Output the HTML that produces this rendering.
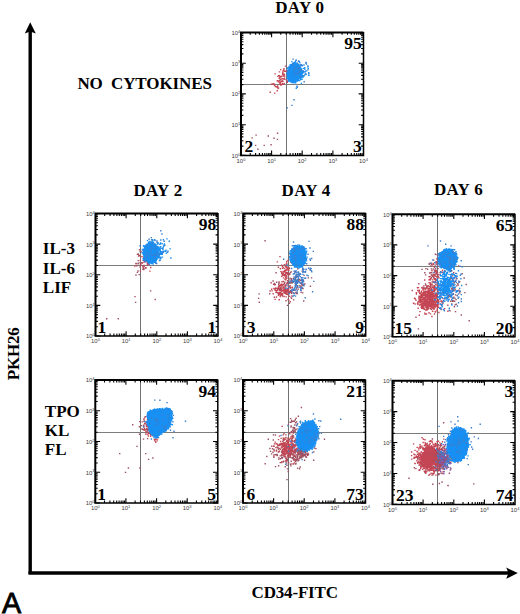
<!DOCTYPE html>
<html><head><meta charset="utf-8"><style>
html,body{margin:0;padding:0;background:#fff;width:520px;height:614px;overflow:hidden}
svg{display:block}
.h{font-family:"Liberation Serif",serif;font-weight:bold;font-size:17px;fill:#000}
.num{font-family:"Liberation Serif",serif;font-weight:bold;font-size:17.5px;fill:#000}
.tl{font-family:"Liberation Sans",sans-serif;font-size:5.9px;fill:#3a3a3a}
.sp{font-size:4px}
.A{font-family:"Liberation Sans",sans-serif;font-size:28.8px;fill:#000;stroke:#000;stroke-width:0.8px}
</style></head><body>
<svg width="520" height="614" viewBox="0 0 520 614">
<rect width="520" height="614" fill="#fff"/>
<path d="M286.5 32.4V155.4" stroke="#727272" stroke-width="1" fill="none"/>
<path d="M241 84.5H363.5" stroke="#7c7c7c" stroke-width="1" fill="none"/>
<path d="M279.7 79.3h1.4M283.7 74.4h1.4M277.6 81.7h1.4M279.6 76.7h1.4M280.0 85.1h1.4M279.5 76.7h1.4M278.9 75.8h1.4M281.8 78.8h1.4M283.5 79.4h1.4M278.8 78.2h1.4M282.0 74.5h1.4M279.4 80.1h1.4M269.5 92.3h1.4M285.4 79.6h1.4M286.6 82.4h1.4M287.5 72.0h1.4M279.5 82.1h1.4M272.1 84.0h1.4M278.8 71.9h1.4M276.8 87.4h1.4M284.7 66.1h1.4M283.2 74.7h1.4M283.2 76.2h1.4M285.2 71.3h1.4M277.8 88.0h1.4M274.4 73.9h1.4M281.4 80.8h1.4M286.0 80.0h1.4M279.6 83.5h1.4M279.2 77.3h1.4M279.0 80.8h1.4M281.3 76.2h1.4M286.7 81.3h1.4M286.7 68.2h1.4M274.0 85.3h1.4M284.1 71.3h1.4M282.2 84.2h1.4M274.7 86.5h1.4M270.7 84.3h1.4M276.5 90.7h1.4M283.0 70.3h1.4M280.8 81.6h1.4M282.7 78.9h1.4M279.2 84.3h1.4M278.0 75.6h1.4M280.5 79.1h1.4M278.5 78.3h1.4M280.0 69.6h1.4M280.8 84.8h1.4M273.2 83.8h1.4M283.9 78.3h1.4M274.0 93.1h1.4M282.2 81.2h1.4M277.7 81.0h1.4M282.4 70.9h1.4M277.0 86.0h1.4M282.1 73.0h1.4M281.6 83.4h1.4M277.4 88.5h1.4M279.1 82.7h1.4M284.0 76.1h1.4M275.6 86.7h1.4M283.3 68.8h1.4M283.3 74.3h1.4M276.6 80.8h1.4M277.2 76.4h1.4M280.5 76.8h1.4M273.8 85.4h1.4M283.5 83.5h1.4M282.2 72.2h1.4" stroke="#c44553" stroke-width="1.4" fill="none"/>
<path d="M294.3 72.2h1.4M298.4 65.5h1.4M297.5 72.8h1.4M290.5 80.2h1.4M296.2 64.5h1.4M298.9 71.2h1.4M295.9 69.1h1.4M295.2 73.1h1.4M290.6 79.6h1.4M298.2 61.3h1.4M300.8 74.1h1.4M298.3 70.1h1.4M298.1 73.6h1.4M299.7 68.3h1.4M297.1 71.8h1.4M301.1 76.3h1.4M299.7 67.1h1.4M297.0 72.8h1.4M299.5 73.6h1.4M298.2 78.3h1.4M288.1 81.3h1.4M294.2 81.2h1.4M301.7 75.8h1.4M292.0 68.1h1.4M292.6 74.1h1.4M298.8 68.6h1.4M292.3 69.1h1.4M298.9 68.5h1.4M296.8 71.9h1.4M294.7 61.7h1.4M291.5 78.3h1.4M297.5 70.6h1.4M296.4 71.6h1.4M293.2 79.6h1.4M301.0 77.0h1.4M299.6 72.7h1.4M299.8 71.1h1.4M300.7 83.4h1.4M296.1 74.7h1.4M301.5 75.8h1.4M300.5 73.3h1.4M297.6 80.2h1.4M299.9 78.0h1.4M295.6 88.3h1.4M308.0 72.6h1.4M303.0 68.4h1.4M304.1 69.4h1.4M300.4 79.3h1.4M298.4 70.9h1.4M298.9 80.6h1.4M299.6 65.0h1.4M299.8 74.8h1.4M296.3 86.3h1.4M297.6 76.6h1.4M296.6 63.9h1.4M292.4 67.6h1.4M305.8 64.0h1.4M298.5 72.5h1.4M307.2 67.0h1.4M294.1 74.9h1.4M296.8 66.2h1.4M299.9 74.5h1.4M294.8 77.5h1.4M299.9 79.5h1.4M302.3 71.3h1.4M292.7 67.3h1.4M300.9 64.8h1.4M290.9 69.4h1.4M307.9 75.2h1.4M304.1 67.7h1.4M298.4 78.8h1.4M302.0 73.2h1.4M297.9 78.3h1.4M297.4 73.8h1.4M299.4 67.8h1.4M297.1 71.0h1.4M291.2 66.7h1.4M299.5 67.1h1.4M301.1 77.4h1.4M295.8 75.3h1.4M298.0 76.7h1.4M296.8 66.4h1.4M294.7 64.0h1.4M301.0 65.6h1.4M303.1 72.0h1.4M291.8 68.6h1.4M304.8 71.2h1.4M300.3 70.4h1.4M291.0 74.3h1.4M298.6 61.6h1.4M296.6 75.9h1.4M293.5 73.6h1.4M301.0 75.0h1.4M294.4 64.0h1.4M297.3 78.8h1.4M298.4 68.5h1.4M300.4 72.2h1.4M295.4 60.3h1.4M294.4 73.9h1.4M295.7 67.8h1.4M300.9 73.0h1.4M294.4 67.4h1.4M294.5 75.3h1.4M301.5 79.1h1.4M292.0 76.3h1.4M290.0 65.3h1.4M298.9 69.0h1.4M297.1 71.6h1.4M298.6 67.7h1.4M301.0 71.5h1.4M292.7 70.3h1.4M301.7 65.8h1.4M301.2 68.9h1.4M299.8 73.8h1.4M304.0 75.0h1.4M296.3 62.9h1.4M298.7 68.9h1.4M303.3 75.6h1.4M301.8 72.2h1.4M293.0 66.6h1.4M291.2 61.6h1.4M301.7 71.5h1.4M297.3 72.4h1.4M300.6 76.0h1.4M296.3 68.2h1.4M302.4 77.1h1.4M296.3 65.6h1.4M299.2 74.5h1.4M295.0 81.5h1.4M299.2 71.0h1.4M307.6 68.6h1.4M299.3 68.0h1.4M306.0 70.9h1.4M298.4 72.7h1.4M292.8 75.5h1.4M308.3 75.4h1.4M296.3 65.5h1.4M295.7 71.3h1.4M299.2 62.9h1.4M305.5 74.2h1.4" stroke="#178ff3" stroke-width="1.4" fill="none"/>
<clipPath id="cA2"><rect x="286.8" y="0" width="600" height="700"/></clipPath>
<ellipse cx="293.8" cy="73.3" rx="6.4" ry="9.1" transform="rotate(8 293.8 73.3)" fill="#178ff3" clip-path="url(#cA2)"/>
<path d="M297.6 71.6h1.4M290.8 78.5h1.4M288.0 70.0h1.4M294.6 76.1h1.4M286.4 68.5h1.4M291.8 66.9h1.4M295.3 81.6h1.4M295.0 80.2h1.4M289.1 67.5h1.4M292.7 64.5h1.4M293.9 78.3h1.4M289.5 66.7h1.4M290.7 64.4h1.4M288.6 69.0h1.4M292.1 78.8h1.4M287.0 75.0h1.4M288.5 69.6h1.4M301.1 70.4h1.4M296.7 65.2h1.4M291.5 68.4h1.4M295.9 72.2h1.4M290.2 81.1h1.4M292.7 81.1h1.4M296.7 78.8h1.4M294.6 80.5h1.4M288.4 66.5h1.4M295.1 78.6h1.4M288.3 78.3h1.4M287.1 72.9h1.4M297.7 78.1h1.4M288.7 78.9h1.4M292.2 79.6h1.4M298.1 70.5h1.4M290.8 71.8h1.4M290.9 80.6h1.4M299.6 70.2h1.4M292.7 70.7h1.4M295.4 66.0h1.4M296.9 75.7h1.4M288.7 69.0h1.4M295.6 68.0h1.4M291.7 79.6h1.4M293.2 65.6h1.4M290.5 78.1h1.4M295.7 64.0h1.4M290.5 80.9h1.4M298.3 70.9h1.4M292.1 67.2h1.4M296.3 67.3h1.4M290.8 75.1h1.4M298.5 71.3h1.4M289.7 69.6h1.4M293.7 69.8h1.4M296.3 70.1h1.4M297.6 64.5h1.4M292.4 75.0h1.4M293.9 62.4h1.4M298.5 72.3h1.4M297.9 71.1h1.4M295.9 78.4h1.4M289.1 75.3h1.4M288.1 80.0h1.4M295.5 77.9h1.4M297.6 72.9h1.4M293.8 66.6h1.4M294.2 65.9h1.4M299.4 67.0h1.4M297.6 76.5h1.4M295.6 75.5h1.4M293.3 64.3h1.4M297.2 68.7h1.4M289.6 76.7h1.4M295.3 67.1h1.4M293.1 68.1h1.4M298.7 67.2h1.4M287.8 75.8h1.4M299.1 73.2h1.4M294.2 63.8h1.4M294.4 62.4h1.4M296.1 71.6h1.4M291.3 66.9h1.4M297.3 75.1h1.4M292.6 78.0h1.4M300.4 73.8h1.4M293.2 80.4h1.4M297.7 78.4h1.4M298.3 73.7h1.4M286.9 74.8h1.4M299.0 70.5h1.4M292.1 77.5h1.4M292.9 63.6h1.4M286.9 75.9h1.4M292.9 64.3h1.4M288.0 75.1h1.4M296.2 69.6h1.4M291.1 72.8h1.4M295.4 76.0h1.4M289.8 76.3h1.4M287.4 75.0h1.4M291.0 77.1h1.4M298.7 74.5h1.4M295.5 77.7h1.4M295.9 64.9h1.4M300.5 74.5h1.4M289.2 67.1h1.4M297.7 79.3h1.4M287.1 78.4h1.4M297.7 66.0h1.4M296.4 77.0h1.4M295.3 68.5h1.4M291.1 66.6h1.4M294.8 75.7h1.4M290.0 81.0h1.4M296.4 77.5h1.4M290.3 81.6h1.4M291.4 79.8h1.4M299.7 74.1h1.4M291.7 82.6h1.4M294.8 66.9h1.4M292.2 81.7h1.4M298.1 75.0h1.4M289.5 78.4h1.4M296.1 68.2h1.4M291.1 68.9h1.4M289.5 68.4h1.4M297.4 73.7h1.4M294.8 80.6h1.4M293.5 65.4h1.4M290.8 74.5h1.4M299.9 77.2h1.4M298.1 78.2h1.4M286.3 73.3h1.4M289.8 80.1h1.4M290.9 81.6h1.4M296.5 67.7h1.4M289.6 64.7h1.4M289.9 77.9h1.4M299.7 71.5h1.4M289.7 76.8h1.4M291.3 70.8h1.4M293.0 81.8h1.4M287.8 70.0h1.4M293.3 67.0h1.4M296.1 64.2h1.4M295.5 78.6h1.4M292.2 69.3h1.4M298.1 69.9h1.4M297.0 65.1h1.4M294.7 70.7h1.4M298.6 72.8h1.4M288.4 69.4h1.4M298.2 76.4h1.4M294.5 81.4h1.4M291.5 80.6h1.4M293.6 82.4h1.4M295.8 64.4h1.4M290.1 66.2h1.4M296.0 69.7h1.4M288.1 75.4h1.4M296.7 77.3h1.4M287.3 76.7h1.4M292.1 67.9h1.4M295.4 69.1h1.4M288.9 76.3h1.4M300.0 70.4h1.4M290.7 70.6h1.4M294.5 66.0h1.4M294.3 81.1h1.4M290.5 81.4h1.4M298.2 77.7h1.4M288.7 70.5h1.4M290.4 77.3h1.4M287.7 80.6h1.4M299.2 73.3h1.4M296.0 69.7h1.4M292.1 81.9h1.4M290.1 75.8h1.4M299.8 75.6h1.4M287.4 78.5h1.4M291.5 66.9h1.4M293.6 64.2h1.4M298.5 66.6h1.4M293.8 81.2h1.4M291.2 82.6h1.4M287.7 71.3h1.4M295.8 64.2h1.4M293.7 80.3h1.4M290.2 70.0h1.4M297.4 69.6h1.4M299.0 73.6h1.4M293.3 78.3h1.4M291.8 76.2h1.4M291.4 81.5h1.4M294.8 82.3h1.4M298.5 66.5h1.4M296.0 74.0h1.4M293.1 80.0h1.4M288.3 73.4h1.4M298.6 70.4h1.4M294.3 65.9h1.4M295.5 65.9h1.4M297.5 73.7h1.4M293.5 81.7h1.4M291.5 79.0h1.4M296.7 68.7h1.4M288.3 72.2h1.4M297.1 72.6h1.4M293.8 67.7h1.4M296.7 77.1h1.4M291.2 74.3h1.4M286.9 70.7h1.4M286.2 78.9h1.4M287.6 74.7h1.4M296.1 65.2h1.4M294.3 66.1h1.4M291.5 80.6h1.4M292.8 78.3h1.4M291.8 78.7h1.4M297.2 70.2h1.4M296.7 80.0h1.4M297.8 73.6h1.4M292.5 78.4h1.4M288.2 72.2h1.4M292.8 69.4h1.4M291.4 69.2h1.4M292.7 63.8h1.4M296.7 67.4h1.4M287.1 77.6h1.4M299.0 77.1h1.4M294.0 82.3h1.4M288.0 75.4h1.4M295.2 69.1h1.4M294.5 63.4h1.4M294.0 76.6h1.4M292.0 81.3h1.4M297.8 71.4h1.4M294.4 71.9h1.4M292.9 69.5h1.4M296.9 81.1h1.4M293.4 67.0h1.4M288.5 72.3h1.4M291.1 77.3h1.4M290.5 72.7h1.4M291.1 70.7h1.4M295.7 78.3h1.4M289.4 73.6h1.4M297.6 79.6h1.4M289.7 81.9h1.4M291.0 77.3h1.4M287.6 67.8h1.4M288.4 73.6h1.4M300.0 70.1h1.4M290.7 81.4h1.4M298.4 66.1h1.4M294.8 64.8h1.4M289.5 66.2h1.4M294.8 67.2h1.4M297.6 72.3h1.4M291.0 81.3h1.4M298.4 72.8h1.4M294.4 79.4h1.4M295.3 69.9h1.4M289.5 79.1h1.4M299.4 75.7h1.4M296.1 66.3h1.4M289.8 70.0h1.4M296.0 68.2h1.4M290.1 69.6h1.4M288.7 78.0h1.4M297.2 66.2h1.4M290.3 66.8h1.4M287.1 76.4h1.4M294.9 82.8h1.4M289.7 80.5h1.4M297.0 74.8h1.4M289.7 78.8h1.4M292.9 75.5h1.4M291.6 79.3h1.4M299.0 74.8h1.4M288.6 76.1h1.4M292.5 62.9h1.4M289.3 80.2h1.4M295.3 66.5h1.4M291.2 80.8h1.4M288.4 69.4h1.4M292.6 64.4h1.4M289.4 77.3h1.4M295.8 68.6h1.4M290.5 65.6h1.4M288.1 70.8h1.4M297.0 72.6h1.4M296.1 65.6h1.4M287.9 70.3h1.4M290.2 74.2h1.4M298.4 69.4h1.4M296.8 76.9h1.4M288.2 71.3h1.4M299.0 76.4h1.4M292.1 81.4h1.4M293.3 77.0h1.4M296.1 65.7h1.4M296.9 77.6h1.4M286.4 73.2h1.4M289.6 68.6h1.4M294.6 67.9h1.4M287.1 73.2h1.4M297.6 70.8h1.4M288.0 80.7h1.4M292.4 78.9h1.4M295.5 64.3h1.4M289.9 79.2h1.4M293.5 66.4h1.4M292.8 65.5h1.4M288.0 74.5h1.4M299.6 72.1h1.4M294.0 65.4h1.4M291.5 81.0h1.4M298.2 74.2h1.4M296.3 80.2h1.4M296.2 65.6h1.4M298.6 77.2h1.4M292.0 81.2h1.4M291.2 65.4h1.4M291.6 81.5h1.4M293.1 82.7h1.4M295.4 68.0h1.4M287.3 72.0h1.4M289.0 74.4h1.4M287.7 75.0h1.4M287.4 74.3h1.4M292.3 63.7h1.4M286.5 75.7h1.4M290.2 66.3h1.4M296.3 76.1h1.4M290.8 67.6h1.4M289.2 72.1h1.4M289.9 67.2h1.4M292.6 66.0h1.4M287.8 79.7h1.4M290.8 81.1h1.4M297.1 70.9h1.4M298.9 74.1h1.4M297.9 76.4h1.4M291.3 82.2h1.4M297.3 66.1h1.4M297.3 70.1h1.4M291.4 68.0h1.4M296.7 74.8h1.4M301.7 73.9h1.4M300.0 68.5h1.4" stroke="#178ff3" stroke-width="1.4" fill="none"/>
<path d="M303.5 81.7h1.4M299.0 71.5h1.4M291.4 64.7h1.4M293.3 68.2h1.4M308.1 73.5h1.4M307.2 69.9h1.4M304.7 73.3h1.4M295.4 67.3h1.4M299.4 64.9h1.4M303.3 65.0h1.4M296.8 63.4h1.4M298.2 71.9h1.4M297.8 68.2h1.4M293.3 70.7h1.4M298.1 73.9h1.4M287.0 70.5h1.4M300.7 64.6h1.4M292.3 64.8h1.4M297.8 61.2h1.4M302.4 70.8h1.4M300.4 65.0h1.4M297.5 68.7h1.4M295.0 67.1h1.4M300.3 69.8h1.4M299.8 76.7h1.4M299.3 68.0h1.4M293.9 69.2h1.4M292.0 63.7h1.4M303.2 71.8h1.4M305.3 63.0h1.4M303.0 76.0h1.4M297.0 72.1h1.4M293.2 73.6h1.4M292.4 59.1h1.4M296.6 87.2h1.4M293.5 75.9h1.4M294.1 73.5h1.4M295.5 60.4h1.4M300.5 70.0h1.4M296.3 73.8h1.4" stroke="#3d7fcc" stroke-width="1.4" fill="none"/>
<path d="M255.4 135.1h1.4M251.4 137.9h1.4M267.6 136.0h1.4M276.8 133.3h1.4M273.3 138.3h1.4M276.8 139.4h1.4M254.9 145.4h1.4M263.5 145.4h1.4M270.4 144.8h1.4M257.2 149.2h1.4" stroke="#9c5060" stroke-width="1.4" fill="none"/>
<path d="M293.3 99.8h1.4M291.2 105.4h1.4M286.6 107.9h1.4M305.3 62.5h1.4M307.3 66.0h1.4" stroke="#3d7fcc" stroke-width="1.4" fill="none"/>
<path d="M241 155.4v-4.8M241 32.4v4.8M241 155.4h4.8M363.5 155.4h-4.8M250.2 155.4v-2.4M250.2 32.4v2.4M241 146.1h2.4M363.5 146.1h-2.4M255.6 155.4v-2.4M255.6 32.4v2.4M241 140.7h2.4M363.5 140.7h-2.4M259.4 155.4v-2.4M259.4 32.4v2.4M241 136.9h2.4M363.5 136.9h-2.4M262.4 155.4v-2.4M262.4 32.4v2.4M241 133.9h2.4M363.5 133.9h-2.4M264.8 155.4v-2.4M264.8 32.4v2.4M241 131.5h2.4M363.5 131.5h-2.4M266.9 155.4v-2.4M266.9 32.4v2.4M241 129.4h2.4M363.5 129.4h-2.4M268.7 155.4v-2.4M268.7 32.4v2.4M241 127.6h2.4M363.5 127.6h-2.4M270.2 155.4v-2.4M270.2 32.4v2.4M241 126.1h2.4M363.5 126.1h-2.4M271.6 155.4v-4.8M271.6 32.4v4.8M241 124.7h4.8M363.5 124.7h-4.8M280.8 155.4v-2.4M280.8 32.4v2.4M241 115.4h2.4M363.5 115.4h-2.4M286.2 155.4v-2.4M286.2 32.4v2.4M241 110h2.4M363.5 110h-2.4M290.1 155.4v-2.4M290.1 32.4v2.4M241 106.1h2.4M363.5 106.1h-2.4M293 155.4v-2.4M293 32.4v2.4M241 103.2h2.4M363.5 103.2h-2.4M295.5 155.4v-2.4M295.5 32.4v2.4M241 100.7h2.4M363.5 100.7h-2.4M297.5 155.4v-2.4M297.5 32.4v2.4M241 98.7h2.4M363.5 98.7h-2.4M299.3 155.4v-2.4M299.3 32.4v2.4M241 96.9h2.4M363.5 96.9h-2.4M300.8 155.4v-2.4M300.8 32.4v2.4M241 95.3h2.4M363.5 95.3h-2.4M302.2 155.4v-4.8M302.2 32.4v4.8M241 93.9h4.8M363.5 93.9h-4.8M311.5 155.4v-2.4M311.5 32.4v2.4M241 84.6h2.4M363.5 84.6h-2.4M316.9 155.4v-2.4M316.9 32.4v2.4M241 79.2h2.4M363.5 79.2h-2.4M320.7 155.4v-2.4M320.7 32.4v2.4M241 75.4h2.4M363.5 75.4h-2.4M323.7 155.4v-2.4M323.7 32.4v2.4M241 72.4h2.4M363.5 72.4h-2.4M326.1 155.4v-2.4M326.1 32.4v2.4M241 70h2.4M363.5 70h-2.4M328.1 155.4v-2.4M328.1 32.4v2.4M241 67.9h2.4M363.5 67.9h-2.4M329.9 155.4v-2.4M329.9 32.4v2.4M241 66.1h2.4M363.5 66.1h-2.4M331.5 155.4v-2.4M331.5 32.4v2.4M241 64.6h2.4M363.5 64.6h-2.4M332.9 155.4v-4.8M332.9 32.4v4.8M241 63.2h4.8M363.5 63.2h-4.8M342.1 155.4v-2.4M342.1 32.4v2.4M241 53.9h2.4M363.5 53.9h-2.4M347.5 155.4v-2.4M347.5 32.4v2.4M241 48.5h2.4M363.5 48.5h-2.4M351.3 155.4v-2.4M351.3 32.4v2.4M241 44.6h2.4M363.5 44.6h-2.4M354.3 155.4v-2.4M354.3 32.4v2.4M241 41.7h2.4M363.5 41.7h-2.4M356.7 155.4v-2.4M356.7 32.4v2.4M241 39.2h2.4M363.5 39.2h-2.4M358.8 155.4v-2.4M358.8 32.4v2.4M241 37.2h2.4M363.5 37.2h-2.4M360.5 155.4v-2.4M360.5 32.4v2.4M241 35.4h2.4M363.5 35.4h-2.4M362.1 155.4v-2.4M362.1 32.4v2.4M241 33.8h2.4M363.5 33.8h-2.4" stroke="#000" stroke-width="1.1" fill="none"/>
<path d="M241 155.4V32.4H363.5" stroke="#000" stroke-width="2" fill="none"/>
<path d="M363.5 31.9V155.4H240" stroke="#000" stroke-width="1.5" fill="none"/>
<text x="241" y="162.7" class="tl" text-anchor="middle">10<tspan class="sp" dy="-2.2">0</tspan></text>
<text x="240.2" y="157.8" class="tl" text-anchor="end">10<tspan class="sp" dy="-2.2">0</tspan></text>
<text x="271.6" y="162.7" class="tl" text-anchor="middle">10<tspan class="sp" dy="-2.2">1</tspan></text>
<text x="240.2" y="127.1" class="tl" text-anchor="end">10<tspan class="sp" dy="-2.2">1</tspan></text>
<text x="302.2" y="162.7" class="tl" text-anchor="middle">10<tspan class="sp" dy="-2.2">2</tspan></text>
<text x="240.2" y="96.3" class="tl" text-anchor="end">10<tspan class="sp" dy="-2.2">2</tspan></text>
<text x="332.9" y="162.7" class="tl" text-anchor="middle">10<tspan class="sp" dy="-2.2">3</tspan></text>
<text x="240.2" y="65.6" class="tl" text-anchor="end">10<tspan class="sp" dy="-2.2">3</tspan></text>
<text x="363.5" y="162.7" class="tl" text-anchor="middle">10<tspan class="sp" dy="-2.2">4</tspan></text>
<text x="240.2" y="34.8" class="tl" text-anchor="end">10<tspan class="sp" dy="-2.2">4</tspan></text>
<text x="361.7" y="49" class="num" text-anchor="end">95</text>
<text x="244.5" y="152.3" class="num">2</text>
<text x="361.7" y="152.3" class="num" text-anchor="end">3</text><path d="M140.5 213.5V336" stroke="#727272" stroke-width="1" fill="none"/>
<path d="M95.5 265.5H218" stroke="#7c7c7c" stroke-width="1" fill="none"/>
<path d="M134.1 266.0h1.4M143.3 265.4h1.4M140.6 263.9h1.4M139.6 265.2h1.4M150.0 267.5h1.4M139.3 255.8h1.4M141.7 263.1h1.4M143.9 251.9h1.4M149.9 257.0h1.4M146.9 265.0h1.4M143.8 260.7h1.4M143.4 266.8h1.4M144.6 260.9h1.4M143.3 269.0h1.4M148.2 262.1h1.4M143.9 256.4h1.4M144.1 258.3h1.4M143.7 259.2h1.4M138.8 255.6h1.4M147.7 263.6h1.4M139.7 271.1h1.4M148.5 264.2h1.4M146.3 261.9h1.4M146.0 261.5h1.4M139.6 260.5h1.4M142.8 258.3h1.4M135.4 263.8h1.4M149.3 271.1h1.4M146.6 263.7h1.4M145.2 268.1h1.4M142.4 267.2h1.4M147.8 263.5h1.4M146.6 262.1h1.4M141.2 256.6h1.4M143.3 262.3h1.4M144.4 259.7h1.4M142.9 257.2h1.4M145.7 260.4h1.4" stroke="#c44553" stroke-width="1.4" fill="none"/>
<path d="M139.8 265.4h1.4M144.1 260.8h1.4M139.4 267.0h1.4M142.5 260.4h1.4M142.7 268.8h1.4M136.7 272.4h1.4M145.1 267.8h1.4M141.1 262.6h1.4M138.2 255.3h1.4M140.6 251.9h1.4M136.1 265.8h1.4M137.5 260.6h1.4M142.8 269.6h1.4M137.6 263.1h1.4M139.5 251.6h1.4M137.4 263.7h1.4M135.4 263.4h1.4M138.5 274.6h1.4M137.8 256.1h1.4M139.4 262.7h1.4M136.7 254.4h1.4M137.5 254.0h1.4M142.3 269.2h1.4M138.8 249.8h1.4M142.1 266.0h1.4" stroke="#9c5060" stroke-width="1.4" fill="none"/>
<path d="M156.1 255.7h1.4M152.7 247.0h1.4M162.4 247.7h1.4M152.2 240.2h1.4M156.6 250.5h1.4M149.4 255.2h1.4M154.0 239.8h1.4M157.4 257.7h1.4M158.4 249.4h1.4M160.9 253.0h1.4M156.4 252.8h1.4M150.2 256.3h1.4M149.7 243.0h1.4M155.0 255.8h1.4M157.2 250.4h1.4M153.6 249.8h1.4M155.9 248.8h1.4M157.9 247.6h1.4M162.2 248.2h1.4M156.2 247.8h1.4M152.4 244.4h1.4M150.6 255.6h1.4M146.5 249.1h1.4M165.1 251.4h1.4M153.5 251.5h1.4M146.8 240.6h1.4M156.4 254.4h1.4M156.6 253.7h1.4M152.5 251.2h1.4M163.7 243.9h1.4M160.1 246.6h1.4M148.8 254.1h1.4M150.5 255.5h1.4M161.6 254.2h1.4M152.6 250.1h1.4M158.1 256.8h1.4M168.6 241.3h1.4M154.7 246.8h1.4M150.4 262.5h1.4M155.1 258.9h1.4M155.1 247.1h1.4M159.2 249.6h1.4M163.6 251.1h1.4M149.3 250.3h1.4M163.5 244.7h1.4M160.0 252.8h1.4M161.0 251.8h1.4M154.4 246.2h1.4M153.0 250.2h1.4M157.0 256.2h1.4M155.5 260.2h1.4M156.6 246.9h1.4M158.2 247.1h1.4M159.6 244.1h1.4M147.2 251.5h1.4M156.7 247.7h1.4M159.5 248.5h1.4M170.1 258.0h1.4M163.2 251.1h1.4M156.6 251.7h1.4M157.3 243.2h1.4M162.7 239.8h1.4M149.4 244.3h1.4M152.4 255.7h1.4M152.6 248.3h1.4M150.0 242.1h1.4M145.9 255.2h1.4M156.1 247.2h1.4M159.8 253.5h1.4M150.4 247.4h1.4M159.8 258.6h1.4M153.7 256.4h1.4M161.8 257.1h1.4M155.8 255.2h1.4M159.4 248.5h1.4M156.4 249.7h1.4M148.6 251.3h1.4M154.2 245.6h1.4M158.7 257.6h1.4M158.9 248.4h1.4M149.7 256.0h1.4M151.5 257.9h1.4M153.2 253.1h1.4M154.0 251.8h1.4M160.4 254.3h1.4M150.9 259.8h1.4M160.2 253.2h1.4M150.6 247.2h1.4M151.0 246.6h1.4M159.3 250.6h1.4M153.8 251.4h1.4M156.4 244.6h1.4M158.2 250.9h1.4M152.0 250.5h1.4M145.8 257.6h1.4M156.1 254.4h1.4M152.5 254.0h1.4M156.8 242.9h1.4M155.0 262.0h1.4M156.0 253.5h1.4M158.9 257.8h1.4M156.9 242.8h1.4M158.5 256.1h1.4M158.8 244.4h1.4M156.1 248.4h1.4M156.8 248.3h1.4M161.4 252.7h1.4M151.5 245.3h1.4M152.6 251.8h1.4M150.6 249.0h1.4M159.7 251.5h1.4M149.7 257.4h1.4M169.4 248.9h1.4M151.6 249.4h1.4M161.4 243.8h1.4M159.5 250.5h1.4M162.5 251.4h1.4M153.6 248.3h1.4M158.3 250.1h1.4M151.6 239.8h1.4M156.9 247.9h1.4M165.3 250.2h1.4M164.8 251.2h1.4M159.1 250.3h1.4M156.7 255.5h1.4M152.7 252.0h1.4M163.6 245.6h1.4M153.7 255.0h1.4M158.0 254.3h1.4M155.2 256.2h1.4M155.3 249.6h1.4M147.3 247.9h1.4M156.2 259.3h1.4M154.9 263.1h1.4M151.0 251.5h1.4M161.1 248.4h1.4M153.4 253.9h1.4M159.1 254.5h1.4M165.7 253.2h1.4M163.5 245.2h1.4M151.2 252.1h1.4M155.2 254.4h1.4M154.8 256.1h1.4M152.6 251.4h1.4M150.0 250.5h1.4M160.0 257.1h1.4M162.8 246.3h1.4M152.2 250.4h1.4M155.0 247.5h1.4M158.1 247.9h1.4M158.8 260.5h1.4M156.8 255.8h1.4M154.2 246.4h1.4M147.1 259.0h1.4M166.3 238.9h1.4M151.3 249.6h1.4M151.5 248.5h1.4M159.6 250.6h1.4M159.9 242.9h1.4M154.2 260.9h1.4M152.7 242.3h1.4M153.0 251.2h1.4M143.4 253.0h1.4M159.5 248.8h1.4M155.1 250.4h1.4M154.6 244.4h1.4M152.8 254.3h1.4M159.0 253.5h1.4M151.1 254.0h1.4M160.2 258.5h1.4" stroke="#178ff3" stroke-width="1.4" fill="none"/>
<clipPath id="cB3"><rect x="141.8" y="0" width="600" height="700"/></clipPath>
<ellipse cx="150.8" cy="252.6" rx="7.6" ry="9.8" transform="rotate(0 150.8 252.6)" fill="#178ff3" clip-path="url(#cB3)"/>
<path d="M151.0 256.0h1.4M156.1 250.0h1.4M149.1 241.4h1.4M146.5 252.4h1.4M153.3 249.1h1.4M143.6 251.6h1.4M147.6 262.9h1.4M149.5 261.6h1.4M145.8 246.4h1.4M147.2 245.0h1.4M149.3 256.6h1.4M144.8 256.3h1.4M143.9 246.9h1.4M151.1 255.5h1.4M147.8 246.7h1.4M152.9 261.1h1.4M144.8 252.5h1.4M150.8 259.8h1.4M151.1 261.0h1.4M150.4 246.9h1.4M143.2 254.1h1.4M143.2 249.4h1.4M145.1 259.1h1.4M149.4 245.3h1.4M144.7 248.0h1.4M148.0 249.3h1.4M143.0 253.3h1.4M150.8 258.9h1.4M152.9 244.1h1.4M147.3 251.5h1.4M151.9 261.1h1.4M155.0 248.8h1.4M149.5 242.7h1.4M153.5 244.7h1.4M155.2 256.4h1.4M155.4 250.5h1.4M148.8 243.3h1.4M151.3 262.6h1.4M153.2 245.3h1.4M143.3 246.5h1.4M154.9 257.9h1.4M145.3 247.7h1.4M151.6 263.3h1.4M149.2 244.8h1.4M155.4 255.5h1.4M152.4 264.1h1.4M158.4 250.6h1.4M147.5 261.2h1.4M157.1 248.7h1.4M151.3 256.4h1.4M150.7 243.0h1.4M154.0 256.5h1.4M144.2 248.4h1.4M145.7 249.7h1.4M145.7 249.5h1.4M143.0 254.7h1.4M152.9 247.4h1.4M153.3 262.3h1.4M152.9 261.3h1.4M142.4 249.5h1.4M145.6 260.7h1.4M144.8 257.4h1.4M147.1 247.0h1.4M147.5 246.0h1.4M146.3 257.7h1.4M148.4 261.1h1.4M156.8 253.8h1.4M147.8 243.5h1.4M155.0 260.7h1.4M151.0 260.0h1.4M153.8 260.4h1.4M155.4 256.9h1.4M154.2 251.2h1.4M152.0 260.5h1.4M149.3 259.6h1.4M157.0 246.6h1.4M145.4 258.7h1.4M146.3 244.1h1.4M148.4 262.7h1.4M148.3 243.5h1.4M144.6 247.5h1.4M143.3 252.9h1.4M150.3 261.3h1.4M156.5 250.0h1.4M146.1 244.9h1.4M150.4 262.3h1.4M145.6 259.1h1.4M151.5 251.7h1.4M143.7 254.9h1.4M148.6 245.7h1.4M157.3 256.2h1.4M149.8 260.3h1.4M155.2 259.3h1.4M148.1 247.5h1.4M156.5 255.4h1.4M147.2 246.8h1.4M145.8 255.6h1.4M153.8 244.7h1.4M142.8 260.0h1.4M154.4 248.1h1.4M148.5 252.8h1.4M145.1 255.3h1.4M150.6 244.0h1.4M142.9 251.6h1.4M144.8 259.8h1.4M143.9 247.4h1.4M147.3 258.0h1.4M150.1 242.6h1.4M147.3 259.3h1.4M157.1 255.7h1.4M144.3 257.8h1.4M149.3 245.9h1.4M148.9 244.3h1.4M153.5 258.2h1.4M147.5 259.9h1.4M144.7 248.8h1.4M144.0 249.3h1.4M151.5 241.2h1.4M152.1 260.5h1.4M145.1 247.0h1.4M143.6 253.7h1.4M143.7 252.7h1.4M155.2 247.5h1.4M144.4 253.2h1.4M151.3 246.0h1.4M149.8 258.3h1.4M156.3 254.9h1.4M157.5 254.8h1.4M144.3 255.1h1.4M147.8 258.6h1.4M144.8 252.5h1.4M152.4 245.1h1.4M148.5 243.8h1.4M154.9 244.1h1.4M153.6 247.4h1.4M151.3 258.5h1.4M154.2 247.1h1.4M152.4 257.0h1.4M142.5 249.3h1.4M152.3 244.7h1.4M155.0 260.4h1.4M153.2 259.7h1.4M146.0 248.3h1.4M145.5 248.7h1.4M143.9 246.3h1.4M146.0 257.9h1.4M151.1 245.6h1.4M145.9 252.7h1.4M155.6 253.6h1.4M155.8 254.6h1.4M153.8 251.8h1.4M155.6 248.4h1.4M154.1 261.4h1.4M154.2 246.0h1.4M153.4 246.9h1.4M145.4 247.7h1.4M153.0 244.8h1.4M142.8 251.9h1.4M155.1 249.6h1.4M151.5 259.9h1.4M143.6 257.0h1.4M145.3 251.6h1.4M156.2 256.7h1.4M151.8 257.6h1.4M149.9 244.9h1.4M145.1 254.4h1.4M150.7 242.5h1.4M155.4 260.5h1.4M158.1 252.7h1.4M157.3 251.9h1.4M154.0 261.1h1.4M143.4 258.0h1.4M145.2 258.4h1.4M150.4 257.9h1.4M157.9 257.1h1.4M143.9 259.6h1.4M154.5 246.9h1.4M151.4 250.1h1.4M150.2 246.9h1.4M147.6 244.4h1.4M153.2 256.6h1.4M145.9 256.0h1.4M154.7 250.6h1.4M147.1 253.0h1.4M145.9 253.8h1.4M149.9 259.8h1.4M156.9 254.2h1.4M157.2 253.7h1.4M152.7 248.9h1.4M146.9 255.1h1.4M144.1 250.8h1.4M149.3 262.6h1.4M143.7 255.9h1.4M153.8 255.0h1.4M144.7 247.1h1.4M154.1 258.3h1.4M150.2 245.1h1.4M150.9 261.5h1.4M148.7 264.1h1.4M152.4 261.2h1.4M143.1 253.1h1.4M149.2 244.4h1.4M142.5 254.4h1.4M156.7 254.8h1.4M146.4 257.9h1.4M146.7 254.5h1.4M153.0 250.3h1.4M149.1 245.3h1.4M144.5 252.0h1.4M156.4 256.1h1.4M147.3 245.9h1.4M154.2 261.1h1.4M152.3 261.5h1.4M154.2 250.2h1.4M154.5 258.6h1.4M150.1 244.3h1.4M154.3 248.5h1.4M147.9 256.9h1.4M144.8 256.6h1.4M156.1 249.6h1.4M147.2 256.8h1.4M156.6 247.0h1.4M155.2 258.9h1.4M149.6 261.4h1.4M150.6 260.4h1.4M143.6 253.9h1.4M149.6 261.6h1.4M144.0 251.9h1.4M156.7 257.2h1.4M150.6 243.7h1.4M147.9 242.3h1.4M154.4 247.4h1.4M141.6 252.7h1.4M151.9 254.9h1.4M150.7 244.5h1.4M150.0 260.6h1.4M149.8 245.3h1.4M146.9 259.1h1.4M150.7 245.4h1.4M145.5 252.4h1.4M156.2 250.1h1.4M153.9 245.3h1.4M147.3 251.1h1.4M143.3 260.3h1.4M151.8 259.8h1.4M146.5 248.6h1.4M157.4 251.9h1.4M147.6 258.2h1.4M144.9 248.7h1.4M149.4 245.8h1.4M145.2 245.8h1.4M146.1 250.0h1.4M146.7 249.5h1.4M155.3 254.2h1.4M150.5 253.9h1.4M145.5 258.2h1.4M147.5 261.4h1.4M145.5 250.5h1.4M147.3 262.5h1.4M156.3 249.5h1.4M143.6 251.6h1.4M145.0 256.0h1.4M156.6 252.0h1.4M154.1 256.5h1.4M143.4 249.2h1.4M154.0 252.7h1.4M156.2 253.0h1.4M143.6 249.3h1.4M146.5 258.2h1.4M154.1 259.2h1.4M152.0 259.2h1.4M150.6 249.3h1.4M153.9 247.5h1.4M152.8 245.6h1.4M155.5 249.4h1.4M154.6 255.6h1.4M155.2 254.0h1.4M155.0 261.0h1.4M144.3 255.8h1.4M152.9 245.6h1.4M153.5 259.7h1.4M144.7 245.6h1.4M149.7 245.9h1.4M152.0 245.4h1.4M158.3 250.3h1.4M156.7 257.1h1.4M154.3 250.2h1.4M148.1 246.0h1.4M147.4 245.2h1.4M151.9 244.6h1.4M152.7 242.7h1.4M153.0 245.9h1.4M144.0 254.2h1.4M154.0 244.3h1.4M154.2 261.6h1.4M154.1 244.5h1.4M146.4 253.9h1.4M153.8 246.4h1.4M156.8 251.3h1.4M143.9 251.2h1.4M148.5 243.9h1.4M155.9 256.2h1.4M150.5 263.5h1.4M150.8 245.9h1.4M155.3 250.8h1.4M151.4 259.2h1.4M144.8 252.0h1.4M154.1 248.8h1.4M148.6 257.7h1.4M145.4 254.8h1.4M150.7 260.2h1.4M144.2 250.0h1.4M144.2 251.4h1.4M142.8 249.7h1.4M143.0 250.9h1.4M142.5 254.1h1.4M144.7 261.9h1.4M143.9 250.2h1.4M151.2 244.9h1.4M147.9 247.2h1.4M147.1 251.7h1.4M156.4 253.5h1.4M146.8 244.2h1.4M143.8 256.6h1.4M150.3 257.8h1.4M145.7 258.9h1.4M145.8 247.9h1.4M142.6 250.8h1.4M145.0 255.7h1.4M144.2 253.9h1.4M147.1 261.3h1.4M155.7 246.5h1.4M147.1 244.1h1.4M152.9 245.6h1.4M147.4 258.4h1.4M152.6 256.2h1.4M154.6 257.1h1.4M145.8 258.9h1.4M148.4 243.3h1.4M155.1 247.6h1.4M154.0 262.2h1.4M155.0 246.5h1.4M150.0 243.3h1.4M144.3 250.0h1.4M146.3 248.8h1.4M156.3 258.9h1.4M153.4 261.7h1.4M152.7 260.0h1.4M155.7 246.3h1.4M148.4 249.0h1.4M142.6 258.6h1.4M149.8 247.6h1.4M147.1 245.9h1.4M153.8 245.4h1.4M151.8 243.6h1.4M154.8 246.5h1.4M155.9 258.2h1.4M157.7 249.2h1.4M145.4 256.0h1.4M157.1 254.2h1.4M146.8 257.6h1.4M147.2 258.3h1.4M155.0 248.4h1.4M150.8 243.0h1.4M157.9 255.2h1.4M157.1 247.5h1.4M143.3 256.0h1.4M149.6 246.3h1.4M151.8 255.8h1.4M147.9 246.7h1.4M147.5 247.4h1.4M146.3 245.9h1.4M152.2 247.2h1.4M156.7 250.4h1.4M156.8 253.5h1.4M158.2 254.6h1.4M147.2 248.8h1.4M144.9 253.6h1.4M154.1 256.0h1.4M144.8 250.0h1.4M147.5 261.8h1.4M153.5 255.8h1.4M144.1 247.3h1.4M153.2 255.2h1.4M147.3 250.7h1.4M149.2 247.3h1.4M144.2 246.4h1.4M152.0 262.7h1.4M147.1 256.8h1.4M153.2 260.1h1.4M152.0 244.6h1.4M152.3 248.8h1.4M146.3 246.9h1.4M145.0 249.9h1.4M145.4 245.0h1.4M151.8 247.8h1.4M149.8 260.2h1.4M144.7 251.4h1.4M146.6 259.8h1.4M145.9 256.6h1.4M144.0 250.2h1.4M157.1 251.2h1.4M151.0 258.1h1.4M145.6 259.6h1.4M148.4 247.1h1.4M145.1 251.5h1.4M144.7 246.7h1.4M145.0 245.8h1.4M147.8 245.2h1.4M153.2 260.3h1.4M149.9 244.0h1.4M156.1 251.4h1.4M144.4 247.3h1.4M148.4 246.9h1.4M145.5 248.6h1.4M141.6 249.9h1.4M152.2 243.2h1.4M151.6 250.0h1.4M151.1 257.3h1.4M142.8 245.8h1.4" stroke="#178ff3" stroke-width="1.4" fill="none"/>
<path d="M162.8 252.4h1.4M159.1 253.1h1.4M146.0 255.5h1.4M154.3 240.5h1.4M156.3 242.0h1.4M151.9 255.7h1.4M163.5 241.3h1.4M149.0 249.8h1.4M150.4 251.7h1.4M154.3 248.9h1.4M159.6 247.1h1.4M155.2 263.3h1.4M161.8 253.1h1.4M155.9 253.3h1.4M156.7 253.3h1.4M145.5 258.1h1.4M164.1 245.2h1.4M153.4 255.0h1.4M155.2 255.5h1.4M157.5 243.1h1.4M156.3 240.9h1.4M162.2 249.6h1.4M145.9 252.6h1.4M155.4 255.0h1.4M159.4 260.2h1.4M166.9 252.3h1.4M146.1 245.8h1.4M147.3 255.8h1.4M151.0 239.7h1.4M160.1 230.8h1.4M154.2 248.8h1.4M155.9 253.0h1.4M151.0 248.8h1.4M148.4 239.2h1.4M153.6 244.1h1.4M139.4 245.8h1.4M151.7 242.9h1.4M167.3 251.2h1.4M150.8 242.7h1.4M161.2 234.0h1.4M158.3 255.6h1.4M154.4 248.0h1.4M142.5 250.4h1.4M154.2 258.2h1.4M150.6 237.6h1.4M160.0 240.0h1.4M155.3 246.0h1.4M156.0 263.5h1.4M151.0 246.2h1.4M150.3 254.3h1.4" stroke="#3d7fcc" stroke-width="1.4" fill="none"/>
<path d="M134.3 296.6h1.4M134.9 302.4h1.4M149.9 290.9h1.4M154.5 299.5h1.4M106.0 318.8h1.4M117.6 318.8h1.4M137.3 271.0h1.4M135.3 275.0h1.4" stroke="#9c5060" stroke-width="1.4" fill="none"/>
<path d="M95.5 336v-4.8M95.5 213.5v4.8M95.5 336h4.8M218 336h-4.8M104.7 336v-2.4M104.7 213.5v2.4M95.5 326.8h2.4M218 326.8h-2.4M110.1 336v-2.4M110.1 213.5v2.4M95.5 321.4h2.4M218 321.4h-2.4M113.9 336v-2.4M113.9 213.5v2.4M95.5 317.6h2.4M218 317.6h-2.4M116.9 336v-2.4M116.9 213.5v2.4M95.5 314.6h2.4M218 314.6h-2.4M119.3 336v-2.4M119.3 213.5v2.4M95.5 312.2h2.4M218 312.2h-2.4M121.4 336v-2.4M121.4 213.5v2.4M95.5 310.1h2.4M218 310.1h-2.4M123.2 336v-2.4M123.2 213.5v2.4M95.5 308.3h2.4M218 308.3h-2.4M124.7 336v-2.4M124.7 213.5v2.4M95.5 306.8h2.4M218 306.8h-2.4M126.1 336v-4.8M126.1 213.5v4.8M95.5 305.4h4.8M218 305.4h-4.8M135.3 336v-2.4M135.3 213.5v2.4M95.5 296.2h2.4M218 296.2h-2.4M140.7 336v-2.4M140.7 213.5v2.4M95.5 290.8h2.4M218 290.8h-2.4M144.6 336v-2.4M144.6 213.5v2.4M95.5 286.9h2.4M218 286.9h-2.4M147.5 336v-2.4M147.5 213.5v2.4M95.5 284h2.4M218 284h-2.4M150 336v-2.4M150 213.5v2.4M95.5 281.5h2.4M218 281.5h-2.4M152 336v-2.4M152 213.5v2.4M95.5 279.5h2.4M218 279.5h-2.4M153.8 336v-2.4M153.8 213.5v2.4M95.5 277.7h2.4M218 277.7h-2.4M155.3 336v-2.4M155.3 213.5v2.4M95.5 276.2h2.4M218 276.2h-2.4M156.8 336v-4.8M156.8 213.5v4.8M95.5 274.8h4.8M218 274.8h-4.8M166 336v-2.4M166 213.5v2.4M95.5 265.5h2.4M218 265.5h-2.4M171.4 336v-2.4M171.4 213.5v2.4M95.5 260.1h2.4M218 260.1h-2.4M175.2 336v-2.4M175.2 213.5v2.4M95.5 256.3h2.4M218 256.3h-2.4M178.2 336v-2.4M178.2 213.5v2.4M95.5 253.3h2.4M218 253.3h-2.4M180.6 336v-2.4M180.6 213.5v2.4M95.5 250.9h2.4M218 250.9h-2.4M182.6 336v-2.4M182.6 213.5v2.4M95.5 248.9h2.4M218 248.9h-2.4M184.4 336v-2.4M184.4 213.5v2.4M95.5 247.1h2.4M218 247.1h-2.4M186 336v-2.4M186 213.5v2.4M95.5 245.5h2.4M218 245.5h-2.4M187.4 336v-4.8M187.4 213.5v4.8M95.5 244.1h4.8M218 244.1h-4.8M196.6 336v-2.4M196.6 213.5v2.4M95.5 234.9h2.4M218 234.9h-2.4M202 336v-2.4M202 213.5v2.4M95.5 229.5h2.4M218 229.5h-2.4M205.8 336v-2.4M205.8 213.5v2.4M95.5 225.7h2.4M218 225.7h-2.4M208.8 336v-2.4M208.8 213.5v2.4M95.5 222.7h2.4M218 222.7h-2.4M211.2 336v-2.4M211.2 213.5v2.4M95.5 220.3h2.4M218 220.3h-2.4M213.3 336v-2.4M213.3 213.5v2.4M95.5 218.2h2.4M218 218.2h-2.4M215 336v-2.4M215 213.5v2.4M95.5 216.5h2.4M218 216.5h-2.4M216.6 336v-2.4M216.6 213.5v2.4M95.5 214.9h2.4M218 214.9h-2.4" stroke="#000" stroke-width="1.1" fill="none"/>
<path d="M95.5 336V213.5H218" stroke="#000" stroke-width="2" fill="none"/>
<path d="M218 213V336H94.5" stroke="#000" stroke-width="1.5" fill="none"/>
<text x="95.5" y="343.3" class="tl" text-anchor="middle">10<tspan class="sp" dy="-2.2">0</tspan></text>
<text x="94.7" y="338.4" class="tl" text-anchor="end">10<tspan class="sp" dy="-2.2">0</tspan></text>
<text x="126.1" y="343.3" class="tl" text-anchor="middle">10<tspan class="sp" dy="-2.2">1</tspan></text>
<text x="94.7" y="307.8" class="tl" text-anchor="end">10<tspan class="sp" dy="-2.2">1</tspan></text>
<text x="156.8" y="343.3" class="tl" text-anchor="middle">10<tspan class="sp" dy="-2.2">2</tspan></text>
<text x="94.7" y="277.1" class="tl" text-anchor="end">10<tspan class="sp" dy="-2.2">2</tspan></text>
<text x="187.4" y="343.3" class="tl" text-anchor="middle">10<tspan class="sp" dy="-2.2">3</tspan></text>
<text x="94.7" y="246.5" class="tl" text-anchor="end">10<tspan class="sp" dy="-2.2">3</tspan></text>
<text x="218" y="343.3" class="tl" text-anchor="middle">10<tspan class="sp" dy="-2.2">4</tspan></text>
<text x="94.7" y="215.9" class="tl" text-anchor="end">10<tspan class="sp" dy="-2.2">4</tspan></text>
<text x="216.2" y="230.1" class="num" text-anchor="end">98</text>
<text x="97.4" y="332.9" class="num">1</text>
<text x="216.2" y="332.9" class="num" text-anchor="end">1</text><path d="M288.5 213.5V336" stroke="#727272" stroke-width="1" fill="none"/>
<path d="M243.2 265.5H365.7" stroke="#7c7c7c" stroke-width="1" fill="none"/>
<path d="M284.0 289.3h1.4M278.5 286.3h1.4M300.4 292.3h1.4M287.7 289.8h1.4M301.2 285.1h1.4M288.7 303.3h1.4M289.8 283.0h1.4M286.8 283.4h1.4M289.2 279.9h1.4M286.8 305.4h1.4M276.8 292.8h1.4M273.7 297.3h1.4M294.5 271.7h1.4M272.4 281.0h1.4M258.4 293.9h1.4M282.6 284.5h1.4M273.9 283.5h1.4M285.3 300.8h1.4M281.7 274.8h1.4M278.4 282.5h1.4M278.5 282.7h1.4M278.0 284.3h1.4M286.8 294.3h1.4M280.9 285.5h1.4M284.2 286.0h1.4M288.0 292.9h1.4M288.2 287.5h1.4M275.5 288.2h1.4M275.4 272.7h1.4M277.8 293.5h1.4M290.7 291.4h1.4M302.0 292.9h1.4M287.1 274.4h1.4M297.5 279.9h1.4M300.2 283.2h1.4M291.0 293.2h1.4M278.4 293.1h1.4M287.8 275.3h1.4M275.4 292.4h1.4M289.3 285.9h1.4M291.0 292.1h1.4M292.9 299.9h1.4M288.9 282.3h1.4M294.3 290.4h1.4M290.4 297.1h1.4M294.8 284.1h1.4M276.0 282.2h1.4M303.0 301.0h1.4M291.0 292.3h1.4M278.3 281.9h1.4" stroke="#9c5060" stroke-width="1.4" fill="none"/>
<path d="M286.1 290.8h1.4M280.0 287.5h1.4M289.5 292.5h1.4M284.8 291.9h1.4M289.5 301.7h1.4M277.4 288.5h1.4M281.2 285.4h1.4M285.0 289.3h1.4M280.8 295.0h1.4M281.8 296.1h1.4M281.1 291.3h1.4M279.6 290.6h1.4M281.8 284.4h1.4M281.7 288.0h1.4M279.1 290.9h1.4M282.1 290.5h1.4M286.8 280.6h1.4M285.3 285.2h1.4M278.0 287.9h1.4M276.9 288.7h1.4M278.1 294.1h1.4M283.4 291.6h1.4M278.5 299.8h1.4M274.0 284.8h1.4M280.5 284.1h1.4M275.5 290.4h1.4M284.2 290.8h1.4M287.2 290.9h1.4M284.9 291.0h1.4M291.2 295.9h1.4M281.1 293.1h1.4M284.6 285.7h1.4M280.4 293.1h1.4M284.4 289.1h1.4M286.9 291.6h1.4M279.7 285.0h1.4M286.4 292.7h1.4M274.9 288.3h1.4M280.4 286.6h1.4M282.2 286.1h1.4M284.1 291.9h1.4M287.3 294.6h1.4M285.5 290.8h1.4M291.4 290.0h1.4M280.0 290.5h1.4M279.8 292.4h1.4M281.9 295.0h1.4M283.9 289.2h1.4M280.4 289.0h1.4M285.6 294.2h1.4M283.4 287.6h1.4M274.6 284.6h1.4M278.0 288.8h1.4M279.5 296.5h1.4M278.8 285.6h1.4M278.4 285.9h1.4M269.4 291.0h1.4M283.3 291.3h1.4M271.4 290.9h1.4M272.5 293.8h1.4M276.9 292.6h1.4M281.3 281.8h1.4M277.0 290.4h1.4M286.7 289.2h1.4M277.6 287.2h1.4M280.7 289.8h1.4M278.1 286.2h1.4M289.7 285.9h1.4M278.6 286.4h1.4M282.0 287.9h1.4M289.4 291.2h1.4M278.3 292.9h1.4M283.9 292.6h1.4M277.5 289.1h1.4M288.0 289.1h1.4M280.6 293.7h1.4M290.6 291.4h1.4M290.1 290.6h1.4M284.5 291.3h1.4M282.0 293.6h1.4M285.5 293.2h1.4M283.7 291.0h1.4M285.5 292.2h1.4M288.3 292.9h1.4M273.2 288.5h1.4M288.7 291.7h1.4M290.9 298.3h1.4M284.0 292.9h1.4M291.4 287.7h1.4M282.5 290.0h1.4M283.1 290.7h1.4M271.0 289.2h1.4M284.6 293.2h1.4M276.0 290.9h1.4M285.7 289.3h1.4M277.7 295.2h1.4M279.1 292.8h1.4M279.1 289.7h1.4M274.4 299.4h1.4M284.8 291.9h1.4M279.3 288.3h1.4M274.7 290.3h1.4M283.7 292.4h1.4M283.4 296.5h1.4M270.4 282.7h1.4M279.0 294.2h1.4M287.3 299.5h1.4M279.9 285.3h1.4M285.4 296.9h1.4M283.4 288.8h1.4M288.5 296.2h1.4M274.2 289.0h1.4M289.8 288.0h1.4M283.7 292.5h1.4M280.3 285.3h1.4M287.4 286.0h1.4M279.6 295.3h1.4M272.9 284.3h1.4M287.8 289.9h1.4M275.4 292.1h1.4M276.9 290.2h1.4M283.2 292.6h1.4M277.3 289.5h1.4M274.3 289.9h1.4M284.0 293.1h1.4M283.0 287.3h1.4M275.8 297.0h1.4M286.7 290.8h1.4M288.2 300.1h1.4M291.7 287.2h1.4" stroke="#c44553" stroke-width="1.4" fill="none"/>
<path d="M281.2 272.2h1.4M281.8 266.3h1.4M287.3 260.5h1.4M284.1 271.4h1.4M284.7 266.4h1.4M280.2 271.6h1.4M288.8 268.5h1.4M279.3 256.6h1.4M289.1 274.4h1.4M287.3 278.1h1.4M284.2 279.1h1.4M286.5 268.1h1.4M288.5 268.0h1.4M288.5 268.0h1.4M282.5 267.5h1.4M285.2 272.6h1.4M286.0 276.0h1.4M291.3 263.0h1.4M285.5 277.8h1.4M282.8 273.7h1.4M284.9 277.0h1.4M285.6 269.7h1.4M281.0 265.1h1.4M284.8 279.8h1.4M286.2 273.5h1.4M280.9 276.4h1.4M285.3 287.1h1.4M276.7 261.9h1.4M281.0 273.1h1.4M283.7 264.6h1.4M281.8 268.4h1.4M283.7 283.4h1.4M285.5 264.2h1.4M282.8 277.9h1.4M284.5 274.8h1.4M279.7 268.7h1.4M277.7 267.2h1.4M284.2 272.1h1.4M284.4 272.1h1.4M278.3 288.5h1.4M287.0 268.2h1.4M285.0 275.3h1.4M285.8 276.6h1.4M286.7 268.3h1.4M290.1 262.3h1.4M287.3 272.9h1.4M286.0 263.3h1.4M286.8 282.5h1.4M284.0 270.8h1.4M282.5 275.4h1.4M282.8 273.3h1.4M284.9 273.9h1.4M283.9 268.4h1.4M282.6 281.5h1.4M284.9 266.4h1.4M286.4 272.4h1.4M284.3 284.4h1.4M283.3 274.8h1.4M285.3 270.5h1.4M286.9 269.1h1.4M285.5 266.6h1.4M282.7 271.5h1.4M286.7 268.0h1.4M288.9 283.2h1.4M285.9 267.6h1.4M281.9 275.6h1.4M286.1 283.5h1.4M286.0 261.5h1.4M285.5 278.7h1.4M284.5 270.3h1.4M285.4 267.1h1.4M287.4 273.3h1.4M287.3 270.0h1.4M284.0 275.8h1.4M283.7 274.9h1.4M288.7 274.0h1.4M286.2 266.8h1.4M288.1 270.4h1.4M281.5 273.6h1.4M287.8 268.2h1.4" stroke="#c44553" stroke-width="1.4" fill="none"/>
<path d="M291.6 282.7h1.4M289.4 278.3h1.4M284.1 282.3h1.4M301.3 284.3h1.4M299.3 285.9h1.4M309.6 269.8h1.4M289.7 287.6h1.4M295.8 283.0h1.4M302.8 285.0h1.4M289.6 272.5h1.4M297.9 276.6h1.4M302.3 288.5h1.4M292.7 293.0h1.4M288.7 273.7h1.4M296.5 287.3h1.4M299.0 279.6h1.4M291.0 278.8h1.4M300.0 280.5h1.4M295.7 277.2h1.4M291.0 281.1h1.4M296.2 292.1h1.4M287.1 282.2h1.4M299.0 279.4h1.4M310.9 277.9h1.4M294.8 281.0h1.4M295.0 284.0h1.4M296.6 286.4h1.4M294.5 279.2h1.4M302.7 280.3h1.4M295.8 282.4h1.4M290.6 271.9h1.4M303.4 275.4h1.4M295.4 280.3h1.4M279.7 288.8h1.4M296.6 293.6h1.4M294.2 271.6h1.4M290.8 280.1h1.4M301.5 271.1h1.4M296.1 280.9h1.4M291.9 281.6h1.4M300.3 286.8h1.4M279.1 289.6h1.4M288.9 292.6h1.4M297.6 289.1h1.4M295.1 282.0h1.4M300.0 287.9h1.4M297.6 280.1h1.4M295.5 293.6h1.4M294.3 271.4h1.4M293.0 278.5h1.4M294.7 280.5h1.4M296.9 280.5h1.4M301.8 285.3h1.4M299.2 285.4h1.4M299.1 274.2h1.4M296.2 275.8h1.4M298.5 281.1h1.4M294.8 277.0h1.4M291.5 282.7h1.4M309.7 286.3h1.4M297.1 268.8h1.4M304.2 283.9h1.4M295.8 276.8h1.4M301.7 288.2h1.4M291.0 282.7h1.4M307.6 277.9h1.4M295.1 292.4h1.4M300.3 283.3h1.4M303.9 284.1h1.4M295.9 289.0h1.4" stroke="#9c5060" stroke-width="1.4" fill="none"/>
<path d="M294.4 283.4h1.4M299.3 273.8h1.4M295.4 270.6h1.4M300.7 277.6h1.4M300.2 288.8h1.4M288.5 286.5h1.4M295.6 281.7h1.4M306.3 275.2h1.4M313.1 281.4h1.4M297.1 281.6h1.4M295.6 284.6h1.4M302.7 269.0h1.4M294.6 290.0h1.4M284.9 288.3h1.4M299.6 276.6h1.4M295.1 276.7h1.4M310.5 268.6h1.4M300.9 266.7h1.4M297.1 285.8h1.4M301.8 280.4h1.4M302.1 272.2h1.4M309.7 268.3h1.4M307.9 268.3h1.4M294.6 281.3h1.4M303.3 265.0h1.4M292.1 280.8h1.4M295.5 262.1h1.4M300.1 290.3h1.4M303.1 269.2h1.4M302.4 270.8h1.4M303.2 271.8h1.4M309.5 269.8h1.4M302.4 284.3h1.4M302.1 279.7h1.4M301.6 281.7h1.4M295.2 275.1h1.4M297.9 278.7h1.4M290.4 290.4h1.4M295.7 283.5h1.4M294.7 283.0h1.4M301.5 264.7h1.4M293.5 293.2h1.4M302.3 274.4h1.4M286.4 284.9h1.4M292.3 289.1h1.4M304.1 278.2h1.4M294.1 287.8h1.4M293.7 273.7h1.4M297.0 280.5h1.4M297.7 278.6h1.4M297.7 273.1h1.4M296.0 280.9h1.4M295.2 276.0h1.4M298.4 287.2h1.4M292.7 282.2h1.4M294.6 286.5h1.4M303.5 260.5h1.4M293.3 277.0h1.4M296.5 290.7h1.4M296.7 283.3h1.4M294.3 272.9h1.4M297.4 279.1h1.4M300.9 280.5h1.4M305.5 269.3h1.4M288.4 293.8h1.4M290.2 280.9h1.4M298.5 275.5h1.4M296.4 292.9h1.4M292.6 290.4h1.4M292.7 279.4h1.4M304.9 278.0h1.4M299.7 283.0h1.4M292.3 296.3h1.4M296.5 274.5h1.4M294.6 280.1h1.4M302.9 281.5h1.4M292.4 281.3h1.4M305.2 269.9h1.4M304.6 272.3h1.4M307.5 275.9h1.4M288.7 282.6h1.4M296.8 281.9h1.4M302.3 280.9h1.4M294.4 285.6h1.4M297.6 277.1h1.4M297.7 272.0h1.4M301.9 282.9h1.4M298.8 274.9h1.4M300.2 263.4h1.4M293.4 295.3h1.4M294.8 285.8h1.4M297.5 274.7h1.4M289.5 281.4h1.4M295.6 281.4h1.4M302.0 268.1h1.4M295.8 285.8h1.4M295.7 287.9h1.4M304.6 272.4h1.4M301.9 269.4h1.4M293.2 281.2h1.4M301.2 287.2h1.4M296.1 280.3h1.4M286.9 288.4h1.4M296.1 272.2h1.4M303.2 285.7h1.4M295.3 276.5h1.4M296.4 267.0h1.4M294.8 296.1h1.4M286.6 265.0h1.4M293.7 289.0h1.4M294.8 277.4h1.4M297.9 281.7h1.4M310.8 270.7h1.4M301.5 282.6h1.4M294.2 272.0h1.4M293.5 271.2h1.4M297.1 280.1h1.4M301.5 256.4h1.4M311.1 271.9h1.4M291.3 290.0h1.4M297.3 276.8h1.4M293.6 279.2h1.4M298.8 273.4h1.4M292.6 274.0h1.4M290.9 268.5h1.4M300.6 287.8h1.4M294.9 278.6h1.4M302.2 277.8h1.4M295.9 274.2h1.4M300.5 290.4h1.4M301.1 287.7h1.4M301.0 279.3h1.4M300.4 282.9h1.4M304.5 297.8h1.4M298.6 282.5h1.4M311.9 291.8h1.4M296.4 276.7h1.4M302.0 281.3h1.4M291.4 291.9h1.4M300.0 274.2h1.4" stroke="#3d7fcc" stroke-width="1.4" fill="none"/>
<clipPath id="cC5"><rect x="289.5" y="0" width="600" height="700"/></clipPath>
<ellipse cx="298.4" cy="256.5" rx="7.8" ry="10.6" transform="rotate(0 298.4 256.5)" fill="#178ff3" clip-path="url(#cC5)"/>
<path d="M297.9 259.5h1.4M293.3 251.0h1.4M289.3 258.0h1.4M290.4 261.8h1.4M299.0 245.2h1.4M300.5 249.2h1.4M296.7 246.4h1.4M302.5 258.0h1.4M296.7 260.4h1.4M300.9 263.8h1.4M292.6 248.3h1.4M292.3 264.0h1.4M294.9 245.4h1.4M292.5 265.0h1.4M297.7 264.7h1.4M302.3 250.1h1.4M305.4 248.7h1.4M293.5 248.3h1.4M292.1 251.6h1.4M300.0 251.3h1.4M302.8 256.6h1.4M290.3 257.5h1.4M301.7 247.0h1.4M298.4 249.4h1.4M290.2 253.3h1.4M298.8 261.1h1.4M292.1 263.5h1.4M304.5 248.4h1.4M294.2 265.3h1.4M294.1 259.4h1.4M289.2 257.3h1.4M298.5 246.3h1.4M300.4 248.9h1.4M302.0 250.1h1.4M304.0 255.1h1.4M290.7 255.9h1.4M296.2 261.4h1.4M302.9 257.1h1.4M303.7 260.1h1.4M298.1 266.6h1.4M303.2 250.3h1.4M294.3 247.8h1.4M297.3 248.9h1.4M294.0 262.2h1.4M302.1 254.6h1.4M292.1 264.8h1.4M296.0 260.5h1.4M294.7 248.4h1.4M303.1 261.0h1.4M298.5 264.1h1.4M300.5 264.6h1.4M293.9 251.6h1.4M299.7 250.4h1.4M294.9 261.7h1.4M301.2 250.2h1.4M301.8 262.3h1.4M306.1 251.1h1.4M293.3 251.1h1.4M293.2 249.4h1.4M303.7 249.5h1.4M304.0 250.0h1.4M297.1 262.3h1.4M300.4 249.1h1.4M295.0 265.1h1.4M299.0 264.0h1.4M303.4 263.7h1.4M295.5 249.3h1.4M292.3 262.8h1.4M304.5 262.6h1.4M299.7 252.2h1.4M291.4 257.8h1.4M300.7 250.2h1.4M298.2 268.1h1.4M297.0 264.4h1.4M289.0 253.4h1.4M303.0 258.4h1.4M295.3 263.6h1.4M304.7 254.9h1.4M305.9 258.8h1.4M294.8 249.6h1.4M292.2 251.9h1.4M304.8 253.7h1.4M291.0 252.7h1.4M298.9 248.1h1.4M303.1 262.2h1.4M300.4 247.0h1.4M292.3 263.2h1.4M304.0 249.1h1.4M291.5 249.3h1.4M301.5 248.4h1.4M296.3 261.1h1.4M291.3 251.9h1.4M290.2 255.6h1.4M305.5 258.5h1.4M292.4 258.5h1.4M294.9 262.5h1.4M294.7 250.7h1.4M302.1 251.3h1.4M292.5 260.4h1.4M291.1 249.3h1.4M304.1 258.7h1.4M296.3 250.0h1.4M290.8 250.8h1.4M297.7 250.1h1.4M289.5 260.4h1.4M301.3 245.8h1.4M300.5 248.4h1.4M299.3 261.1h1.4M299.5 265.5h1.4M297.6 251.1h1.4M289.4 259.3h1.4M301.9 247.9h1.4M297.5 266.0h1.4M300.6 265.3h1.4M303.1 263.3h1.4M291.5 257.6h1.4M300.8 264.4h1.4M303.0 246.7h1.4M290.8 260.8h1.4M302.6 254.0h1.4M300.2 259.5h1.4M295.9 247.6h1.4M301.1 262.6h1.4M290.1 254.5h1.4M302.4 264.4h1.4M298.1 247.0h1.4M299.1 246.3h1.4M297.0 263.5h1.4M297.9 264.3h1.4M291.4 254.3h1.4M301.3 264.7h1.4M292.7 259.8h1.4M294.7 260.9h1.4M301.4 247.4h1.4M298.6 262.6h1.4M304.1 258.1h1.4M295.6 261.6h1.4M291.1 261.1h1.4M304.8 259.3h1.4M300.2 247.6h1.4M304.9 259.6h1.4M296.7 265.0h1.4M305.6 258.8h1.4M302.9 248.0h1.4M291.5 263.5h1.4M297.7 265.4h1.4M289.6 253.9h1.4M291.7 257.2h1.4M299.9 259.6h1.4M300.2 264.9h1.4M291.4 260.4h1.4M305.7 259.1h1.4M292.6 257.2h1.4M298.0 247.3h1.4M292.8 254.5h1.4M299.2 247.8h1.4M294.4 249.6h1.4M299.5 249.4h1.4M303.8 262.4h1.4M304.0 261.3h1.4M292.7 249.0h1.4M295.8 266.9h1.4M297.8 265.4h1.4M292.5 252.3h1.4M293.7 264.3h1.4M297.2 265.7h1.4M298.8 248.2h1.4M294.0 262.4h1.4M291.5 261.4h1.4M292.2 252.2h1.4M300.7 259.1h1.4M291.3 259.1h1.4M294.3 255.9h1.4M295.2 267.0h1.4M296.7 246.3h1.4M296.1 259.4h1.4M303.1 256.4h1.4M293.3 247.2h1.4M301.0 266.6h1.4M295.9 250.9h1.4M294.8 265.3h1.4M293.3 255.9h1.4M289.5 254.2h1.4M294.9 254.0h1.4M294.8 265.5h1.4M291.1 258.6h1.4M302.9 263.8h1.4M295.9 261.8h1.4M289.6 254.4h1.4M306.4 257.1h1.4M292.9 249.6h1.4M293.8 265.9h1.4M305.4 252.9h1.4M295.1 245.8h1.4M294.7 261.8h1.4M305.9 258.9h1.4M299.9 259.0h1.4M293.0 254.5h1.4M301.9 266.6h1.4M302.0 262.0h1.4M302.6 260.7h1.4M302.5 259.8h1.4M305.1 253.2h1.4M303.5 257.0h1.4M296.9 247.6h1.4M295.2 263.9h1.4M301.3 263.3h1.4M297.4 264.0h1.4M303.8 261.8h1.4M295.7 265.0h1.4M294.3 258.6h1.4M296.9 262.4h1.4M293.1 264.1h1.4M292.6 264.3h1.4M292.5 248.4h1.4M294.9 257.0h1.4M292.6 265.0h1.4M297.4 265.9h1.4M293.9 252.7h1.4M292.8 250.7h1.4M295.6 247.8h1.4M301.4 256.0h1.4M294.2 247.7h1.4M291.3 251.2h1.4M302.5 261.9h1.4M302.8 260.9h1.4M304.7 256.6h1.4M295.3 265.5h1.4M294.7 250.4h1.4M302.2 263.4h1.4M302.8 255.3h1.4M294.6 251.3h1.4M293.6 259.3h1.4M293.2 252.5h1.4M299.2 246.8h1.4M293.5 253.3h1.4M301.9 249.3h1.4M296.8 248.1h1.4M304.5 263.3h1.4M304.6 256.1h1.4M299.5 261.7h1.4M290.2 260.4h1.4M301.1 250.8h1.4M296.8 250.7h1.4M304.4 260.4h1.4M302.6 259.6h1.4M297.9 265.9h1.4M291.1 262.4h1.4M294.7 249.3h1.4M289.8 250.6h1.4M300.4 247.2h1.4M292.1 249.1h1.4M300.7 262.1h1.4M304.0 262.8h1.4M289.9 253.5h1.4M295.8 249.3h1.4M300.1 249.8h1.4M303.6 249.7h1.4M305.6 252.2h1.4M300.4 266.9h1.4M294.8 247.4h1.4M302.3 260.6h1.4M292.8 261.5h1.4M298.4 248.2h1.4M298.1 264.3h1.4M298.6 249.3h1.4M291.3 252.2h1.4M304.2 253.0h1.4M299.6 250.3h1.4M293.6 250.9h1.4M296.8 256.4h1.4M295.4 247.6h1.4M290.3 255.9h1.4M291.9 258.6h1.4M298.5 264.3h1.4M305.5 259.3h1.4M293.8 267.0h1.4M294.5 249.4h1.4M297.8 249.0h1.4M292.2 260.6h1.4M304.2 259.6h1.4M290.8 256.6h1.4M296.6 249.5h1.4M298.5 262.8h1.4M293.5 251.5h1.4M304.1 258.1h1.4M296.3 263.7h1.4M301.2 263.7h1.4M299.8 262.2h1.4M300.8 259.7h1.4M290.7 253.1h1.4M297.7 261.7h1.4M301.3 247.1h1.4M292.4 260.8h1.4M292.8 252.2h1.4M294.3 255.5h1.4M303.6 252.2h1.4M302.8 262.6h1.4M290.9 257.4h1.4M302.9 249.7h1.4M295.5 250.2h1.4M303.3 261.4h1.4M304.2 261.6h1.4M303.1 248.5h1.4M291.3 260.2h1.4M297.7 246.8h1.4M302.7 255.4h1.4M299.4 267.4h1.4M300.3 249.7h1.4M294.6 260.1h1.4M297.4 246.5h1.4M300.9 250.4h1.4M301.1 259.5h1.4M300.5 264.2h1.4M302.5 253.3h1.4M302.1 254.1h1.4M292.0 260.8h1.4M293.2 255.8h1.4M292.7 258.4h1.4M303.9 251.3h1.4M292.6 254.5h1.4M290.9 257.2h1.4M291.0 257.9h1.4M302.6 258.5h1.4M290.5 255.0h1.4M302.9 247.1h1.4M295.4 248.4h1.4M301.8 260.4h1.4M297.0 254.7h1.4M299.3 265.4h1.4M295.6 256.9h1.4M290.0 261.1h1.4M296.0 262.2h1.4M293.5 252.0h1.4M292.4 257.2h1.4M289.7 259.7h1.4M305.9 260.9h1.4M292.7 260.3h1.4M296.9 246.4h1.4M290.2 256.8h1.4M292.6 260.0h1.4M303.8 256.0h1.4M289.1 256.7h1.4M303.5 251.3h1.4M301.6 265.3h1.4M297.2 267.0h1.4M289.3 251.9h1.4M296.0 266.0h1.4M292.9 264.6h1.4M302.1 253.2h1.4M300.2 262.5h1.4M291.9 253.8h1.4M300.4 249.0h1.4M303.5 254.9h1.4M301.9 264.0h1.4M294.7 256.1h1.4M292.0 261.5h1.4M302.0 263.3h1.4M300.2 266.1h1.4M292.6 251.5h1.4M304.6 251.1h1.4M292.5 257.5h1.4M301.3 263.0h1.4M302.5 255.5h1.4M298.4 251.2h1.4M298.8 265.7h1.4M297.1 266.2h1.4M293.0 257.8h1.4M292.0 261.0h1.4M300.8 264.2h1.4M304.7 256.6h1.4M297.0 248.3h1.4M303.3 253.8h1.4M291.4 262.8h1.4M296.4 250.8h1.4M301.5 259.2h1.4M304.1 248.9h1.4M301.1 262.8h1.4M295.6 247.3h1.4M294.9 247.9h1.4M292.1 251.2h1.4M301.9 266.5h1.4M300.8 264.2h1.4M300.9 249.7h1.4M290.5 257.2h1.4M296.6 245.8h1.4M299.2 262.7h1.4M301.5 258.6h1.4M303.1 254.6h1.4M296.2 260.7h1.4M297.5 262.7h1.4M296.5 247.3h1.4M302.3 255.2h1.4M299.7 247.5h1.4M296.0 265.2h1.4M300.8 262.3h1.4M304.2 260.7h1.4M295.9 246.5h1.4M291.8 260.5h1.4M300.9 263.3h1.4M296.4 257.5h1.4M292.0 251.1h1.4M297.9 266.0h1.4M302.1 263.8h1.4M301.8 259.8h1.4M295.4 253.6h1.4M293.7 245.7h1.4M300.4 264.2h1.4M299.6 248.5h1.4M297.1 259.6h1.4M293.6 250.9h1.4M301.9 262.1h1.4M305.2 254.6h1.4M303.7 249.0h1.4M301.7 255.3h1.4M301.5 261.2h1.4M302.4 260.5h1.4M300.5 265.4h1.4M302.5 252.7h1.4M304.4 260.5h1.4" stroke="#178ff3" stroke-width="1.4" fill="none"/>
<path d="M294.0 249.2h1.4M295.5 257.6h1.4M294.5 251.1h1.4M293.2 245.8h1.4M293.5 249.2h1.4M305.1 258.4h1.4M294.8 257.6h1.4M295.1 260.1h1.4M291.7 248.9h1.4M297.4 245.0h1.4M311.0 258.5h1.4M299.4 250.1h1.4M309.3 248.0h1.4M300.4 257.6h1.4M309.7 260.4h1.4M309.3 259.0h1.4M293.3 258.5h1.4M296.8 265.1h1.4M307.3 254.2h1.4M292.8 258.0h1.4M292.1 253.2h1.4M295.4 265.2h1.4M294.1 255.8h1.4M289.7 255.5h1.4M296.3 248.1h1.4M301.9 255.0h1.4M293.9 255.8h1.4M312.6 251.4h1.4M283.0 259.2h1.4M302.8 248.8h1.4M291.7 245.8h1.4M300.0 264.9h1.4M306.0 263.8h1.4M298.0 248.8h1.4M292.6 249.0h1.4M292.6 252.8h1.4M304.8 271.7h1.4M303.2 247.4h1.4M300.3 258.0h1.4M308.3 241.4h1.4M298.4 253.8h1.4M295.1 262.1h1.4M299.5 257.4h1.4M292.8 242.0h1.4M302.5 261.2h1.4" stroke="#3d7fcc" stroke-width="1.4" fill="none"/>
<path d="M264.4 240.7h1.4M269.0 293.8h1.4M257.9 298.4h1.4M258.6 302.3h1.4" stroke="#9c5060" stroke-width="1.4" fill="none"/>
<path d="M243.2 336v-4.8M243.2 213.5v4.8M243.2 336h4.8M365.7 336h-4.8M252.4 336v-2.4M252.4 213.5v2.4M243.2 326.8h2.4M365.7 326.8h-2.4M257.8 336v-2.4M257.8 213.5v2.4M243.2 321.4h2.4M365.7 321.4h-2.4M261.6 336v-2.4M261.6 213.5v2.4M243.2 317.6h2.4M365.7 317.6h-2.4M264.6 336v-2.4M264.6 213.5v2.4M243.2 314.6h2.4M365.7 314.6h-2.4M267 336v-2.4M267 213.5v2.4M243.2 312.2h2.4M365.7 312.2h-2.4M269.1 336v-2.4M269.1 213.5v2.4M243.2 310.1h2.4M365.7 310.1h-2.4M270.9 336v-2.4M270.9 213.5v2.4M243.2 308.3h2.4M365.7 308.3h-2.4M272.4 336v-2.4M272.4 213.5v2.4M243.2 306.8h2.4M365.7 306.8h-2.4M273.8 336v-4.8M273.8 213.5v4.8M243.2 305.4h4.8M365.7 305.4h-4.8M283 336v-2.4M283 213.5v2.4M243.2 296.2h2.4M365.7 296.2h-2.4M288.4 336v-2.4M288.4 213.5v2.4M243.2 290.8h2.4M365.7 290.8h-2.4M292.3 336v-2.4M292.3 213.5v2.4M243.2 286.9h2.4M365.7 286.9h-2.4M295.2 336v-2.4M295.2 213.5v2.4M243.2 284h2.4M365.7 284h-2.4M297.7 336v-2.4M297.7 213.5v2.4M243.2 281.5h2.4M365.7 281.5h-2.4M299.7 336v-2.4M299.7 213.5v2.4M243.2 279.5h2.4M365.7 279.5h-2.4M301.5 336v-2.4M301.5 213.5v2.4M243.2 277.7h2.4M365.7 277.7h-2.4M303 336v-2.4M303 213.5v2.4M243.2 276.2h2.4M365.7 276.2h-2.4M304.4 336v-4.8M304.4 213.5v4.8M243.2 274.8h4.8M365.7 274.8h-4.8M313.7 336v-2.4M313.7 213.5v2.4M243.2 265.5h2.4M365.7 265.5h-2.4M319.1 336v-2.4M319.1 213.5v2.4M243.2 260.1h2.4M365.7 260.1h-2.4M322.9 336v-2.4M322.9 213.5v2.4M243.2 256.3h2.4M365.7 256.3h-2.4M325.9 336v-2.4M325.9 213.5v2.4M243.2 253.3h2.4M365.7 253.3h-2.4M328.3 336v-2.4M328.3 213.5v2.4M243.2 250.9h2.4M365.7 250.9h-2.4M330.3 336v-2.4M330.3 213.5v2.4M243.2 248.9h2.4M365.7 248.9h-2.4M332.1 336v-2.4M332.1 213.5v2.4M243.2 247.1h2.4M365.7 247.1h-2.4M333.7 336v-2.4M333.7 213.5v2.4M243.2 245.5h2.4M365.7 245.5h-2.4M335.1 336v-4.8M335.1 213.5v4.8M243.2 244.1h4.8M365.7 244.1h-4.8M344.3 336v-2.4M344.3 213.5v2.4M243.2 234.9h2.4M365.7 234.9h-2.4M349.7 336v-2.4M349.7 213.5v2.4M243.2 229.5h2.4M365.7 229.5h-2.4M353.5 336v-2.4M353.5 213.5v2.4M243.2 225.7h2.4M365.7 225.7h-2.4M356.5 336v-2.4M356.5 213.5v2.4M243.2 222.7h2.4M365.7 222.7h-2.4M358.9 336v-2.4M358.9 213.5v2.4M243.2 220.3h2.4M365.7 220.3h-2.4M361 336v-2.4M361 213.5v2.4M243.2 218.2h2.4M365.7 218.2h-2.4M362.7 336v-2.4M362.7 213.5v2.4M243.2 216.5h2.4M365.7 216.5h-2.4M364.3 336v-2.4M364.3 213.5v2.4M243.2 214.9h2.4M365.7 214.9h-2.4" stroke="#000" stroke-width="1.1" fill="none"/>
<path d="M243.2 336V213.5H365.7" stroke="#000" stroke-width="2" fill="none"/>
<path d="M365.7 213V336H242.2" stroke="#000" stroke-width="1.5" fill="none"/>
<text x="243.2" y="343.3" class="tl" text-anchor="middle">10<tspan class="sp" dy="-2.2">0</tspan></text>
<text x="242.4" y="338.4" class="tl" text-anchor="end">10<tspan class="sp" dy="-2.2">0</tspan></text>
<text x="273.8" y="343.3" class="tl" text-anchor="middle">10<tspan class="sp" dy="-2.2">1</tspan></text>
<text x="242.4" y="307.8" class="tl" text-anchor="end">10<tspan class="sp" dy="-2.2">1</tspan></text>
<text x="304.4" y="343.3" class="tl" text-anchor="middle">10<tspan class="sp" dy="-2.2">2</tspan></text>
<text x="242.4" y="277.1" class="tl" text-anchor="end">10<tspan class="sp" dy="-2.2">2</tspan></text>
<text x="335.1" y="343.3" class="tl" text-anchor="middle">10<tspan class="sp" dy="-2.2">3</tspan></text>
<text x="242.4" y="246.5" class="tl" text-anchor="end">10<tspan class="sp" dy="-2.2">3</tspan></text>
<text x="365.7" y="343.3" class="tl" text-anchor="middle">10<tspan class="sp" dy="-2.2">4</tspan></text>
<text x="242.4" y="215.9" class="tl" text-anchor="end">10<tspan class="sp" dy="-2.2">4</tspan></text>
<text x="363.9" y="230.1" class="num" text-anchor="end">88</text>
<text x="246.7" y="332.9" class="num">3</text>
<text x="363.9" y="332.9" class="num" text-anchor="end">9</text><path d="M437.5 214.3V336.8" stroke="#727272" stroke-width="1" fill="none"/>
<path d="M392.5 266.5H515" stroke="#7c7c7c" stroke-width="1" fill="none"/>
<path d="M434.7 271.2h1.4M432.4 275.9h1.4M436.2 271.3h1.4M434.9 279.3h1.4M424.8 283.9h1.4M433.0 281.6h1.4M432.7 286.9h1.4M434.2 282.8h1.4M424.9 274.9h1.4M435.3 263.1h1.4M437.5 276.8h1.4M428.8 291.5h1.4M430.9 277.7h1.4M421.3 269.4h1.4M440.0 257.1h1.4M432.5 269.1h1.4M426.4 286.5h1.4M433.7 286.2h1.4M437.4 268.6h1.4M431.1 275.0h1.4M434.6 265.1h1.4M434.2 279.4h1.4M431.6 276.3h1.4M442.6 261.2h1.4M426.0 286.6h1.4M429.5 279.8h1.4M435.9 288.3h1.4M435.3 274.2h1.4M430.8 264.6h1.4M436.6 258.4h1.4M423.8 287.9h1.4M431.1 264.3h1.4M432.9 264.4h1.4M433.7 287.9h1.4M428.9 292.5h1.4M435.1 276.3h1.4M433.8 267.6h1.4M430.7 289.9h1.4M426.9 269.3h1.4M436.7 264.2h1.4M435.1 284.5h1.4M428.6 288.2h1.4M435.5 280.6h1.4M432.6 274.1h1.4M434.1 282.4h1.4M440.4 284.6h1.4M435.0 270.9h1.4M433.5 274.3h1.4M434.9 268.8h1.4M430.7 268.9h1.4M422.3 287.2h1.4M434.7 254.3h1.4M430.4 263.3h1.4M425.2 285.2h1.4M433.0 260.1h1.4M436.8 283.6h1.4M436.9 262.0h1.4M429.6 284.4h1.4M430.7 288.8h1.4M429.9 266.2h1.4M431.1 272.5h1.4M434.5 271.2h1.4M429.6 279.4h1.4M428.5 264.3h1.4M431.5 282.0h1.4M428.6 263.5h1.4M425.2 268.6h1.4M428.9 273.0h1.4M430.3 272.7h1.4M436.7 277.9h1.4M435.4 261.7h1.4M429.2 279.6h1.4M433.2 277.6h1.4M433.8 270.2h1.4M431.6 281.9h1.4M436.5 254.7h1.4M438.0 261.9h1.4M436.5 262.1h1.4M436.2 264.5h1.4M424.1 272.8h1.4" stroke="#9c5060" stroke-width="1.4" fill="none"/>
<path d="M429.7 286.8h1.4M435.3 289.7h1.4M436.9 276.1h1.4M437.0 266.1h1.4M435.6 273.2h1.4M437.3 285.6h1.4M431.3 270.5h1.4M438.1 286.4h1.4M436.4 282.7h1.4M429.6 283.5h1.4M429.1 276.8h1.4M443.9 250.5h1.4M430.7 289.6h1.4M428.4 282.6h1.4M439.9 272.8h1.4M432.9 276.6h1.4M435.9 295.0h1.4M436.1 273.1h1.4M433.0 275.0h1.4M435.7 271.7h1.4M441.8 270.2h1.4M434.4 271.2h1.4M441.3 259.3h1.4M429.8 287.4h1.4M432.0 296.3h1.4M431.1 296.1h1.4M438.3 277.7h1.4M433.8 290.4h1.4M434.1 288.0h1.4M433.6 289.0h1.4M434.0 274.6h1.4M431.2 284.3h1.4M430.8 307.6h1.4M439.4 272.6h1.4M433.6 291.4h1.4M430.6 274.9h1.4M435.1 279.8h1.4M430.2 290.3h1.4M432.9 293.4h1.4M433.0 282.1h1.4M431.8 291.7h1.4M438.1 274.8h1.4M426.5 286.4h1.4M436.0 273.8h1.4M436.2 262.2h1.4M431.4 265.1h1.4M429.4 276.6h1.4M428.3 279.9h1.4M433.4 286.2h1.4M430.4 289.4h1.4M424.0 280.0h1.4M431.2 270.4h1.4M433.6 272.4h1.4M433.1 266.4h1.4M432.5 287.8h1.4M435.4 273.4h1.4M433.8 289.9h1.4M434.6 279.7h1.4M438.2 274.6h1.4M428.2 286.3h1.4M436.3 282.7h1.4M429.1 279.5h1.4M441.7 272.3h1.4M436.5 276.8h1.4M436.1 276.6h1.4M437.7 293.7h1.4M431.9 279.9h1.4M434.5 278.7h1.4M435.3 272.4h1.4M434.1 275.7h1.4M436.2 259.1h1.4M432.1 285.9h1.4M430.1 278.7h1.4M433.2 274.8h1.4M432.5 263.5h1.4M434.8 281.5h1.4M436.6 279.0h1.4M430.0 285.3h1.4M440.0 271.8h1.4M429.5 294.2h1.4M434.4 288.3h1.4M435.4 270.4h1.4M430.3 278.5h1.4M433.3 278.5h1.4M436.5 285.5h1.4M429.3 282.8h1.4M436.9 272.9h1.4M428.4 276.6h1.4M428.5 292.9h1.4M424.6 305.0h1.4" stroke="#c44553" stroke-width="1.4" fill="none"/>
<path d="M430.7 294.3h1.4M426.5 296.1h1.4M432.8 302.8h1.4M430.2 286.2h1.4M426.0 304.0h1.4M442.3 298.5h1.4M426.5 297.1h1.4M429.0 292.9h1.4M430.3 302.3h1.4M431.9 296.2h1.4M420.0 296.2h1.4M426.7 294.3h1.4M427.5 303.8h1.4M422.9 306.6h1.4M433.3 298.4h1.4M419.2 305.2h1.4M429.7 299.0h1.4M425.0 302.5h1.4M418.5 292.2h1.4M421.4 296.2h1.4M424.1 298.2h1.4M427.8 292.6h1.4M434.9 304.0h1.4M432.9 308.6h1.4M426.7 288.0h1.4M427.1 298.7h1.4M434.5 293.4h1.4M431.5 295.3h1.4M423.5 295.3h1.4M436.0 297.9h1.4M426.4 300.7h1.4M430.5 303.8h1.4M417.1 303.1h1.4M427.6 297.5h1.4M432.2 300.0h1.4M430.4 305.0h1.4M422.2 308.2h1.4M428.2 294.9h1.4M431.0 305.6h1.4M428.4 301.8h1.4M432.3 296.0h1.4M435.0 294.2h1.4M421.1 303.4h1.4M432.5 291.0h1.4M430.6 294.5h1.4M421.8 293.0h1.4M423.6 294.4h1.4M434.6 307.1h1.4M429.8 306.0h1.4M432.1 307.7h1.4M418.9 299.8h1.4M426.1 296.8h1.4M426.8 305.6h1.4M430.0 300.2h1.4M432.0 304.5h1.4M430.2 298.3h1.4M433.3 302.4h1.4M426.7 299.7h1.4M422.3 298.2h1.4M429.6 303.6h1.4M418.9 301.8h1.4M423.9 292.0h1.4M427.5 298.3h1.4M428.8 298.5h1.4M431.6 305.7h1.4M437.1 303.0h1.4M416.9 290.5h1.4M431.8 292.3h1.4M426.2 304.1h1.4M434.9 298.5h1.4M432.2 299.9h1.4M430.6 288.5h1.4M435.4 302.8h1.4M421.6 296.9h1.4M426.8 296.3h1.4M436.9 293.9h1.4M434.5 303.4h1.4M434.2 289.7h1.4M428.3 303.3h1.4M425.3 292.6h1.4M417.3 304.5h1.4M436.9 306.8h1.4M430.2 299.9h1.4M440.7 297.3h1.4M428.6 290.6h1.4M436.4 295.1h1.4M437.9 302.2h1.4M423.2 301.0h1.4M431.8 307.5h1.4M427.4 285.6h1.4M429.8 298.6h1.4M438.1 304.1h1.4M425.3 301.8h1.4M426.3 299.8h1.4M422.7 305.9h1.4M424.7 303.5h1.4M434.1 286.0h1.4M430.6 295.5h1.4M416.8 303.6h1.4M427.4 299.5h1.4M426.2 305.7h1.4M419.3 304.2h1.4M425.9 291.4h1.4M420.7 297.4h1.4M433.1 301.6h1.4M438.2 301.7h1.4M431.9 301.6h1.4M431.2 303.5h1.4M436.5 296.8h1.4M423.4 291.3h1.4M430.5 303.0h1.4M428.4 290.6h1.4M425.2 295.8h1.4M433.2 305.4h1.4M427.4 299.1h1.4M435.6 297.7h1.4M432.9 304.1h1.4M430.8 296.7h1.4M427.6 298.3h1.4M433.0 302.4h1.4M432.5 308.6h1.4M424.9 300.6h1.4M436.0 295.6h1.4M430.4 303.5h1.4M431.6 299.0h1.4M433.5 301.6h1.4M435.1 293.4h1.4M431.7 300.0h1.4M421.4 300.8h1.4M426.1 296.7h1.4M425.9 297.1h1.4M429.5 303.1h1.4M436.5 297.8h1.4M423.3 307.9h1.4M422.7 297.4h1.4M435.9 301.8h1.4M426.6 305.8h1.4M425.5 302.6h1.4M423.9 292.9h1.4M428.1 292.9h1.4M428.4 296.9h1.4M429.1 301.0h1.4M437.1 289.2h1.4M426.0 301.8h1.4M423.6 305.9h1.4M420.9 300.8h1.4M436.3 300.9h1.4M442.4 301.6h1.4M429.3 295.6h1.4M436.5 309.7h1.4M430.9 304.1h1.4M431.8 311.1h1.4M435.7 297.2h1.4M425.7 294.7h1.4M424.7 299.0h1.4M436.5 292.5h1.4M421.0 301.2h1.4M417.3 302.7h1.4M428.2 301.8h1.4M434.6 311.4h1.4M427.4 298.7h1.4M431.2 301.9h1.4M423.2 291.3h1.4M424.8 289.5h1.4M422.9 295.6h1.4M419.0 293.3h1.4M423.5 301.1h1.4M423.8 303.1h1.4M433.0 287.3h1.4M432.3 297.9h1.4M420.5 307.1h1.4M425.3 306.0h1.4M427.4 301.7h1.4M432.0 311.4h1.4M428.7 299.5h1.4M413.8 298.2h1.4M424.8 302.2h1.4M424.6 302.6h1.4M430.8 299.7h1.4M420.7 304.0h1.4M423.1 293.3h1.4M425.0 301.1h1.4M430.3 302.0h1.4M431.7 300.7h1.4M427.2 295.4h1.4M424.7 298.5h1.4M433.7 300.3h1.4M425.6 307.9h1.4M424.8 294.0h1.4M437.9 301.1h1.4M426.3 295.9h1.4M437.7 300.7h1.4M424.1 313.1h1.4M425.8 301.1h1.4M426.4 299.5h1.4M432.5 294.3h1.4M419.5 293.7h1.4M440.0 301.1h1.4M425.0 304.8h1.4M426.6 304.4h1.4M434.3 296.3h1.4M431.9 302.8h1.4M432.8 308.1h1.4M433.3 309.2h1.4M423.9 297.7h1.4M433.7 291.4h1.4M429.5 306.5h1.4M428.9 299.8h1.4M435.2 300.9h1.4M429.8 293.4h1.4M428.4 294.0h1.4M432.5 301.3h1.4M426.8 303.0h1.4M436.4 301.9h1.4M430.7 304.6h1.4M429.2 297.6h1.4M437.5 291.9h1.4M432.8 304.3h1.4M418.3 296.3h1.4M427.9 301.5h1.4M424.8 300.0h1.4M419.5 302.2h1.4M431.4 296.0h1.4M425.0 310.0h1.4M428.1 291.3h1.4M423.9 304.3h1.4M427.2 297.9h1.4M422.4 304.7h1.4M432.3 297.0h1.4M435.2 300.0h1.4M426.7 302.1h1.4M420.4 299.9h1.4M424.7 296.9h1.4M436.4 310.7h1.4M433.2 299.9h1.4M422.6 294.7h1.4M427.7 304.4h1.4M434.8 303.2h1.4M432.6 305.3h1.4M425.2 301.6h1.4M422.3 289.8h1.4M421.9 294.6h1.4M431.9 297.5h1.4M431.6 296.9h1.4M420.0 299.3h1.4M425.1 288.7h1.4M432.7 305.1h1.4M425.2 295.8h1.4M420.8 291.1h1.4M432.8 297.2h1.4M434.9 294.7h1.4M427.0 301.8h1.4M424.1 297.7h1.4M443.0 292.7h1.4M421.8 303.6h1.4M426.5 303.4h1.4M414.5 298.7h1.4M434.7 293.9h1.4M425.8 296.5h1.4M430.5 309.4h1.4M420.8 297.9h1.4M429.6 296.0h1.4M426.5 306.9h1.4M425.2 306.0h1.4M419.5 304.3h1.4M430.1 295.6h1.4M419.0 297.0h1.4M423.6 288.7h1.4M436.6 297.3h1.4M429.1 296.3h1.4M423.1 303.8h1.4M433.0 304.9h1.4M426.7 301.6h1.4M433.5 295.3h1.4M425.4 297.6h1.4M424.0 301.5h1.4M428.6 297.9h1.4M417.9 298.9h1.4M427.1 296.9h1.4M424.7 302.7h1.4M422.9 298.4h1.4M434.1 301.0h1.4M421.0 297.6h1.4M429.2 302.8h1.4M428.0 302.4h1.4M422.1 305.3h1.4M425.1 307.1h1.4M424.0 299.0h1.4M423.3 291.6h1.4M434.7 299.1h1.4M426.0 305.8h1.4M431.8 292.8h1.4M426.1 300.3h1.4M430.6 293.3h1.4M427.0 306.6h1.4M425.2 298.8h1.4M437.8 299.7h1.4M427.1 304.1h1.4M433.9 298.8h1.4M423.8 309.2h1.4M429.9 302.7h1.4M426.7 300.0h1.4M432.4 290.1h1.4M416.8 287.8h1.4M424.2 297.7h1.4M432.9 303.3h1.4M424.0 304.3h1.4M425.3 307.0h1.4M424.3 300.0h1.4M423.2 302.3h1.4M427.4 306.9h1.4M432.0 301.2h1.4M421.0 304.0h1.4M435.4 305.9h1.4M421.1 287.7h1.4M424.3 300.4h1.4M430.4 296.6h1.4M428.1 304.6h1.4M428.3 299.5h1.4M426.0 308.3h1.4M430.9 296.3h1.4M425.1 295.0h1.4M423.5 301.6h1.4M430.6 296.4h1.4M421.3 294.4h1.4M433.2 295.6h1.4M426.1 309.2h1.4M430.0 300.1h1.4M432.4 302.1h1.4M430.8 296.7h1.4M436.2 296.1h1.4M423.2 285.9h1.4M415.3 300.3h1.4M432.0 302.4h1.4M431.0 292.5h1.4M428.0 296.5h1.4M423.5 299.3h1.4M437.0 303.5h1.4M427.4 302.6h1.4M422.4 298.0h1.4M433.6 306.3h1.4M430.2 287.4h1.4M422.3 294.8h1.4M424.4 299.6h1.4M427.6 289.7h1.4M429.5 306.9h1.4M425.8 314.0h1.4M417.5 308.3h1.4M434.5 295.0h1.4M429.0 300.1h1.4M422.1 302.1h1.4M429.9 292.2h1.4M426.1 301.2h1.4M430.3 297.9h1.4M431.9 302.8h1.4M431.2 316.5h1.4M434.9 306.4h1.4M420.3 295.6h1.4M433.8 314.0h1.4M429.8 313.9h1.4M428.9 299.9h1.4M423.0 295.6h1.4M423.2 299.2h1.4M426.0 302.2h1.4M434.0 307.9h1.4M435.5 304.8h1.4M420.8 306.3h1.4M418.6 315.2h1.4M424.8 295.4h1.4M432.8 302.0h1.4M437.2 305.3h1.4M438.5 290.1h1.4M430.3 299.3h1.4M426.2 300.2h1.4M428.2 299.3h1.4M432.2 304.9h1.4M429.4 301.0h1.4M432.0 291.5h1.4M434.6 301.0h1.4M426.4 291.8h1.4M429.6 289.3h1.4M423.9 295.1h1.4M428.4 301.3h1.4M428.8 305.1h1.4M441.3 302.3h1.4M425.4 301.0h1.4M430.7 304.2h1.4M428.0 302.6h1.4M425.2 297.0h1.4M427.2 297.2h1.4M436.2 296.3h1.4M423.2 303.5h1.4M418.6 290.2h1.4M430.2 293.6h1.4M426.3 308.1h1.4M425.6 305.2h1.4M432.7 305.4h1.4M429.1 305.2h1.4M431.1 301.5h1.4M428.9 301.3h1.4M427.6 297.6h1.4M443.9 308.7h1.4M419.8 296.5h1.4M415.7 294.0h1.4M420.8 300.5h1.4M433.1 308.6h1.4M431.9 303.5h1.4M432.6 297.7h1.4M428.3 305.7h1.4M429.4 306.2h1.4M430.2 300.5h1.4M424.2 298.7h1.4M433.9 300.6h1.4M432.2 299.9h1.4M433.5 298.3h1.4M426.6 291.2h1.4M418.0 301.3h1.4M430.4 297.2h1.4M415.7 292.8h1.4M422.6 297.5h1.4M423.9 303.9h1.4M424.7 301.2h1.4M429.3 303.4h1.4M426.3 303.4h1.4M428.6 295.4h1.4M422.2 288.5h1.4M435.4 295.0h1.4M434.8 296.5h1.4M431.6 299.5h1.4M434.5 294.3h1.4M423.2 297.7h1.4M411.6 290.5h1.4M428.1 293.6h1.4M437.9 296.7h1.4M430.8 309.1h1.4M437.9 307.3h1.4M434.8 312.0h1.4M424.8 302.3h1.4M432.4 308.4h1.4M430.5 301.5h1.4M434.8 295.7h1.4M420.6 294.2h1.4M423.8 297.4h1.4M417.1 302.2h1.4M433.4 300.7h1.4M428.2 297.2h1.4M425.3 300.0h1.4M427.5 309.1h1.4M426.5 295.8h1.4M425.5 302.3h1.4M440.2 304.4h1.4M441.2 292.8h1.4M428.6 302.7h1.4M430.6 293.0h1.4M429.3 294.4h1.4M435.3 298.2h1.4M428.6 295.4h1.4M429.8 308.5h1.4M426.5 288.0h1.4M425.7 303.2h1.4M426.9 303.2h1.4M429.5 303.3h1.4M437.6 292.3h1.4M428.1 299.2h1.4M439.6 296.0h1.4M429.6 305.2h1.4M425.9 306.4h1.4M420.1 301.1h1.4M417.8 287.6h1.4M427.3 295.2h1.4M424.6 296.3h1.4M425.0 294.6h1.4M428.3 292.1h1.4M424.7 297.7h1.4M424.3 314.0h1.4M447.2 311.2h1.4M428.4 301.2h1.4M436.1 306.1h1.4M428.0 308.3h1.4M440.1 307.9h1.4M433.2 295.8h1.4M431.1 284.5h1.4M430.3 305.5h1.4M430.7 301.8h1.4M424.3 305.1h1.4M429.1 290.1h1.4M426.3 296.8h1.4M429.1 303.7h1.4M427.5 307.0h1.4M423.8 297.4h1.4M432.8 297.1h1.4M427.5 304.8h1.4M420.5 295.4h1.4M431.8 293.6h1.4M440.3 304.1h1.4M429.4 298.2h1.4M434.2 305.6h1.4M422.8 308.8h1.4M429.1 296.5h1.4M418.3 291.2h1.4M430.8 303.4h1.4M426.7 292.6h1.4M421.7 307.3h1.4M436.9 305.8h1.4M434.7 298.8h1.4M432.1 297.4h1.4M422.5 299.5h1.4M423.7 297.8h1.4M439.3 299.4h1.4M442.2 303.6h1.4M419.7 301.6h1.4M426.7 301.7h1.4M428.9 293.5h1.4M428.0 302.9h1.4M429.5 296.3h1.4M428.3 312.7h1.4M419.9 293.1h1.4M428.8 300.0h1.4M432.6 307.0h1.4M427.9 299.6h1.4M444.3 298.7h1.4M434.0 304.8h1.4M418.1 283.7h1.4M433.8 300.4h1.4M430.9 306.5h1.4M421.7 295.8h1.4M425.0 295.7h1.4M430.2 302.0h1.4M438.2 312.5h1.4M426.1 295.5h1.4M430.3 299.2h1.4M419.7 297.0h1.4M420.9 308.4h1.4M422.9 292.5h1.4M433.0 305.0h1.4M419.3 311.6h1.4M436.5 292.7h1.4M424.0 305.5h1.4M419.4 298.2h1.4M430.8 291.5h1.4M432.3 300.9h1.4M435.4 294.2h1.4M427.1 302.2h1.4M435.7 297.7h1.4M426.5 294.5h1.4M424.0 297.7h1.4M412.8 303.3h1.4M429.1 300.4h1.4M433.4 289.0h1.4M436.5 302.0h1.4M431.6 300.2h1.4M437.3 305.4h1.4M429.1 301.0h1.4M433.8 291.8h1.4M432.1 301.5h1.4M423.2 303.3h1.4M431.8 303.0h1.4M427.4 288.5h1.4M425.1 297.1h1.4M433.0 297.0h1.4M434.9 306.5h1.4M427.0 299.1h1.4M425.9 303.6h1.4M429.6 296.3h1.4M427.5 305.5h1.4M436.7 308.3h1.4M427.7 302.6h1.4M432.8 305.2h1.4M427.6 294.8h1.4M428.6 306.0h1.4M428.2 294.3h1.4M421.7 306.8h1.4M427.4 292.0h1.4M425.8 305.2h1.4M439.8 295.2h1.4M433.0 297.6h1.4M428.6 292.0h1.4M433.1 290.8h1.4M425.4 287.6h1.4M428.8 300.5h1.4M432.7 302.1h1.4M427.8 304.4h1.4M421.2 304.7h1.4M424.7 296.3h1.4M422.9 303.5h1.4M429.0 299.4h1.4M426.5 296.4h1.4M424.8 302.0h1.4M421.3 294.4h1.4M426.3 305.2h1.4M436.1 301.6h1.4M431.6 302.6h1.4M426.3 310.1h1.4M421.4 294.9h1.4M433.6 302.1h1.4M427.6 298.7h1.4M429.7 303.8h1.4M434.3 295.9h1.4M425.5 303.9h1.4M440.9 300.9h1.4M430.2 300.9h1.4M421.4 300.2h1.4M430.7 304.1h1.4M432.5 303.3h1.4M425.7 301.0h1.4M418.3 297.3h1.4M429.5 294.4h1.4M426.1 301.4h1.4M422.0 304.1h1.4M425.2 291.5h1.4M423.2 300.0h1.4M432.0 287.5h1.4M424.3 301.6h1.4M428.8 303.0h1.4M428.5 298.7h1.4M430.6 305.2h1.4M429.0 306.4h1.4M434.4 294.6h1.4M414.3 304.0h1.4M434.3 300.4h1.4M421.8 295.8h1.4M430.4 300.1h1.4M440.9 305.5h1.4M426.8 304.6h1.4M430.0 301.5h1.4M434.9 302.6h1.4M426.5 307.8h1.4M430.1 298.8h1.4M424.8 302.9h1.4M432.9 301.2h1.4M429.0 299.7h1.4M428.0 288.5h1.4M421.2 302.2h1.4M430.7 305.0h1.4M426.9 293.0h1.4M437.3 303.3h1.4M429.5 298.4h1.4M426.4 292.1h1.4M419.3 301.0h1.4M440.5 309.5h1.4M431.2 304.0h1.4M429.4 306.1h1.4M432.0 294.7h1.4M421.2 299.7h1.4M420.6 292.1h1.4M424.7 303.0h1.4M436.3 305.2h1.4M429.4 298.1h1.4M431.2 296.4h1.4M431.4 303.4h1.4" stroke="#c44553" stroke-width="1.4" fill="none"/>
<path d="M446.9 292.9h1.4M459.0 281.8h1.4M447.0 294.8h1.4M452.6 290.5h1.4M456.0 285.9h1.4M454.3 298.4h1.4M449.7 284.1h1.4M454.9 281.2h1.4M452.4 287.7h1.4M456.1 278.8h1.4M450.6 278.1h1.4M446.8 293.8h1.4M453.2 297.2h1.4M457.9 265.9h1.4M446.6 279.2h1.4M463.5 278.0h1.4M444.9 268.3h1.4M451.1 304.0h1.4M449.6 278.9h1.4M450.0 278.9h1.4M465.5 284.5h1.4M442.2 284.5h1.4M447.1 305.2h1.4M455.4 299.6h1.4M446.9 298.1h1.4M454.4 304.9h1.4M451.1 278.5h1.4M453.7 306.7h1.4M455.3 277.8h1.4M454.2 288.1h1.4M456.5 295.4h1.4M453.7 281.8h1.4M447.1 281.2h1.4M450.1 301.3h1.4M445.3 289.2h1.4M457.1 283.8h1.4M452.7 301.0h1.4M453.9 301.3h1.4M452.6 293.6h1.4M451.1 288.5h1.4M446.6 285.8h1.4M450.2 292.3h1.4M453.6 282.9h1.4M448.1 296.2h1.4M447.7 295.2h1.4M453.0 285.0h1.4M449.5 296.8h1.4M448.4 270.1h1.4M447.6 295.1h1.4M452.0 301.4h1.4M455.5 304.3h1.4M442.3 293.1h1.4M451.3 289.3h1.4M453.1 278.7h1.4M451.8 283.7h1.4M457.5 285.0h1.4M447.3 281.2h1.4M450.5 277.0h1.4M459.1 291.5h1.4M461.4 273.8h1.4M449.3 280.9h1.4M453.0 272.6h1.4M458.2 290.2h1.4M446.9 287.7h1.4M450.5 295.2h1.4M453.0 281.6h1.4M453.2 290.7h1.4M452.1 288.4h1.4M452.0 275.9h1.4M451.0 270.7h1.4M447.4 284.1h1.4M449.0 295.7h1.4M449.4 310.9h1.4M454.8 311.6h1.4M451.5 290.6h1.4M450.7 274.6h1.4M454.4 289.8h1.4M444.0 270.6h1.4M453.5 264.0h1.4M454.8 294.9h1.4M451.2 285.3h1.4M464.2 292.6h1.4M452.5 274.1h1.4M447.7 297.1h1.4M451.7 300.8h1.4M460.6 315.0h1.4M451.9 280.1h1.4M450.5 285.0h1.4M459.1 292.7h1.4M451.5 298.1h1.4" stroke="#9c5060" stroke-width="1.4" fill="none"/>
<path d="M439.1 308.4h1.4M460.9 285.5h1.4M443.1 283.1h1.4M448.5 310.2h1.4M452.7 280.8h1.4M452.9 278.3h1.4M452.5 298.6h1.4M450.3 292.3h1.4M458.2 282.2h1.4M451.7 287.0h1.4M457.4 298.2h1.4M445.2 275.2h1.4M451.0 295.5h1.4M443.7 310.8h1.4M453.7 287.6h1.4M450.1 277.0h1.4M459.0 288.4h1.4M444.7 286.2h1.4M446.8 293.4h1.4M455.7 282.6h1.4M450.1 295.2h1.4M444.0 301.2h1.4M456.6 295.9h1.4M449.8 286.8h1.4M447.4 300.0h1.4M440.8 305.0h1.4M460.2 278.8h1.4M452.7 294.2h1.4M456.7 306.0h1.4M459.4 291.2h1.4M458.0 281.1h1.4M457.8 302.7h1.4M455.3 280.2h1.4M445.2 281.0h1.4M455.4 292.4h1.4M447.6 296.1h1.4M438.5 289.7h1.4M448.3 299.6h1.4M448.8 286.1h1.4M451.7 294.2h1.4M449.7 274.9h1.4M460.6 301.5h1.4M445.0 285.7h1.4M447.4 301.4h1.4M452.4 283.3h1.4M460.3 274.2h1.4M455.1 275.8h1.4M451.5 291.9h1.4M460.6 299.0h1.4M442.6 279.1h1.4M453.3 288.7h1.4M452.7 289.4h1.4M457.2 290.8h1.4M455.9 273.6h1.4M446.3 279.0h1.4M459.6 275.4h1.4M458.1 297.3h1.4M450.8 296.4h1.4M450.6 292.8h1.4M452.4 284.4h1.4M455.7 290.6h1.4M446.4 284.9h1.4M445.4 293.1h1.4M448.6 308.2h1.4M443.4 278.6h1.4M444.0 279.8h1.4M446.0 265.6h1.4M452.0 290.3h1.4M457.8 294.0h1.4M460.6 294.6h1.4" stroke="#3d7fcc" stroke-width="1.4" fill="none"/>
<path d="M454.2 281.5h1.4M447.2 287.2h1.4M442.4 285.8h1.4M446.8 293.5h1.4M446.8 286.5h1.4M442.4 282.1h1.4M453.1 285.8h1.4M439.5 285.4h1.4M445.4 295.5h1.4M440.9 297.3h1.4M442.7 309.5h1.4M434.2 299.8h1.4M445.5 285.4h1.4M452.0 278.7h1.4M450.1 284.4h1.4M447.0 290.7h1.4M442.6 288.5h1.4M452.4 274.1h1.4M449.9 292.9h1.4M447.7 288.6h1.4M441.5 278.8h1.4M438.6 296.8h1.4M448.8 289.5h1.4M439.4 283.7h1.4M446.2 279.2h1.4M445.1 286.8h1.4M442.7 288.0h1.4M443.2 293.7h1.4M441.5 297.6h1.4M452.0 279.4h1.4M444.2 292.2h1.4M451.0 277.8h1.4M443.4 273.7h1.4M447.2 291.3h1.4M438.1 289.2h1.4M444.4 283.8h1.4M440.8 272.1h1.4M439.9 285.1h1.4M446.6 272.2h1.4M451.0 273.9h1.4M439.8 288.0h1.4M443.7 291.5h1.4M457.0 291.5h1.4M457.8 270.8h1.4M450.2 276.1h1.4M440.3 289.1h1.4M440.9 281.6h1.4M443.2 281.7h1.4M443.7 274.8h1.4M453.7 274.7h1.4M445.1 288.6h1.4M438.8 298.9h1.4M449.1 294.7h1.4M442.8 279.0h1.4M443.1 276.4h1.4M438.4 289.7h1.4M449.9 282.6h1.4M448.2 290.4h1.4M447.7 282.2h1.4M453.2 277.9h1.4M443.1 289.6h1.4M445.9 287.2h1.4M447.5 287.9h1.4M448.3 274.4h1.4M440.3 284.9h1.4M444.6 271.3h1.4M444.4 286.8h1.4M447.8 261.6h1.4M449.5 291.4h1.4M441.5 282.0h1.4M444.4 290.4h1.4M442.8 300.8h1.4M442.4 295.3h1.4M450.5 281.5h1.4M443.8 272.3h1.4M454.3 284.6h1.4M439.7 304.0h1.4M449.1 283.9h1.4M444.2 285.5h1.4M441.3 275.8h1.4M448.3 285.6h1.4M441.0 293.1h1.4M445.3 274.8h1.4M440.6 289.2h1.4M444.7 281.0h1.4M442.6 281.9h1.4M455.6 291.2h1.4M445.7 279.6h1.4M447.0 281.3h1.4M449.4 292.0h1.4M444.3 293.4h1.4M442.2 302.6h1.4M439.5 281.1h1.4M443.1 294.8h1.4M437.7 287.3h1.4M448.4 286.8h1.4M449.8 282.9h1.4M437.1 303.2h1.4M455.2 276.3h1.4M443.5 298.7h1.4M447.2 283.6h1.4M451.5 297.6h1.4M450.1 285.2h1.4M448.1 282.5h1.4M442.6 288.1h1.4M446.0 294.3h1.4M444.9 283.0h1.4M444.2 285.1h1.4M447.3 293.5h1.4M446.5 285.5h1.4M444.0 279.2h1.4M440.5 285.9h1.4M444.0 273.5h1.4M447.5 280.3h1.4M444.6 289.5h1.4M445.6 297.5h1.4M437.4 283.6h1.4M437.7 283.9h1.4M442.8 295.1h1.4M447.1 296.1h1.4M437.7 282.4h1.4M446.2 288.4h1.4M445.9 272.8h1.4M451.0 299.8h1.4M442.8 289.5h1.4M440.1 308.7h1.4M444.3 292.8h1.4M442.9 290.9h1.4M448.9 279.2h1.4M450.3 290.6h1.4M444.6 290.8h1.4M446.5 285.9h1.4M440.2 282.3h1.4M436.6 279.9h1.4M450.2 283.2h1.4M445.5 287.3h1.4M448.1 277.7h1.4M442.0 291.8h1.4M444.8 279.5h1.4M446.7 278.0h1.4M447.6 289.9h1.4M448.5 270.8h1.4M444.5 279.7h1.4M448.1 290.5h1.4M447.5 289.2h1.4M449.7 277.4h1.4M444.6 278.4h1.4M443.6 271.7h1.4M446.6 282.7h1.4M442.0 288.9h1.4M443.5 284.2h1.4M442.0 276.9h1.4M431.5 290.2h1.4M448.2 299.3h1.4M444.6 281.9h1.4M439.2 308.2h1.4M446.6 297.3h1.4M443.0 279.5h1.4M442.6 291.3h1.4M448.0 284.7h1.4M445.5 289.2h1.4M439.1 263.5h1.4M443.5 281.8h1.4M451.1 274.7h1.4M444.7 287.1h1.4M443.4 284.0h1.4M443.7 292.4h1.4M451.1 305.0h1.4M446.5 285.7h1.4M449.4 285.0h1.4M441.3 290.8h1.4M434.9 287.4h1.4M452.3 284.1h1.4M444.8 284.6h1.4M451.8 278.3h1.4M447.4 292.6h1.4M442.7 285.5h1.4M450.2 281.3h1.4M441.9 291.1h1.4M439.0 293.0h1.4M443.0 283.3h1.4M433.4 282.1h1.4M450.8 284.8h1.4M450.1 292.5h1.4M440.0 292.6h1.4M448.1 281.9h1.4M446.5 284.2h1.4M440.4 287.0h1.4M446.5 281.1h1.4M443.9 295.5h1.4M448.9 268.3h1.4M448.7 294.3h1.4M439.3 288.7h1.4M437.2 292.6h1.4M441.2 284.9h1.4M445.0 288.0h1.4M445.5 293.7h1.4M448.7 294.0h1.4M438.2 285.9h1.4M441.3 294.2h1.4M453.9 275.8h1.4M442.3 274.4h1.4M437.0 278.9h1.4M446.0 291.3h1.4M449.0 281.3h1.4M442.4 290.0h1.4M443.7 284.9h1.4M444.2 297.5h1.4M444.0 287.7h1.4M442.7 291.7h1.4M441.4 289.8h1.4M442.3 291.4h1.4M440.0 278.6h1.4M439.6 274.7h1.4M446.5 283.7h1.4M447.8 287.5h1.4M450.5 296.5h1.4M446.4 290.9h1.4M443.6 279.2h1.4M446.3 289.7h1.4M441.2 289.7h1.4M452.9 287.5h1.4M446.9 277.2h1.4M450.9 281.0h1.4M440.1 290.9h1.4M442.5 294.3h1.4M441.7 289.8h1.4M444.8 279.2h1.4M453.4 269.0h1.4M447.5 281.2h1.4M439.7 280.9h1.4M448.8 292.1h1.4M443.6 289.5h1.4M437.5 281.8h1.4M441.0 290.2h1.4M446.5 298.6h1.4M439.2 295.4h1.4M448.1 283.1h1.4M440.4 286.5h1.4M445.2 288.3h1.4M446.5 278.0h1.4M443.3 283.3h1.4M440.9 286.8h1.4M447.8 286.3h1.4M452.2 291.4h1.4M444.0 283.7h1.4M447.5 277.7h1.4M446.3 286.3h1.4M445.4 278.5h1.4M446.6 284.8h1.4M444.2 276.6h1.4M446.5 273.4h1.4M447.1 287.1h1.4M447.2 288.5h1.4M435.3 287.4h1.4M444.2 292.4h1.4M448.9 288.4h1.4M447.9 267.6h1.4M446.9 283.2h1.4M446.4 282.8h1.4M444.2 286.5h1.4M444.6 284.9h1.4M446.5 298.7h1.4M448.3 281.2h1.4M445.2 293.0h1.4M444.6 282.5h1.4M443.6 278.0h1.4M449.0 290.2h1.4M441.3 275.9h1.4M439.9 308.0h1.4M444.1 292.4h1.4M444.7 280.2h1.4M441.9 290.9h1.4M437.5 294.0h1.4M442.1 274.3h1.4M447.4 288.9h1.4M441.0 285.7h1.4M448.9 288.4h1.4M444.0 288.6h1.4M441.6 283.7h1.4M449.0 279.8h1.4M439.4 291.9h1.4M445.0 266.4h1.4M439.9 288.3h1.4M439.1 295.9h1.4M439.5 284.0h1.4M450.3 286.0h1.4M449.7 281.5h1.4M439.7 298.2h1.4M448.1 291.1h1.4M442.2 290.1h1.4M445.6 275.8h1.4M437.2 281.2h1.4M444.3 292.8h1.4M441.5 304.8h1.4M440.5 290.1h1.4M444.1 282.6h1.4M448.8 282.4h1.4M441.8 286.3h1.4M443.2 276.6h1.4M439.9 272.3h1.4M456.7 276.1h1.4M445.8 289.9h1.4M446.8 286.7h1.4M438.2 285.1h1.4M445.4 280.1h1.4M446.9 283.5h1.4M438.7 288.0h1.4M437.3 297.3h1.4M443.5 293.2h1.4M454.6 287.1h1.4M444.7 279.0h1.4M449.8 284.3h1.4M446.8 290.0h1.4M449.6 282.4h1.4M447.8 279.7h1.4M440.3 286.6h1.4M434.7 293.1h1.4M446.3 287.3h1.4M445.5 287.3h1.4M445.1 290.9h1.4M443.5 298.6h1.4M442.2 283.1h1.4M447.8 288.5h1.4M447.7 296.5h1.4M440.3 295.2h1.4M448.1 280.5h1.4M445.5 282.6h1.4M444.1 276.1h1.4M441.0 287.6h1.4M437.6 283.6h1.4M441.6 306.6h1.4M439.5 293.7h1.4M444.7 279.1h1.4M443.9 281.5h1.4M443.2 280.4h1.4M449.7 270.2h1.4M453.7 277.6h1.4M447.2 291.4h1.4M439.4 289.6h1.4M436.9 288.9h1.4M443.6 292.8h1.4M445.6 300.1h1.4M449.4 291.3h1.4M445.8 293.5h1.4M439.4 283.9h1.4M450.0 285.4h1.4M443.4 291.5h1.4M444.7 282.4h1.4M438.0 290.4h1.4M448.3 281.2h1.4M443.6 280.0h1.4M439.2 297.6h1.4M439.3 289.7h1.4M448.1 290.2h1.4M443.1 272.8h1.4M443.0 280.0h1.4M442.9 291.9h1.4M450.4 282.7h1.4M442.5 290.8h1.4M440.8 280.9h1.4M441.2 284.7h1.4M447.4 291.3h1.4M442.8 287.6h1.4M439.9 275.9h1.4M444.0 283.2h1.4M445.7 298.4h1.4M444.6 291.6h1.4M443.4 286.4h1.4M451.8 283.4h1.4M448.7 279.8h1.4M442.7 288.4h1.4M442.2 294.5h1.4M448.8 280.8h1.4M452.3 281.3h1.4M450.7 274.1h1.4M451.0 295.4h1.4M447.5 284.7h1.4M435.1 282.4h1.4M446.0 274.2h1.4" stroke="#178ff3" stroke-width="1.4" fill="none"/>
<clipPath id="cD6"><rect x="438.3" y="0" width="600" height="700"/></clipPath>
<ellipse cx="447.8" cy="259.5" rx="9.0" ry="10.0" transform="rotate(0 447.8 259.5)" fill="#178ff3" clip-path="url(#cD6)"/>
<path d="M446.7 264.2h1.4M454.9 260.9h1.4M439.6 263.3h1.4M451.8 265.2h1.4M440.0 253.8h1.4M442.9 264.1h1.4M448.0 262.7h1.4M445.3 263.6h1.4M445.8 250.3h1.4M452.2 255.8h1.4M439.7 256.7h1.4M450.1 265.5h1.4M450.0 266.1h1.4M452.8 255.8h1.4M452.5 258.3h1.4M452.4 258.1h1.4M437.7 261.0h1.4M441.2 261.8h1.4M446.1 264.9h1.4M455.4 258.2h1.4M437.7 262.0h1.4M447.5 263.3h1.4M441.5 259.8h1.4M453.9 254.5h1.4M454.3 252.7h1.4M451.9 264.4h1.4M442.8 255.2h1.4M445.1 267.4h1.4M453.3 268.1h1.4M453.1 261.1h1.4M446.0 253.5h1.4M441.8 263.1h1.4M442.4 259.2h1.4M444.8 257.3h1.4M442.8 267.2h1.4M448.6 249.9h1.4M443.2 250.8h1.4M445.9 250.4h1.4M450.5 251.8h1.4M454.6 260.4h1.4M447.9 253.5h1.4M455.3 251.6h1.4M440.8 259.6h1.4M442.0 265.8h1.4M443.4 265.0h1.4M440.4 253.6h1.4M445.2 250.4h1.4M450.3 249.8h1.4M455.7 258.4h1.4M456.0 261.6h1.4M440.6 261.2h1.4M442.2 265.5h1.4M450.2 249.8h1.4M445.2 253.4h1.4M441.7 263.0h1.4M442.8 251.8h1.4M448.8 263.6h1.4M450.5 266.6h1.4M443.1 257.0h1.4M439.4 261.6h1.4M456.0 254.4h1.4M452.4 266.5h1.4M441.6 265.3h1.4M450.6 267.3h1.4M456.6 258.0h1.4M443.1 252.5h1.4M441.5 267.2h1.4M441.8 258.3h1.4M444.4 265.0h1.4M439.3 256.6h1.4M440.3 252.8h1.4M445.4 254.1h1.4M449.3 266.7h1.4M445.2 250.3h1.4M446.5 267.3h1.4M449.2 249.3h1.4M454.8 256.5h1.4M452.4 262.8h1.4M439.2 256.5h1.4M438.5 261.4h1.4M451.5 255.9h1.4M442.6 254.0h1.4M443.1 252.9h1.4M448.4 269.4h1.4M456.0 257.0h1.4M445.1 252.4h1.4M438.8 261.2h1.4M455.8 260.2h1.4M443.4 255.4h1.4M443.6 254.4h1.4M441.2 254.2h1.4M447.1 265.0h1.4M447.1 258.2h1.4M450.1 268.6h1.4M447.2 263.7h1.4M443.3 264.2h1.4M455.0 262.6h1.4M440.6 263.5h1.4M443.8 262.2h1.4M440.1 264.4h1.4M452.8 267.0h1.4M449.4 262.8h1.4M451.0 253.7h1.4M449.9 267.2h1.4M439.8 260.8h1.4M443.0 262.3h1.4M452.4 260.8h1.4M448.8 250.7h1.4M454.7 257.9h1.4M444.1 253.3h1.4M453.3 257.7h1.4M454.5 262.3h1.4M443.3 251.1h1.4M446.7 250.2h1.4M441.5 254.1h1.4M442.8 263.2h1.4M440.3 257.4h1.4M440.2 265.4h1.4M453.4 269.0h1.4M452.2 265.8h1.4M448.3 251.2h1.4M451.3 261.7h1.4M455.1 259.2h1.4M441.4 260.0h1.4M447.4 250.8h1.4M439.6 262.2h1.4M437.9 259.7h1.4M453.9 265.0h1.4M446.1 251.0h1.4M443.5 253.8h1.4M446.7 265.5h1.4M447.6 267.3h1.4M443.7 252.6h1.4M450.5 253.0h1.4M452.7 255.9h1.4M443.2 268.4h1.4M447.6 249.3h1.4M440.4 257.0h1.4M444.5 253.6h1.4M455.6 253.7h1.4M449.0 268.3h1.4M448.9 252.6h1.4M454.1 260.8h1.4M439.1 254.1h1.4M453.9 249.7h1.4M449.5 261.9h1.4M447.9 249.9h1.4M454.0 260.2h1.4M456.4 261.6h1.4M453.2 253.5h1.4M444.5 267.3h1.4M437.6 257.1h1.4M437.6 263.7h1.4M450.5 267.3h1.4M447.2 264.8h1.4M455.1 254.7h1.4M441.4 253.0h1.4M439.7 252.9h1.4M453.8 262.5h1.4M451.9 261.5h1.4M454.7 259.0h1.4M451.5 251.4h1.4M451.8 251.6h1.4M440.3 253.0h1.4M445.3 267.7h1.4M453.0 260.6h1.4M455.1 254.1h1.4M455.0 259.4h1.4M449.6 259.4h1.4M450.0 252.5h1.4M452.7 267.8h1.4M445.1 265.9h1.4M457.2 257.7h1.4M443.2 258.8h1.4M446.7 269.3h1.4M442.1 252.3h1.4M441.1 261.2h1.4M452.2 264.1h1.4M449.9 259.6h1.4M440.3 260.4h1.4M455.6 253.4h1.4M451.7 250.7h1.4M455.3 257.6h1.4M443.9 253.5h1.4M449.4 267.0h1.4M448.6 265.3h1.4M439.0 261.8h1.4M441.7 263.1h1.4M453.3 257.6h1.4M444.1 249.4h1.4M453.2 266.1h1.4M450.9 261.2h1.4M449.4 251.9h1.4M445.8 255.2h1.4M443.8 265.6h1.4M444.3 252.4h1.4M455.2 264.8h1.4M451.3 258.9h1.4M454.9 260.2h1.4M440.3 265.9h1.4M448.3 254.4h1.4M443.0 265.8h1.4M456.0 258.0h1.4M443.1 259.1h1.4M450.3 268.6h1.4M437.8 257.8h1.4M447.2 264.7h1.4M440.5 262.9h1.4M453.7 258.7h1.4M450.1 251.2h1.4M454.1 264.0h1.4M441.2 260.7h1.4M447.6 262.3h1.4M449.4 266.9h1.4M440.2 256.7h1.4M449.0 266.0h1.4M446.7 254.0h1.4M451.2 264.4h1.4M456.0 256.2h1.4M452.7 254.5h1.4M438.2 260.9h1.4M443.0 266.6h1.4M441.8 264.8h1.4M453.4 268.0h1.4M440.7 256.2h1.4M447.9 264.6h1.4M440.2 260.9h1.4M447.1 253.2h1.4M455.2 264.7h1.4M455.4 262.4h1.4M449.5 250.4h1.4M448.2 252.1h1.4M446.0 267.8h1.4M444.7 268.6h1.4M439.3 263.3h1.4M449.4 250.3h1.4M443.0 264.1h1.4M451.3 266.0h1.4M452.0 257.5h1.4M440.8 265.0h1.4M446.9 266.7h1.4M440.3 257.3h1.4M451.9 267.1h1.4M442.7 251.9h1.4M455.5 261.6h1.4M453.0 258.8h1.4M453.1 260.3h1.4M453.7 256.0h1.4M440.7 264.9h1.4M447.8 269.0h1.4M441.2 259.5h1.4M442.0 260.7h1.4M445.7 248.7h1.4M442.4 253.0h1.4M438.5 264.8h1.4M449.7 253.1h1.4M453.1 267.3h1.4M439.5 267.1h1.4M443.4 250.0h1.4M444.5 257.7h1.4M455.9 258.3h1.4M452.6 260.7h1.4M453.6 260.8h1.4M443.6 268.6h1.4M443.6 255.9h1.4M448.2 253.9h1.4M444.9 267.3h1.4M450.2 256.0h1.4M451.2 251.1h1.4M449.7 254.6h1.4M455.8 257.2h1.4M443.9 253.8h1.4M451.1 258.2h1.4M445.3 255.5h1.4M439.8 257.4h1.4M454.6 255.3h1.4M449.9 252.0h1.4M440.4 262.6h1.4M441.4 263.9h1.4M448.8 268.5h1.4M442.3 258.9h1.4M445.9 266.8h1.4M454.6 263.5h1.4M446.4 268.1h1.4M438.5 262.1h1.4M443.2 253.7h1.4M445.3 265.9h1.4M450.6 255.3h1.4M446.5 266.3h1.4M442.1 263.6h1.4M452.8 265.5h1.4M446.8 265.0h1.4M441.9 252.7h1.4M439.4 261.2h1.4M445.3 252.8h1.4M446.0 254.4h1.4M451.9 254.9h1.4M440.5 267.8h1.4M449.2 250.4h1.4M438.3 259.3h1.4M448.7 267.9h1.4M456.4 257.3h1.4M448.4 248.9h1.4M447.4 266.0h1.4M452.7 252.1h1.4M450.3 251.0h1.4M449.0 268.4h1.4M449.5 267.0h1.4M443.4 267.6h1.4M448.3 249.6h1.4M449.3 266.2h1.4M447.8 268.3h1.4M441.9 256.6h1.4M446.5 266.7h1.4M445.8 250.2h1.4M452.7 257.3h1.4M444.6 264.4h1.4M441.0 256.3h1.4M455.9 260.8h1.4M439.9 255.2h1.4M451.4 266.9h1.4M443.8 265.4h1.4M451.0 249.5h1.4M453.9 259.1h1.4M446.7 252.1h1.4M454.2 258.8h1.4M450.3 252.6h1.4M453.7 262.3h1.4M455.3 255.8h1.4M441.0 254.3h1.4M452.5 264.1h1.4M451.8 260.3h1.4M448.5 252.9h1.4M445.9 268.9h1.4M438.7 255.0h1.4M443.8 264.4h1.4M448.7 264.8h1.4M450.0 263.9h1.4M438.1 259.8h1.4M450.5 250.3h1.4M452.1 262.9h1.4M447.2 250.7h1.4M440.5 255.1h1.4M451.0 255.5h1.4M439.4 262.7h1.4M440.7 265.6h1.4M452.8 264.0h1.4M455.6 253.7h1.4M452.8 264.8h1.4M441.0 261.7h1.4M452.6 251.9h1.4M441.3 251.6h1.4M439.7 266.2h1.4M452.3 253.9h1.4M453.9 263.1h1.4M451.9 263.4h1.4M450.0 253.3h1.4M446.8 253.4h1.4M441.7 266.7h1.4M443.6 267.6h1.4M453.2 253.0h1.4M452.0 262.2h1.4M452.1 265.4h1.4M441.9 263.5h1.4M437.9 259.0h1.4M454.5 264.3h1.4M441.3 257.1h1.4M437.9 253.8h1.4M449.0 264.2h1.4M456.5 258.9h1.4M455.3 257.9h1.4M445.6 266.8h1.4M442.0 263.2h1.4M438.8 259.5h1.4M439.5 259.9h1.4M441.6 257.4h1.4M448.5 267.3h1.4M444.3 266.6h1.4M440.8 259.3h1.4M444.3 265.9h1.4M450.5 268.9h1.4M452.1 255.1h1.4M444.4 251.3h1.4M446.0 250.8h1.4M444.3 265.9h1.4M442.3 258.6h1.4M447.4 270.1h1.4M445.0 251.2h1.4M453.5 258.0h1.4M448.6 264.9h1.4M442.0 257.5h1.4M441.7 264.5h1.4M448.7 262.0h1.4M444.6 256.0h1.4M447.3 269.4h1.4M443.1 266.0h1.4M442.8 250.3h1.4M447.2 266.4h1.4M452.6 263.9h1.4M443.7 253.6h1.4M445.6 250.4h1.4M452.6 266.8h1.4M441.1 266.7h1.4M447.5 265.2h1.4M446.0 249.6h1.4M439.3 260.8h1.4M438.9 254.0h1.4M452.5 249.6h1.4M448.7 253.0h1.4M453.6 263.5h1.4M441.0 252.8h1.4M448.3 255.4h1.4M446.3 266.4h1.4M439.6 260.2h1.4M438.4 260.1h1.4M438.4 259.5h1.4M447.1 252.7h1.4M446.4 269.8h1.4M445.6 260.2h1.4M447.5 256.0h1.4M444.2 265.1h1.4M445.8 254.6h1.4M449.6 251.8h1.4M445.0 262.8h1.4M451.0 265.6h1.4M453.8 257.7h1.4M443.4 265.8h1.4M454.9 256.6h1.4M449.7 271.5h1.4M439.1 257.9h1.4M454.0 253.8h1.4M445.5 252.1h1.4M452.9 255.6h1.4M446.5 266.5h1.4M441.5 260.2h1.4M442.7 264.1h1.4M449.7 250.0h1.4M453.7 259.9h1.4M454.6 257.0h1.4M451.9 261.1h1.4M449.8 269.6h1.4M450.7 261.2h1.4M451.2 251.6h1.4M455.9 256.9h1.4M441.3 265.1h1.4M450.6 268.2h1.4M451.6 266.2h1.4M446.8 251.5h1.4M451.5 255.9h1.4M440.3 264.8h1.4" stroke="#178ff3" stroke-width="1.4" fill="none"/>
<path d="M450.4 245.9h1.4M434.1 262.7h1.4M451.9 249.9h1.4M449.9 265.3h1.4M453.1 267.3h1.4M453.5 257.0h1.4M435.9 266.7h1.4M444.5 262.2h1.4M449.4 279.1h1.4M432.1 260.0h1.4M448.5 266.4h1.4M441.9 257.3h1.4M439.1 253.0h1.4M455.9 277.9h1.4M441.0 266.5h1.4M447.1 253.8h1.4M446.0 256.2h1.4M438.2 255.2h1.4M448.7 267.6h1.4M450.5 258.0h1.4M444.6 252.5h1.4M447.5 253.2h1.4M450.3 271.4h1.4M448.5 262.8h1.4M449.8 263.9h1.4M430.2 263.1h1.4M448.7 257.8h1.4M444.9 268.1h1.4M448.5 261.1h1.4M461.5 266.7h1.4M459.4 266.1h1.4M449.1 259.5h1.4M460.5 260.8h1.4M451.8 251.7h1.4M452.8 260.1h1.4M439.3 264.9h1.4M433.4 272.4h1.4M452.7 264.2h1.4M447.7 256.6h1.4M454.9 273.4h1.4M455.3 253.4h1.4M456.5 259.5h1.4M445.0 244.3h1.4M453.0 253.3h1.4M442.8 254.8h1.4M452.6 251.8h1.4M439.1 260.0h1.4M448.5 271.9h1.4M443.5 272.1h1.4M453.7 258.9h1.4M453.5 261.7h1.4M454.3 258.7h1.4M439.6 263.8h1.4M452.6 264.7h1.4M444.2 262.5h1.4M441.5 261.7h1.4M450.6 259.5h1.4M450.0 263.7h1.4M427.3 245.9h1.4M439.8 241.0h1.4" stroke="#3d7fcc" stroke-width="1.4" fill="none"/>
<path d="M468.5 320.8h1.4M415.3 317.3h1.4M417.7 328.9h1.4" stroke="#9c5060" stroke-width="1.4" fill="none"/>
<path d="M392.5 336.8v-4.8M392.5 214.3v4.8M392.5 336.8h4.8M515 336.8h-4.8M401.7 336.8v-2.4M401.7 214.3v2.4M392.5 327.6h2.4M515 327.6h-2.4M407.1 336.8v-2.4M407.1 214.3v2.4M392.5 322.2h2.4M515 322.2h-2.4M410.9 336.8v-2.4M410.9 214.3v2.4M392.5 318.4h2.4M515 318.4h-2.4M413.9 336.8v-2.4M413.9 214.3v2.4M392.5 315.4h2.4M515 315.4h-2.4M416.3 336.8v-2.4M416.3 214.3v2.4M392.5 313h2.4M515 313h-2.4M418.4 336.8v-2.4M418.4 214.3v2.4M392.5 310.9h2.4M515 310.9h-2.4M420.2 336.8v-2.4M420.2 214.3v2.4M392.5 309.1h2.4M515 309.1h-2.4M421.7 336.8v-2.4M421.7 214.3v2.4M392.5 307.6h2.4M515 307.6h-2.4M423.1 336.8v-4.8M423.1 214.3v4.8M392.5 306.2h4.8M515 306.2h-4.8M432.3 336.8v-2.4M432.3 214.3v2.4M392.5 297h2.4M515 297h-2.4M437.7 336.8v-2.4M437.7 214.3v2.4M392.5 291.6h2.4M515 291.6h-2.4M441.6 336.8v-2.4M441.6 214.3v2.4M392.5 287.7h2.4M515 287.7h-2.4M444.5 336.8v-2.4M444.5 214.3v2.4M392.5 284.8h2.4M515 284.8h-2.4M447 336.8v-2.4M447 214.3v2.4M392.5 282.3h2.4M515 282.3h-2.4M449 336.8v-2.4M449 214.3v2.4M392.5 280.3h2.4M515 280.3h-2.4M450.8 336.8v-2.4M450.8 214.3v2.4M392.5 278.5h2.4M515 278.5h-2.4M452.3 336.8v-2.4M452.3 214.3v2.4M392.5 277h2.4M515 277h-2.4M453.8 336.8v-4.8M453.8 214.3v4.8M392.5 275.6h4.8M515 275.6h-4.8M463 336.8v-2.4M463 214.3v2.4M392.5 266.3h2.4M515 266.3h-2.4M468.4 336.8v-2.4M468.4 214.3v2.4M392.5 260.9h2.4M515 260.9h-2.4M472.2 336.8v-2.4M472.2 214.3v2.4M392.5 257.1h2.4M515 257.1h-2.4M475.2 336.8v-2.4M475.2 214.3v2.4M392.5 254.1h2.4M515 254.1h-2.4M477.6 336.8v-2.4M477.6 214.3v2.4M392.5 251.7h2.4M515 251.7h-2.4M479.6 336.8v-2.4M479.6 214.3v2.4M392.5 249.7h2.4M515 249.7h-2.4M481.4 336.8v-2.4M481.4 214.3v2.4M392.5 247.9h2.4M515 247.9h-2.4M483 336.8v-2.4M483 214.3v2.4M392.5 246.3h2.4M515 246.3h-2.4M484.4 336.8v-4.8M484.4 214.3v4.8M392.5 244.9h4.8M515 244.9h-4.8M493.6 336.8v-2.4M493.6 214.3v2.4M392.5 235.7h2.4M515 235.7h-2.4M499 336.8v-2.4M499 214.3v2.4M392.5 230.3h2.4M515 230.3h-2.4M502.8 336.8v-2.4M502.8 214.3v2.4M392.5 226.5h2.4M515 226.5h-2.4M505.8 336.8v-2.4M505.8 214.3v2.4M392.5 223.5h2.4M515 223.5h-2.4M508.2 336.8v-2.4M508.2 214.3v2.4M392.5 221.1h2.4M515 221.1h-2.4M510.3 336.8v-2.4M510.3 214.3v2.4M392.5 219h2.4M515 219h-2.4M512 336.8v-2.4M512 214.3v2.4M392.5 217.3h2.4M515 217.3h-2.4M513.6 336.8v-2.4M513.6 214.3v2.4M392.5 215.7h2.4M515 215.7h-2.4" stroke="#000" stroke-width="1.1" fill="none"/>
<path d="M392.5 336.8V214.3H515" stroke="#000" stroke-width="2" fill="none"/>
<path d="M515 213.8V336.8H391.5" stroke="#000" stroke-width="1.5" fill="none"/>
<text x="392.5" y="344.1" class="tl" text-anchor="middle">10<tspan class="sp" dy="-2.2">0</tspan></text>
<text x="391.7" y="339.2" class="tl" text-anchor="end">10<tspan class="sp" dy="-2.2">0</tspan></text>
<text x="423.1" y="344.1" class="tl" text-anchor="middle">10<tspan class="sp" dy="-2.2">1</tspan></text>
<text x="391.7" y="308.6" class="tl" text-anchor="end">10<tspan class="sp" dy="-2.2">1</tspan></text>
<text x="453.8" y="344.1" class="tl" text-anchor="middle">10<tspan class="sp" dy="-2.2">2</tspan></text>
<text x="391.7" y="277.9" class="tl" text-anchor="end">10<tspan class="sp" dy="-2.2">2</tspan></text>
<text x="484.4" y="344.1" class="tl" text-anchor="middle">10<tspan class="sp" dy="-2.2">3</tspan></text>
<text x="391.7" y="247.3" class="tl" text-anchor="end">10<tspan class="sp" dy="-2.2">3</tspan></text>
<text x="515" y="344.1" class="tl" text-anchor="middle">10<tspan class="sp" dy="-2.2">4</tspan></text>
<text x="391.7" y="216.7" class="tl" text-anchor="end">10<tspan class="sp" dy="-2.2">4</tspan></text>
<text x="513.2" y="230.9" class="num" text-anchor="end">65</text>
<text x="394.4" y="333.7" class="num">15</text>
<text x="513.2" y="333.7" class="num" text-anchor="end">20</text><path d="M140.5 380V503" stroke="#727272" stroke-width="1" fill="none"/>
<path d="M95.3 432.5H217.8" stroke="#7c7c7c" stroke-width="1" fill="none"/>
<path d="M147.6 436.0h1.4M147.7 426.2h1.4M153.1 431.3h1.4M150.8 426.6h1.4M154.2 440.7h1.4M151.1 430.0h1.4M149.9 429.8h1.4M151.1 432.1h1.4M143.1 426.7h1.4M145.1 416.7h1.4M150.3 434.7h1.4M150.1 427.4h1.4M155.6 433.2h1.4M146.8 419.3h1.4M153.7 433.7h1.4M154.3 435.2h1.4M146.7 422.8h1.4M147.9 432.8h1.4M152.3 428.0h1.4M155.0 442.2h1.4M149.6 432.5h1.4M150.0 425.5h1.4M156.4 429.4h1.4M146.7 422.1h1.4M155.3 439.2h1.4M149.5 429.7h1.4M151.1 431.5h1.4M144.6 423.3h1.4M147.5 427.3h1.4M150.9 433.7h1.4M148.7 429.0h1.4M149.0 428.6h1.4M150.7 431.0h1.4M150.6 431.5h1.4M148.5 428.3h1.4M149.1 426.6h1.4M143.0 419.1h1.4M154.6 439.1h1.4M146.1 426.3h1.4M149.5 428.4h1.4M151.1 433.1h1.4M145.7 426.4h1.4M154.1 435.2h1.4M156.8 439.1h1.4M150.5 427.6h1.4M148.6 433.6h1.4M147.6 428.5h1.4M149.6 426.3h1.4M141.5 421.9h1.4M143.7 418.9h1.4M152.2 435.9h1.4M147.4 423.9h1.4M143.9 430.3h1.4M147.7 420.3h1.4M146.8 424.0h1.4M151.6 433.1h1.4M156.4 440.9h1.4M148.8 428.2h1.4M147.6 429.1h1.4M151.7 433.6h1.4M147.4 425.2h1.4M151.8 434.7h1.4M151.5 433.5h1.4M145.7 429.3h1.4M145.4 421.7h1.4M145.6 432.0h1.4M157.2 437.1h1.4M151.6 433.5h1.4M152.8 432.2h1.4M143.7 428.4h1.4M151.9 431.2h1.4M149.2 430.3h1.4M150.8 431.1h1.4M149.9 436.2h1.4M146.2 434.1h1.4M143.6 421.2h1.4M144.1 429.7h1.4M149.2 430.0h1.4M147.0 423.5h1.4M143.9 423.7h1.4M152.9 431.5h1.4M152.8 431.9h1.4M148.5 427.2h1.4M149.6 425.6h1.4M153.8 439.5h1.4M149.5 430.6h1.4M149.3 425.6h1.4M145.0 431.9h1.4M147.4 426.3h1.4M149.4 428.4h1.4M150.7 431.4h1.4M147.3 429.0h1.4M152.6 429.2h1.4M151.9 433.1h1.4M153.3 433.6h1.4M152.1 431.3h1.4M155.7 426.3h1.4M150.0 434.3h1.4M151.4 430.5h1.4M149.9 430.4h1.4M148.6 431.1h1.4M145.6 424.8h1.4M147.2 434.1h1.4M146.1 428.9h1.4M154.5 434.1h1.4M144.8 429.9h1.4M147.7 427.7h1.4M149.2 428.4h1.4M150.9 423.6h1.4M151.3 434.0h1.4" stroke="#c44553" stroke-width="1.4" fill="none"/>
<path d="M142.6 429.8h1.4M146.6 430.7h1.4M149.4 427.1h1.4M146.8 429.9h1.4M147.9 429.6h1.4M143.6 421.3h1.4M151.3 425.8h1.4M153.1 427.2h1.4M142.6 425.9h1.4M149.0 416.4h1.4M142.8 439.1h1.4M144.9 434.1h1.4M141.9 429.4h1.4M144.0 417.1h1.4M140.6 425.6h1.4M138.8 434.3h1.4M141.2 429.0h1.4M148.6 425.3h1.4M145.8 428.5h1.4M138.7 426.8h1.4M146.4 431.2h1.4M150.0 427.2h1.4M146.9 438.6h1.4M143.1 425.2h1.4M139.1 421.6h1.4" stroke="#9c5060" stroke-width="1.4" fill="none"/>
<polygon points="148.3,412.5 155.0,410.3 163.0,409.8 169.5,409.8 171.0,413.5 170.8,420.0 168.5,426.5 162.0,432.0 156.0,436.8 152.5,434.5 149.5,428.0 148.0,420.0" fill="#178ff3"/>
<path d="M149.0 428.6h1.4M147.0 417.0h1.4M167.9 410.3h1.4M147.6 417.8h1.4M147.1 412.9h1.4M164.7 429.1h1.4M164.4 409.5h1.4M170.4 415.1h1.4M146.9 417.1h1.4M170.9 416.0h1.4M150.6 431.3h1.4M153.7 409.1h1.4M158.9 432.6h1.4M164.2 429.1h1.4M150.8 432.7h1.4M161.9 431.1h1.4M148.0 411.9h1.4M154.7 409.8h1.4M165.5 409.3h1.4M160.2 432.4h1.4M154.3 410.6h1.4M170.9 413.5h1.4M156.7 411.1h1.4M158.3 434.6h1.4M152.5 411.3h1.4M158.6 434.3h1.4M150.8 412.2h1.4M161.1 431.7h1.4M158.6 434.8h1.4M164.6 429.4h1.4M167.0 427.9h1.4M147.5 422.7h1.4M148.8 413.4h1.4M165.6 410.3h1.4M148.9 412.3h1.4M162.2 410.1h1.4M149.2 429.3h1.4M167.4 410.4h1.4M172.0 418.6h1.4M150.4 432.5h1.4M171.7 413.3h1.4M157.6 411.5h1.4M146.4 423.6h1.4M154.5 409.8h1.4M148.5 412.5h1.4M158.5 431.8h1.4M148.6 428.2h1.4M152.0 434.4h1.4M157.4 435.9h1.4M152.4 434.2h1.4M148.3 430.7h1.4M150.5 429.0h1.4M156.3 436.8h1.4M150.5 431.9h1.4M154.9 410.4h1.4M170.7 416.0h1.4M167.9 417.8h1.4M165.1 410.3h1.4M168.9 425.5h1.4M165.8 409.8h1.4M167.5 409.3h1.4M147.1 416.1h1.4M170.0 421.4h1.4M159.0 408.9h1.4M150.2 427.7h1.4M150.4 411.7h1.4M149.4 427.9h1.4M151.8 411.5h1.4M150.0 430.0h1.4M160.5 432.6h1.4M147.0 417.5h1.4M150.3 430.1h1.4M152.4 433.7h1.4M148.1 414.9h1.4M161.9 430.5h1.4M147.0 418.2h1.4M167.7 426.5h1.4M163.1 430.5h1.4M163.1 430.7h1.4M160.0 432.0h1.4M162.1 409.1h1.4M161.6 410.6h1.4M150.3 412.8h1.4M151.4 433.2h1.4M169.3 413.1h1.4M149.9 431.4h1.4M152.8 411.3h1.4M157.5 409.8h1.4M147.5 412.3h1.4M152.7 409.6h1.4M148.3 412.9h1.4M151.5 433.8h1.4M151.7 410.8h1.4M166.6 427.3h1.4M165.9 409.3h1.4M152.4 410.7h1.4M170.1 416.0h1.4M166.7 427.3h1.4M165.5 428.9h1.4M148.8 427.7h1.4M166.3 408.9h1.4M162.6 410.5h1.4M149.3 429.1h1.4M154.2 436.2h1.4M146.8 415.5h1.4M170.4 411.0h1.4M146.9 413.1h1.4M157.1 408.9h1.4M154.5 411.0h1.4M160.1 432.8h1.4M150.3 432.9h1.4M147.7 425.1h1.4M154.7 435.2h1.4M162.7 430.4h1.4M167.8 411.3h1.4M166.6 410.1h1.4M169.0 422.2h1.4M169.6 417.3h1.4M170.8 414.8h1.4M165.8 428.6h1.4M165.5 410.7h1.4M169.2 418.3h1.4M148.5 414.2h1.4M150.0 411.7h1.4M170.0 419.9h1.4M164.8 428.1h1.4M156.6 436.9h1.4M157.0 410.5h1.4M148.1 428.4h1.4M162.2 410.7h1.4M170.4 410.6h1.4M170.7 419.0h1.4M169.0 410.6h1.4M149.2 425.1h1.4M148.8 422.8h1.4M156.4 435.5h1.4M164.6 430.2h1.4M151.3 433.6h1.4M148.2 415.1h1.4M165.7 429.4h1.4M158.6 432.5h1.4M168.2 410.3h1.4M155.1 437.3h1.4M158.3 433.6h1.4M149.7 432.1h1.4M151.3 410.6h1.4M171.3 411.6h1.4M148.4 419.4h1.4M158.4 435.4h1.4M152.0 433.0h1.4M154.8 410.4h1.4M165.3 430.7h1.4M148.9 428.7h1.4M163.5 410.6h1.4M146.9 421.5h1.4M145.6 422.0h1.4M163.2 410.0h1.4M167.6 423.4h1.4M165.3 428.6h1.4M156.1 436.8h1.4M170.3 424.2h1.4M165.8 410.0h1.4M148.0 415.0h1.4M155.6 409.9h1.4M152.0 410.4h1.4M159.9 409.9h1.4M156.4 434.4h1.4M152.1 410.8h1.4M157.0 435.4h1.4M148.3 413.9h1.4M167.5 410.6h1.4M152.8 410.9h1.4M168.4 408.7h1.4M170.4 417.6h1.4M151.2 433.9h1.4M158.1 433.7h1.4M150.0 431.3h1.4M147.7 425.9h1.4M162.7 431.6h1.4M154.8 436.3h1.4M147.6 421.2h1.4M166.4 425.7h1.4M154.4 435.2h1.4M148.0 422.7h1.4M170.4 415.5h1.4M150.2 429.5h1.4M168.3 423.4h1.4M168.0 425.0h1.4M152.4 435.6h1.4M169.0 421.1h1.4M158.9 408.8h1.4M160.5 431.9h1.4M159.7 433.0h1.4M167.5 410.0h1.4M168.6 411.2h1.4M163.6 431.7h1.4M151.2 430.8h1.4M147.2 424.5h1.4M148.0 417.1h1.4M157.6 435.2h1.4M149.6 433.1h1.4M151.2 434.6h1.4M169.2 411.0h1.4M167.3 409.8h1.4M152.1 434.4h1.4M149.9 427.7h1.4M167.6 427.0h1.4M169.9 412.2h1.4M147.9 418.0h1.4M169.2 420.9h1.4M167.6 410.7h1.4M165.2 409.8h1.4M149.2 427.9h1.4M161.8 431.0h1.4M155.9 436.6h1.4M147.1 423.2h1.4M166.9 426.9h1.4M146.7 423.9h1.4M170.7 418.3h1.4M153.6 435.0h1.4M167.3 410.0h1.4M156.0 435.4h1.4M158.5 409.5h1.4M152.8 410.6h1.4M152.5 435.2h1.4M161.2 434.1h1.4M147.5 418.2h1.4M152.3 410.6h1.4M169.6 413.0h1.4M148.3 420.5h1.4M163.8 409.6h1.4M149.2 428.3h1.4M166.1 410.1h1.4M155.4 409.6h1.4M168.2 425.2h1.4M169.5 419.2h1.4M169.0 421.3h1.4M148.4 426.6h1.4M146.7 414.2h1.4M153.3 437.6h1.4M168.6 424.5h1.4M148.6 425.0h1.4M169.1 422.6h1.4M150.7 411.7h1.4M167.3 408.4h1.4M170.4 412.9h1.4M155.2 410.2h1.4M148.9 420.3h1.4M170.5 420.5h1.4M150.3 411.2h1.4M161.9 430.8h1.4M169.5 421.5h1.4M151.8 432.3h1.4M147.5 413.4h1.4M168.5 411.0h1.4M148.8 419.9h1.4M149.5 423.8h1.4M165.4 429.1h1.4M170.5 416.8h1.4M160.4 434.1h1.4M167.6 410.3h1.4M152.5 433.4h1.4M149.0 412.9h1.4M170.3 415.7h1.4M168.9 424.3h1.4M169.9 417.2h1.4M156.9 436.5h1.4M149.9 431.6h1.4M147.1 420.5h1.4M159.4 412.8h1.4M157.3 435.8h1.4M157.1 410.5h1.4M162.2 409.7h1.4M146.2 416.1h1.4M153.2 435.9h1.4M149.4 413.6h1.4M167.3 429.0h1.4M162.4 410.5h1.4M155.1 409.7h1.4M155.1 434.1h1.4M160.1 411.0h1.4M149.1 412.1h1.4M170.5 415.3h1.4M147.3 422.7h1.4M169.8 422.6h1.4M149.4 410.9h1.4M166.6 428.4h1.4M155.8 435.6h1.4M146.9 413.4h1.4M146.5 421.2h1.4M152.2 411.3h1.4M168.7 422.6h1.4M158.8 410.6h1.4M148.5 411.7h1.4M152.4 434.5h1.4M147.3 418.6h1.4M160.2 433.8h1.4M153.1 410.8h1.4M166.5 408.7h1.4M147.8 426.6h1.4M170.2 419.7h1.4M148.0 419.5h1.4M163.4 428.8h1.4M156.0 435.8h1.4M149.6 410.2h1.4M169.4 414.4h1.4M147.9 417.3h1.4M168.6 417.6h1.4M167.0 409.3h1.4M147.2 421.3h1.4M168.7 421.8h1.4M160.6 433.0h1.4M162.6 410.4h1.4M148.1 412.9h1.4M161.3 432.4h1.4M148.8 427.0h1.4M155.5 409.5h1.4M168.9 425.9h1.4M170.0 415.5h1.4M167.8 428.2h1.4M151.7 411.6h1.4M148.8 411.9h1.4M160.8 409.5h1.4M158.0 434.2h1.4M155.0 436.3h1.4M151.5 411.4h1.4M149.0 429.1h1.4M164.7 428.7h1.4M152.4 434.0h1.4M149.1 425.8h1.4M169.8 420.4h1.4M157.7 435.5h1.4M154.4 436.9h1.4M149.3 429.3h1.4M165.2 429.6h1.4M156.3 436.4h1.4M159.8 433.2h1.4M162.0 409.2h1.4M147.8 425.2h1.4M160.3 410.6h1.4M150.8 431.9h1.4M159.4 432.4h1.4M162.1 429.2h1.4M159.2 410.4h1.4M151.0 412.2h1.4M162.2 430.5h1.4M155.7 436.5h1.4M147.0 424.1h1.4M163.4 428.9h1.4M147.4 412.7h1.4M150.7 434.4h1.4M159.2 433.4h1.4M170.3 420.7h1.4M158.9 433.7h1.4M147.2 418.0h1.4M168.4 414.7h1.4M147.8 425.0h1.4M167.4 428.2h1.4M151.2 411.2h1.4M150.1 433.0h1.4M164.3 431.1h1.4M169.1 423.8h1.4M153.6 434.1h1.4M169.3 426.0h1.4M165.3 411.3h1.4M171.0 419.7h1.4M151.2 410.8h1.4M157.2 411.5h1.4M160.1 432.8h1.4M148.0 419.9h1.4M154.8 435.6h1.4M168.6 414.3h1.4M169.6 409.3h1.4M169.7 411.9h1.4M158.3 410.2h1.4M168.7 425.6h1.4M165.4 428.1h1.4M169.9 422.6h1.4M163.0 430.3h1.4M169.7 418.3h1.4M159.0 434.7h1.4M149.4 429.7h1.4M151.3 434.6h1.4M165.6 430.4h1.4M147.7 414.7h1.4M153.0 433.7h1.4M169.2 420.0h1.4M171.8 417.2h1.4M164.8 428.4h1.4M151.2 411.3h1.4M168.7 426.4h1.4M169.9 420.9h1.4M164.4 410.3h1.4M153.4 435.0h1.4M160.2 409.0h1.4M161.4 410.7h1.4M162.4 429.7h1.4M161.5 432.1h1.4M171.7 424.8h1.4M147.7 412.8h1.4M159.8 410.5h1.4M170.6 412.9h1.4M148.6 421.4h1.4M156.8 437.1h1.4M154.4 409.5h1.4M148.7 420.8h1.4M169.6 421.2h1.4M170.3 413.2h1.4M148.5 426.1h1.4M149.5 428.9h1.4M161.8 409.3h1.4M167.7 425.9h1.4M147.6 415.5h1.4M155.3 435.6h1.4M153.0 410.0h1.4M158.2 409.4h1.4M155.4 435.2h1.4M164.1 409.2h1.4M159.8 432.5h1.4M153.6 411.8h1.4M157.6 434.6h1.4M147.7 414.7h1.4M162.3 431.9h1.4M164.7 408.4h1.4M155.4 437.0h1.4M161.1 430.9h1.4M147.1 418.0h1.4M147.5 425.4h1.4M164.2 411.0h1.4M146.8 424.4h1.4M151.6 432.7h1.4M148.0 413.5h1.4M147.7 423.7h1.4M165.3 427.5h1.4M168.6 422.8h1.4M163.9 429.4h1.4M151.3 431.6h1.4M168.0 410.1h1.4M156.2 436.3h1.4M149.4 432.2h1.4M164.5 428.2h1.4M149.6 423.2h1.4M168.8 424.6h1.4M147.8 425.3h1.4M151.2 410.7h1.4M147.8 412.5h1.4M157.3 409.5h1.4M164.2 409.1h1.4M169.2 412.1h1.4M147.5 421.1h1.4M161.8 411.5h1.4M169.4 416.1h1.4M155.4 438.1h1.4M169.5 411.0h1.4M156.7 410.0h1.4M150.1 410.9h1.4M167.9 409.1h1.4M149.3 411.4h1.4M161.2 430.7h1.4M150.6 411.4h1.4M148.1 429.1h1.4M169.0 424.2h1.4M168.4 422.6h1.4M156.0 435.8h1.4M165.9 408.0h1.4M151.9 433.9h1.4M152.6 411.7h1.4M163.2 429.1h1.4M168.8 422.9h1.4M169.0 416.8h1.4M147.7 413.7h1.4M166.2 427.7h1.4M150.0 412.0h1.4M147.8 424.8h1.4M148.3 412.2h1.4M157.3 435.4h1.4M150.1 411.4h1.4M147.1 416.7h1.4M159.4 409.9h1.4M153.3 435.8h1.4M147.4 413.3h1.4M147.9 425.6h1.4M165.2 409.5h1.4M163.5 429.7h1.4M170.1 411.7h1.4M151.0 428.8h1.4M166.3 409.3h1.4M153.8 436.8h1.4M148.2 422.6h1.4M167.6 427.2h1.4M169.4 412.9h1.4M149.8 428.9h1.4M171.4 414.0h1.4M161.6 431.7h1.4M168.5 420.3h1.4M159.6 432.9h1.4M167.8 410.4h1.4M148.8 417.8h1.4M150.4 432.7h1.4M150.7 411.2h1.4M148.7 428.6h1.4M170.3 417.5h1.4M148.5 416.3h1.4M169.4 413.3h1.4M167.9 409.4h1.4M157.1 410.4h1.4M159.8 432.3h1.4M150.3 412.1h1.4M147.8 418.7h1.4M151.4 434.8h1.4M163.7 428.3h1.4M153.9 410.1h1.4M146.9 425.2h1.4M148.1 412.3h1.4M169.6 414.6h1.4M166.5 428.1h1.4M162.7 431.2h1.4M150.7 431.8h1.4M153.5 410.7h1.4M149.3 421.0h1.4M163.9 431.5h1.4M154.1 434.3h1.4M151.8 432.1h1.4M162.0 408.4h1.4M156.8 409.2h1.4M150.6 427.6h1.4M170.0 411.1h1.4M147.3 412.2h1.4M166.1 427.4h1.4M152.7 435.3h1.4M147.6 412.8h1.4M166.6 411.2h1.4M147.1 423.1h1.4M148.3 413.5h1.4M156.5 409.1h1.4M167.4 424.7h1.4M169.3 420.0h1.4M147.8 425.6h1.4M154.2 411.2h1.4M148.2 421.8h1.4M160.8 432.3h1.4M147.2 418.3h1.4M152.2 435.4h1.4M168.6 411.3h1.4M156.6 437.2h1.4M147.8 422.8h1.4M158.6 434.7h1.4M168.0 409.7h1.4M170.0 418.9h1.4M164.4 428.6h1.4" stroke="#178ff3" stroke-width="1.4" fill="none"/>
<path d="M157.9 437.6h1.4M167.1 409.1h1.4M155.4 421.3h1.4M143.8 421.6h1.4M157.1 421.0h1.4M168.7 422.7h1.4M167.4 414.5h1.4M155.1 421.6h1.4M172.7 415.4h1.4M150.9 418.4h1.4M164.4 429.5h1.4M162.5 420.1h1.4M155.1 420.2h1.4M169.8 430.3h1.4M165.6 425.7h1.4M154.9 425.0h1.4M167.0 416.6h1.4M161.7 426.3h1.4M164.0 426.8h1.4M158.0 431.5h1.4M160.9 411.4h1.4M169.3 427.0h1.4M159.2 400.3h1.4M167.3 418.9h1.4M163.8 428.8h1.4M154.1 400.1h1.4M173.3 431.2h1.4M172.2 421.7h1.4M161.8 415.4h1.4M150.7 439.0h1.4M155.2 418.7h1.4M147.7 414.8h1.4M157.2 421.5h1.4M166.4 402.6h1.4M171.1 411.3h1.4M142.9 426.7h1.4M184.8 421.2h1.4M149.2 423.2h1.4M153.1 434.6h1.4M157.9 424.1h1.4" stroke="#3d7fcc" stroke-width="1.4" fill="none"/>
<path d="M119.0 453.6h1.4M127.7 468.0h1.4M124.8 472.4h1.4M145.0 453.6h1.4M147.9 459.4h1.4M152.2 458.0h1.4M136.3 446.4h1.4M132.0 424.8h1.4M139.2 468.0h1.4" stroke="#9c5060" stroke-width="1.4" fill="none"/>
<path d="M172.3 437.8h1.4" stroke="#3d7fcc" stroke-width="1.4" fill="none"/>
<path d="M95.3 503v-4.8M95.3 380v4.8M95.3 503h4.8M217.8 503h-4.8M104.5 503v-2.4M104.5 380v2.4M95.3 493.7h2.4M217.8 493.7h-2.4M109.9 503v-2.4M109.9 380v2.4M95.3 488.3h2.4M217.8 488.3h-2.4M113.7 503v-2.4M113.7 380v2.4M95.3 484.5h2.4M217.8 484.5h-2.4M116.7 503v-2.4M116.7 380v2.4M95.3 481.5h2.4M217.8 481.5h-2.4M119.1 503v-2.4M119.1 380v2.4M95.3 479.1h2.4M217.8 479.1h-2.4M121.2 503v-2.4M121.2 380v2.4M95.3 477h2.4M217.8 477h-2.4M123 503v-2.4M123 380v2.4M95.3 475.2h2.4M217.8 475.2h-2.4M124.5 503v-2.4M124.5 380v2.4M95.3 473.7h2.4M217.8 473.7h-2.4M125.9 503v-4.8M125.9 380v4.8M95.3 472.2h4.8M217.8 472.2h-4.8M135.1 503v-2.4M135.1 380v2.4M95.3 463h2.4M217.8 463h-2.4M140.5 503v-2.4M140.5 380v2.4M95.3 457.6h2.4M217.8 457.6h-2.4M144.4 503v-2.4M144.4 380v2.4M95.3 453.7h2.4M217.8 453.7h-2.4M147.3 503v-2.4M147.3 380v2.4M95.3 450.8h2.4M217.8 450.8h-2.4M149.8 503v-2.4M149.8 380v2.4M95.3 448.3h2.4M217.8 448.3h-2.4M151.8 503v-2.4M151.8 380v2.4M95.3 446.3h2.4M217.8 446.3h-2.4M153.6 503v-2.4M153.6 380v2.4M95.3 444.5h2.4M217.8 444.5h-2.4M155.1 503v-2.4M155.1 380v2.4M95.3 442.9h2.4M217.8 442.9h-2.4M156.6 503v-4.8M156.6 380v4.8M95.3 441.5h4.8M217.8 441.5h-4.8M165.8 503v-2.4M165.8 380v2.4M95.3 432.2h2.4M217.8 432.2h-2.4M171.2 503v-2.4M171.2 380v2.4M95.3 426.8h2.4M217.8 426.8h-2.4M175 503v-2.4M175 380v2.4M95.3 423h2.4M217.8 423h-2.4M178 503v-2.4M178 380v2.4M95.3 420h2.4M217.8 420h-2.4M180.4 503v-2.4M180.4 380v2.4M95.3 417.6h2.4M217.8 417.6h-2.4M182.4 503v-2.4M182.4 380v2.4M95.3 415.5h2.4M217.8 415.5h-2.4M184.2 503v-2.4M184.2 380v2.4M95.3 413.7h2.4M217.8 413.7h-2.4M185.8 503v-2.4M185.8 380v2.4M95.3 412.2h2.4M217.8 412.2h-2.4M187.2 503v-4.8M187.2 380v4.8M95.3 410.8h4.8M217.8 410.8h-4.8M196.4 503v-2.4M196.4 380v2.4M95.3 401.5h2.4M217.8 401.5h-2.4M201.8 503v-2.4M201.8 380v2.4M95.3 396.1h2.4M217.8 396.1h-2.4M205.6 503v-2.4M205.6 380v2.4M95.3 392.2h2.4M217.8 392.2h-2.4M208.6 503v-2.4M208.6 380v2.4M95.3 389.3h2.4M217.8 389.3h-2.4M211 503v-2.4M211 380v2.4M95.3 386.8h2.4M217.8 386.8h-2.4M213.1 503v-2.4M213.1 380v2.4M95.3 384.8h2.4M217.8 384.8h-2.4M214.8 503v-2.4M214.8 380v2.4M95.3 383h2.4M217.8 383h-2.4M216.4 503v-2.4M216.4 380v2.4M95.3 381.4h2.4M217.8 381.4h-2.4" stroke="#000" stroke-width="1.1" fill="none"/>
<path d="M95.3 503V380H217.8" stroke="#000" stroke-width="2" fill="none"/>
<path d="M217.8 379.5V503H94.3" stroke="#000" stroke-width="1.5" fill="none"/>
<text x="95.3" y="510.3" class="tl" text-anchor="middle">10<tspan class="sp" dy="-2.2">0</tspan></text>
<text x="94.5" y="505.4" class="tl" text-anchor="end">10<tspan class="sp" dy="-2.2">0</tspan></text>
<text x="125.9" y="510.3" class="tl" text-anchor="middle">10<tspan class="sp" dy="-2.2">1</tspan></text>
<text x="94.5" y="474.6" class="tl" text-anchor="end">10<tspan class="sp" dy="-2.2">1</tspan></text>
<text x="156.6" y="510.3" class="tl" text-anchor="middle">10<tspan class="sp" dy="-2.2">2</tspan></text>
<text x="94.5" y="443.9" class="tl" text-anchor="end">10<tspan class="sp" dy="-2.2">2</tspan></text>
<text x="187.2" y="510.3" class="tl" text-anchor="middle">10<tspan class="sp" dy="-2.2">3</tspan></text>
<text x="94.5" y="413.1" class="tl" text-anchor="end">10<tspan class="sp" dy="-2.2">3</tspan></text>
<text x="217.8" y="510.3" class="tl" text-anchor="middle">10<tspan class="sp" dy="-2.2">4</tspan></text>
<text x="94.5" y="382.4" class="tl" text-anchor="end">10<tspan class="sp" dy="-2.2">4</tspan></text>
<text x="216" y="396.6" class="num" text-anchor="end">94</text>
<text x="97.2" y="499.9" class="num">1</text>
<text x="216" y="499.9" class="num" text-anchor="end">5</text><path d="M288.5 380V503" stroke="#727272" stroke-width="1" fill="none"/>
<path d="M243 432.5H365.5" stroke="#7c7c7c" stroke-width="1" fill="none"/>
<path d="M277.9 449.2h1.4M293.9 440.8h1.4M283.0 442.9h1.4M274.7 435.0h1.4M303.8 442.8h1.4M283.2 455.2h1.4M286.3 465.3h1.4M295.8 442.0h1.4M275.4 454.7h1.4M289.3 456.8h1.4M295.7 441.7h1.4M283.9 456.7h1.4M295.9 454.9h1.4M292.0 447.5h1.4M282.5 438.1h1.4M281.9 451.2h1.4M304.8 447.2h1.4M273.4 454.6h1.4M273.3 446.1h1.4M290.5 461.3h1.4M284.5 450.7h1.4M278.9 445.4h1.4M293.9 451.2h1.4M287.7 449.9h1.4M279.6 462.6h1.4M286.4 446.2h1.4M304.0 452.6h1.4M295.3 463.3h1.4M294.2 459.9h1.4M309.0 437.3h1.4M289.8 454.4h1.4M269.9 451.4h1.4M300.3 457.8h1.4M282.7 461.4h1.4M283.2 440.5h1.4M295.4 460.7h1.4M289.2 450.2h1.4M280.6 443.8h1.4M278.8 451.1h1.4M297.7 454.4h1.4M284.4 454.4h1.4M293.4 452.4h1.4M289.1 457.1h1.4M272.6 440.0h1.4M283.3 452.0h1.4M299.3 454.7h1.4M284.8 446.7h1.4M290.2 452.8h1.4M299.8 452.4h1.4M290.5 449.9h1.4M295.5 460.1h1.4M280.9 452.2h1.4M292.7 464.0h1.4M285.2 448.5h1.4M284.3 447.4h1.4M282.1 451.2h1.4M290.2 465.9h1.4M275.7 451.1h1.4M290.2 457.6h1.4M277.3 447.7h1.4M283.1 461.2h1.4M294.7 456.4h1.4M285.3 437.5h1.4M271.8 448.8h1.4M281.7 457.5h1.4M281.9 452.6h1.4M303.9 460.3h1.4M292.8 435.9h1.4M296.2 450.9h1.4M276.7 447.9h1.4M288.6 453.5h1.4M283.0 448.4h1.4M290.9 440.2h1.4M278.5 444.8h1.4M289.9 446.3h1.4M279.7 458.8h1.4M285.6 447.6h1.4M281.4 458.2h1.4M293.7 441.1h1.4M286.1 463.1h1.4M295.1 464.1h1.4M282.5 462.1h1.4M296.7 444.8h1.4M291.3 449.4h1.4M278.2 457.9h1.4M296.4 428.9h1.4M305.1 444.3h1.4M286.7 468.9h1.4M299.5 467.0h1.4M279.5 455.9h1.4M282.6 439.9h1.4M283.4 456.7h1.4M298.8 468.7h1.4M284.5 447.2h1.4M294.8 463.9h1.4M285.9 458.2h1.4M290.9 442.5h1.4M272.3 452.3h1.4M296.5 440.1h1.4M285.2 462.0h1.4M287.8 457.0h1.4M294.7 461.3h1.4M281.1 454.8h1.4M283.9 443.6h1.4M288.2 433.0h1.4M313.9 448.0h1.4M296.9 468.1h1.4M287.5 471.5h1.4M278.0 451.9h1.4M298.1 460.3h1.4M291.4 438.0h1.4M286.7 460.7h1.4M291.6 450.3h1.4M283.3 444.2h1.4M276.3 447.1h1.4M286.9 451.7h1.4M292.2 451.1h1.4M275.1 454.8h1.4M285.4 449.5h1.4M292.8 459.7h1.4M273.3 449.4h1.4M291.6 445.2h1.4M286.0 448.0h1.4M269.2 448.5h1.4M277.9 465.7h1.4M296.4 445.4h1.4M283.7 449.6h1.4M286.8 443.0h1.4M280.9 455.8h1.4M282.6 444.9h1.4M293.4 445.1h1.4M285.1 458.2h1.4M290.8 454.1h1.4M287.2 442.3h1.4M282.1 449.6h1.4M276.7 455.5h1.4M300.5 449.9h1.4M298.2 451.9h1.4M291.9 451.4h1.4M296.6 452.4h1.4M272.7 434.9h1.4M289.1 453.7h1.4M286.1 447.4h1.4M273.1 457.3h1.4M285.2 434.9h1.4M281.2 451.1h1.4M292.2 457.8h1.4M304.4 451.1h1.4M286.6 440.4h1.4M270.9 453.9h1.4M288.0 462.6h1.4M276.4 454.4h1.4M284.5 466.7h1.4M276.4 455.0h1.4M296.8 459.2h1.4M290.0 451.3h1.4M291.9 440.4h1.4M313.1 451.9h1.4M292.7 454.1h1.4M281.0 457.6h1.4M289.8 464.2h1.4M296.9 450.7h1.4M281.2 455.2h1.4M275.8 454.9h1.4M264.5 463.7h1.4M304.5 446.3h1.4M295.6 450.7h1.4M283.2 446.2h1.4M286.3 446.6h1.4M298.4 447.6h1.4" stroke="#9c5060" stroke-width="1.4" fill="none"/>
<path d="M290.9 452.6h1.4M281.6 452.2h1.4M288.7 444.1h1.4M286.9 451.9h1.4M283.7 451.0h1.4M284.6 450.4h1.4M292.1 445.3h1.4M287.3 456.5h1.4M291.9 436.8h1.4M285.6 446.5h1.4M287.8 448.9h1.4M299.6 450.0h1.4M287.7 450.4h1.4M289.1 451.7h1.4M287.6 443.9h1.4M301.9 440.5h1.4M297.1 453.5h1.4M280.5 444.5h1.4M287.7 450.6h1.4M288.9 448.4h1.4M291.1 432.5h1.4M284.7 446.1h1.4M287.8 449.8h1.4M281.1 447.3h1.4M292.9 452.6h1.4M282.5 444.6h1.4M297.9 448.6h1.4M289.7 449.2h1.4M282.3 445.0h1.4M288.0 446.5h1.4M289.9 455.5h1.4M283.6 443.4h1.4M294.4 440.9h1.4M290.4 451.0h1.4M293.4 456.4h1.4M277.6 451.9h1.4M288.5 440.1h1.4M282.2 446.4h1.4M284.2 450.1h1.4M287.2 441.4h1.4M278.7 436.1h1.4M285.3 443.8h1.4M292.6 444.9h1.4M274.5 442.1h1.4M287.8 448.5h1.4M284.9 456.8h1.4M284.3 449.7h1.4M290.7 439.9h1.4M287.2 444.9h1.4M285.0 449.4h1.4M281.5 426.4h1.4M286.8 443.2h1.4M290.1 453.3h1.4M285.4 444.2h1.4M296.7 445.2h1.4M304.1 441.7h1.4M273.5 450.8h1.4M278.3 451.5h1.4M291.2 451.2h1.4M295.2 450.2h1.4M308.2 445.6h1.4M291.4 443.8h1.4M285.0 447.5h1.4M283.3 442.6h1.4M289.9 453.5h1.4M291.6 446.0h1.4M289.4 447.4h1.4M286.4 451.1h1.4M289.3 452.6h1.4M284.9 442.9h1.4M283.5 446.0h1.4M277.1 445.7h1.4M292.6 447.1h1.4M291.4 443.4h1.4M283.5 449.1h1.4M294.4 442.3h1.4M296.4 448.3h1.4M285.8 444.7h1.4M304.9 447.8h1.4M288.2 448.5h1.4M296.2 442.5h1.4M293.1 446.9h1.4M287.2 438.2h1.4M291.3 451.2h1.4M278.0 445.4h1.4M290.1 444.3h1.4M273.2 456.0h1.4M286.5 440.3h1.4M275.8 450.2h1.4M281.5 447.4h1.4M285.5 452.5h1.4M289.4 449.5h1.4M292.8 444.1h1.4M296.6 455.4h1.4M297.9 440.0h1.4M298.1 453.6h1.4M278.9 448.4h1.4M294.2 460.0h1.4M284.9 446.9h1.4M285.6 448.3h1.4M291.1 451.8h1.4M283.1 452.7h1.4M281.7 453.6h1.4M291.3 440.7h1.4M287.5 452.0h1.4M282.2 451.5h1.4M288.7 447.8h1.4M286.6 447.5h1.4M281.2 461.6h1.4M291.5 445.4h1.4M292.0 438.4h1.4M286.5 447.9h1.4M292.4 455.6h1.4M290.3 451.9h1.4M281.7 451.1h1.4M300.8 455.4h1.4M290.5 444.2h1.4M293.4 447.1h1.4M283.5 450.4h1.4M294.4 444.7h1.4M296.5 459.4h1.4M287.0 455.8h1.4M285.1 460.7h1.4M285.7 449.8h1.4M290.7 449.4h1.4M281.5 443.3h1.4M292.0 457.7h1.4M288.4 445.6h1.4M295.7 449.0h1.4M286.8 452.7h1.4M284.5 444.7h1.4M285.7 449.1h1.4M287.6 443.0h1.4M283.5 444.1h1.4M296.5 449.9h1.4M283.3 438.2h1.4M305.8 446.9h1.4M291.9 457.9h1.4M294.7 444.4h1.4M284.8 439.0h1.4M283.4 449.5h1.4M282.5 455.1h1.4M284.1 455.1h1.4M289.1 451.7h1.4M285.9 460.8h1.4M292.5 441.6h1.4M276.8 444.2h1.4M295.9 440.5h1.4M279.4 443.6h1.4M282.9 445.3h1.4M275.2 447.6h1.4M290.4 448.3h1.4M300.7 456.5h1.4M281.7 450.2h1.4M279.9 441.5h1.4M282.5 434.9h1.4M287.7 454.0h1.4M290.8 450.4h1.4M289.5 455.7h1.4M299.2 448.2h1.4M289.6 446.9h1.4M293.1 445.6h1.4M291.6 446.8h1.4M285.0 446.7h1.4M295.9 443.4h1.4M290.2 450.3h1.4M278.1 459.1h1.4M286.0 447.0h1.4M282.1 441.4h1.4M282.7 453.4h1.4M287.5 442.9h1.4M287.2 450.1h1.4M297.6 442.4h1.4M284.9 451.5h1.4M280.9 447.5h1.4M292.3 453.8h1.4M283.3 433.6h1.4M273.8 443.9h1.4M301.2 431.0h1.4M287.9 449.0h1.4M280.9 462.6h1.4M284.4 448.6h1.4M288.3 451.4h1.4M285.7 441.5h1.4M288.9 455.2h1.4M281.1 447.2h1.4M287.6 446.9h1.4M289.7 441.8h1.4M289.4 441.6h1.4M283.3 453.9h1.4M280.4 438.4h1.4M288.9 454.2h1.4M292.2 448.7h1.4M287.4 455.7h1.4M293.6 447.3h1.4M283.9 447.5h1.4M283.7 447.3h1.4M289.2 451.3h1.4M287.7 441.2h1.4M285.7 459.4h1.4M294.2 446.9h1.4M283.8 454.4h1.4M284.4 446.5h1.4M292.7 445.3h1.4M285.0 453.5h1.4M300.0 438.4h1.4M287.2 453.6h1.4M295.3 451.0h1.4M295.0 445.8h1.4M286.3 451.7h1.4M284.8 448.3h1.4M280.9 445.1h1.4M290.6 447.9h1.4M290.4 436.5h1.4M288.7 439.2h1.4M297.1 443.7h1.4M292.1 448.0h1.4M288.7 455.3h1.4M287.6 450.4h1.4M289.4 444.2h1.4M296.3 440.0h1.4M294.2 451.7h1.4M305.4 450.2h1.4M293.1 450.8h1.4M289.7 454.0h1.4M285.7 445.9h1.4M282.7 439.7h1.4M281.3 447.9h1.4M287.8 444.9h1.4M295.0 449.2h1.4M286.3 453.7h1.4M289.5 450.4h1.4M284.0 439.4h1.4M288.7 445.9h1.4M281.9 443.9h1.4M294.3 450.0h1.4M299.0 457.4h1.4M285.8 445.2h1.4M293.8 452.0h1.4M284.4 444.6h1.4M290.5 451.3h1.4M293.8 446.5h1.4M294.7 439.0h1.4M283.7 448.9h1.4M280.7 447.0h1.4M284.2 450.1h1.4M287.7 450.7h1.4M285.4 450.4h1.4M285.7 444.7h1.4M290.2 447.4h1.4M294.0 449.1h1.4M284.8 454.9h1.4M306.8 455.2h1.4M273.1 446.3h1.4M293.5 451.1h1.4M295.5 459.0h1.4M280.8 455.1h1.4M277.8 439.6h1.4M285.5 447.7h1.4M295.4 440.3h1.4M289.6 438.4h1.4M291.3 451.2h1.4M288.2 447.0h1.4M290.7 442.2h1.4M290.6 447.1h1.4M296.1 449.0h1.4M288.1 444.9h1.4M283.7 444.8h1.4M279.8 449.2h1.4M286.6 452.8h1.4M279.8 444.7h1.4M293.6 462.9h1.4M271.1 446.3h1.4M286.3 440.7h1.4M287.0 448.0h1.4M294.2 455.0h1.4M298.6 443.0h1.4M283.5 443.4h1.4M282.5 445.3h1.4M284.2 453.8h1.4M283.6 452.2h1.4M291.1 463.9h1.4M284.3 448.6h1.4M293.4 452.4h1.4M282.4 449.5h1.4M300.1 454.5h1.4M284.7 447.8h1.4M291.9 443.5h1.4M288.7 448.3h1.4M290.5 446.8h1.4M299.9 441.4h1.4M291.4 446.6h1.4M290.2 438.2h1.4M290.4 450.9h1.4M275.5 443.8h1.4M278.4 445.5h1.4M289.2 455.6h1.4M289.9 453.4h1.4M288.8 449.0h1.4M299.4 447.3h1.4" stroke="#c44553" stroke-width="1.4" fill="none"/>
<path d="M290.9 439.9h1.4M293.0 437.0h1.4M290.5 422.1h1.4M292.8 433.0h1.4M294.1 425.0h1.4M290.9 420.4h1.4M293.8 421.3h1.4M294.2 424.9h1.4M295.4 418.3h1.4M290.5 431.9h1.4M293.5 428.7h1.4M298.3 432.0h1.4M291.6 430.9h1.4M291.7 435.2h1.4M290.5 426.0h1.4M295.4 429.6h1.4M292.3 429.9h1.4M295.1 422.9h1.4M292.6 427.4h1.4M292.2 430.6h1.4M292.4 427.7h1.4M294.5 431.3h1.4M292.6 421.3h1.4M297.7 416.3h1.4M290.6 431.8h1.4M292.8 431.7h1.4M294.6 429.5h1.4M294.6 419.8h1.4M289.5 422.3h1.4M293.9 427.8h1.4M289.1 433.8h1.4M293.9 427.9h1.4M287.7 424.6h1.4M296.0 421.9h1.4M291.1 421.7h1.4M290.3 427.1h1.4M289.9 418.6h1.4M296.5 424.8h1.4M293.3 431.0h1.4M294.8 422.8h1.4" stroke="#9c5060" stroke-width="1.4" fill="none"/>
<path d="M297.4 454.6h1.4M294.2 456.2h1.4M302.2 456.7h1.4M299.2 454.9h1.4M295.0 457.6h1.4M302.8 454.2h1.4M304.5 446.7h1.4M294.4 453.3h1.4M301.5 454.2h1.4M302.5 455.1h1.4M305.0 454.2h1.4M303.0 452.0h1.4M303.9 449.4h1.4M301.6 451.6h1.4M298.8 454.4h1.4M300.8 455.9h1.4M305.1 456.8h1.4M303.9 450.7h1.4M296.0 459.7h1.4M297.5 458.9h1.4M302.7 454.1h1.4M313.0 460.3h1.4M304.5 455.7h1.4M293.4 458.5h1.4M302.2 455.6h1.4M301.6 453.3h1.4M305.2 450.6h1.4M296.9 457.8h1.4M306.6 454.7h1.4M294.3 451.1h1.4M294.9 451.8h1.4M304.3 452.1h1.4M304.8 449.3h1.4M303.5 446.4h1.4M306.7 446.0h1.4M297.5 451.1h1.4M292.6 457.3h1.4M304.7 453.9h1.4M300.9 454.5h1.4M300.1 453.9h1.4M303.4 454.4h1.4M300.9 457.6h1.4M298.9 454.3h1.4M297.0 456.7h1.4M300.2 451.5h1.4M291.8 454.6h1.4M292.3 457.7h1.4M306.1 448.7h1.4M297.4 453.9h1.4M299.9 449.3h1.4M298.3 450.6h1.4M298.3 454.4h1.4M305.6 451.7h1.4M300.3 456.8h1.4M296.4 456.8h1.4M287.3 457.9h1.4M301.2 455.1h1.4M307.8 454.2h1.4M299.0 456.9h1.4M298.3 452.7h1.4M305.8 457.2h1.4M305.6 450.9h1.4M302.5 456.1h1.4M291.7 449.2h1.4M299.6 448.1h1.4M294.7 450.7h1.4M300.6 453.8h1.4M290.7 453.3h1.4M301.2 451.9h1.4M307.4 446.6h1.4M306.5 453.8h1.4M297.1 455.9h1.4M300.5 456.7h1.4M301.5 451.2h1.4M307.7 454.9h1.4M293.7 456.0h1.4M298.9 451.5h1.4M315.2 448.6h1.4M303.9 454.8h1.4M307.9 447.9h1.4M303.9 455.6h1.4M298.4 449.7h1.4M297.7 454.0h1.4M297.4 460.7h1.4M293.2 459.9h1.4M302.2 453.6h1.4M304.0 448.1h1.4M299.1 458.5h1.4M303.5 451.4h1.4M307.1 453.1h1.4M299.6 450.7h1.4M291.6 458.2h1.4M300.5 450.6h1.4M287.7 454.9h1.4M308.8 446.1h1.4M299.9 453.3h1.4M297.8 451.3h1.4M300.7 456.9h1.4M287.0 459.7h1.4M304.6 452.2h1.4" stroke="#9c5060" stroke-width="1.4" fill="none"/>
<ellipse cx="307.1" cy="436" rx="10.3" ry="15" transform="rotate(15 307.1 436)" fill="#178ff3"/>
<path d="M316.4 433.8h1.4M297.4 447.1h1.4M316.1 437.0h1.4M304.9 424.4h1.4M303.4 427.5h1.4M313.5 442.7h1.4M312.0 425.1h1.4M298.0 431.9h1.4M299.0 431.9h1.4M306.7 441.8h1.4M297.1 432.3h1.4M314.9 427.2h1.4M298.6 432.0h1.4M310.1 430.2h1.4M301.6 428.4h1.4M315.0 440.1h1.4M315.7 439.8h1.4M301.0 448.7h1.4M311.8 446.4h1.4M310.9 443.2h1.4M310.5 438.6h1.4M299.6 429.1h1.4M312.8 441.4h1.4M311.2 430.8h1.4M298.9 428.9h1.4M315.6 432.2h1.4M316.5 429.8h1.4M303.6 435.9h1.4M311.5 428.2h1.4M301.8 446.8h1.4M297.2 439.5h1.4M299.7 430.4h1.4M313.3 446.4h1.4M312.4 433.2h1.4M315.3 430.3h1.4M306.4 422.3h1.4M298.4 426.8h1.4M296.9 433.3h1.4M313.4 443.7h1.4M299.7 448.3h1.4M301.8 444.6h1.4M298.9 446.4h1.4M309.9 447.1h1.4M302.0 434.7h1.4M306.8 444.3h1.4M313.8 426.0h1.4M310.4 447.3h1.4M312.2 442.2h1.4M297.4 434.3h1.4M306.6 422.2h1.4M296.4 441.4h1.4M300.6 429.4h1.4M297.0 441.4h1.4M304.9 423.3h1.4M301.7 447.2h1.4M313.9 425.0h1.4M318.0 428.9h1.4M315.3 435.7h1.4M303.0 424.3h1.4M305.3 428.7h1.4M307.5 446.4h1.4M308.4 448.5h1.4M304.5 426.6h1.4M310.1 441.6h1.4M297.1 444.3h1.4M313.5 423.5h1.4M309.2 446.7h1.4M304.9 424.1h1.4M314.2 438.7h1.4M316.2 435.3h1.4M315.1 437.8h1.4M310.3 428.7h1.4M312.3 439.1h1.4M306.5 431.3h1.4M300.2 429.4h1.4M308.2 424.9h1.4M298.7 440.3h1.4M304.7 444.7h1.4M309.5 446.5h1.4M313.7 443.9h1.4M300.8 427.6h1.4M311.9 441.3h1.4M301.9 431.1h1.4M315.0 440.2h1.4M313.0 423.3h1.4M316.7 435.3h1.4M300.5 429.6h1.4M314.7 425.4h1.4M303.5 431.8h1.4M306.1 449.5h1.4M302.7 432.4h1.4M302.5 446.7h1.4M306.1 429.9h1.4M309.2 447.6h1.4M298.4 441.1h1.4M298.2 441.5h1.4M298.2 444.7h1.4M316.3 437.2h1.4M298.3 441.5h1.4M299.2 442.2h1.4M312.9 430.9h1.4M297.5 434.4h1.4M314.2 445.3h1.4M295.6 443.8h1.4M313.7 441.6h1.4M314.7 440.4h1.4M299.8 443.2h1.4M303.3 426.3h1.4M300.7 426.7h1.4M313.3 432.5h1.4M306.8 445.4h1.4M306.5 446.3h1.4M311.2 422.6h1.4M297.6 444.7h1.4M302.0 424.2h1.4M298.4 429.8h1.4M313.6 428.0h1.4M298.6 430.9h1.4M296.5 444.3h1.4M301.0 429.4h1.4M304.8 446.6h1.4M313.8 431.4h1.4M305.8 445.4h1.4M308.7 425.0h1.4M303.0 436.0h1.4M302.5 444.1h1.4M308.7 448.2h1.4M302.2 436.0h1.4M305.9 422.2h1.4M303.6 452.0h1.4M304.3 445.5h1.4M301.0 424.6h1.4M303.6 448.9h1.4M314.2 439.4h1.4M315.8 428.6h1.4M316.4 437.6h1.4M309.2 446.5h1.4M315.2 439.6h1.4M297.3 449.8h1.4M314.3 431.1h1.4M311.2 444.2h1.4M306.2 423.5h1.4M309.5 432.2h1.4M299.3 444.0h1.4M296.6 434.7h1.4M298.1 433.5h1.4M314.3 440.7h1.4M298.6 436.5h1.4M311.4 436.6h1.4M298.4 446.1h1.4M314.2 441.9h1.4M303.7 426.8h1.4M301.6 425.8h1.4M313.8 422.7h1.4M309.3 448.3h1.4M309.3 447.9h1.4M310.3 421.1h1.4M301.9 422.5h1.4M311.8 443.9h1.4M310.7 436.9h1.4M309.5 423.5h1.4M307.3 421.4h1.4M308.7 446.4h1.4M310.9 421.2h1.4M310.5 422.2h1.4M307.3 447.2h1.4M297.0 444.8h1.4M309.4 421.8h1.4M299.9 441.1h1.4M300.7 446.2h1.4M311.9 444.8h1.4M310.4 426.9h1.4M312.0 445.7h1.4M304.9 448.6h1.4M311.2 444.5h1.4M298.5 446.6h1.4M314.5 440.1h1.4M303.5 423.9h1.4M313.2 427.6h1.4M303.2 428.0h1.4M305.9 446.2h1.4M305.5 449.8h1.4M303.4 448.8h1.4M318.3 433.9h1.4M303.4 442.4h1.4M296.4 436.1h1.4M311.3 446.0h1.4M314.9 430.4h1.4M302.8 428.3h1.4M299.1 438.8h1.4M304.8 422.8h1.4M305.3 441.9h1.4M316.6 436.0h1.4M310.8 423.2h1.4M301.5 441.6h1.4M296.2 441.4h1.4M298.4 430.7h1.4M308.2 448.0h1.4M314.0 429.4h1.4M310.8 444.9h1.4M310.4 433.3h1.4M297.8 439.5h1.4M305.0 423.1h1.4M298.4 433.3h1.4M314.6 433.9h1.4M311.9 444.3h1.4M295.3 438.1h1.4M300.4 445.6h1.4M303.5 436.6h1.4M303.7 423.6h1.4M307.2 447.5h1.4M315.5 437.8h1.4M316.2 429.1h1.4M298.1 445.6h1.4M315.5 440.4h1.4M311.0 422.6h1.4M312.6 434.3h1.4M305.1 425.4h1.4M309.3 438.1h1.4M302.0 447.5h1.4M300.1 432.3h1.4M305.5 426.3h1.4M304.7 447.9h1.4M305.7 429.2h1.4M306.8 445.7h1.4M312.0 423.8h1.4M298.3 431.1h1.4M311.0 437.5h1.4M312.4 436.1h1.4M312.3 429.0h1.4M311.1 423.5h1.4M301.2 447.9h1.4M314.9 438.4h1.4M297.9 438.9h1.4M299.4 436.0h1.4M300.7 428.6h1.4M316.1 427.6h1.4M302.3 444.0h1.4M316.8 434.2h1.4M310.9 424.6h1.4M296.5 435.5h1.4M306.6 445.3h1.4M310.3 423.7h1.4M312.2 445.7h1.4M308.3 447.8h1.4M311.5 434.3h1.4M307.7 426.3h1.4M300.5 430.9h1.4M311.9 423.4h1.4M305.2 443.0h1.4M311.0 448.5h1.4M298.1 441.5h1.4M307.1 426.1h1.4M307.5 422.4h1.4M301.2 429.8h1.4M297.8 436.8h1.4M303.1 427.2h1.4M310.0 440.6h1.4M314.8 441.0h1.4M304.3 428.2h1.4M312.2 423.3h1.4M298.0 435.4h1.4M308.7 446.2h1.4M315.8 432.3h1.4M315.8 439.3h1.4M317.4 435.4h1.4M297.4 430.7h1.4M313.4 435.5h1.4M299.6 444.7h1.4M310.1 425.6h1.4M299.6 446.3h1.4M314.2 443.6h1.4M300.9 426.4h1.4M309.9 447.3h1.4M304.6 420.8h1.4M304.9 445.3h1.4M306.2 449.9h1.4M296.5 433.5h1.4M303.3 429.3h1.4M296.8 436.1h1.4M299.9 428.0h1.4M301.5 443.2h1.4M308.6 450.1h1.4M312.1 420.2h1.4M312.5 442.4h1.4M302.2 441.3h1.4M303.8 447.9h1.4M297.6 442.8h1.4M306.9 428.7h1.4M311.2 422.3h1.4M302.3 433.2h1.4M306.8 440.6h1.4M300.9 444.2h1.4M314.1 446.0h1.4M295.6 442.0h1.4M302.2 442.6h1.4M303.2 423.4h1.4M305.4 449.6h1.4M310.0 424.6h1.4M308.0 420.8h1.4M301.3 439.6h1.4M308.3 447.3h1.4M297.3 437.2h1.4M309.6 428.4h1.4M312.9 439.3h1.4M303.7 446.7h1.4M309.7 447.3h1.4M300.6 427.7h1.4M299.2 435.7h1.4M298.1 445.5h1.4M302.7 423.3h1.4M311.9 437.4h1.4M314.9 436.6h1.4M315.8 429.2h1.4M312.2 426.0h1.4M312.9 437.2h1.4M314.9 443.5h1.4M308.6 443.1h1.4M315.9 434.0h1.4M302.0 437.4h1.4M316.3 439.2h1.4M306.3 451.2h1.4M311.2 421.9h1.4M299.9 432.4h1.4M310.8 436.5h1.4M310.0 421.1h1.4M307.6 447.5h1.4M313.7 439.8h1.4M314.8 432.6h1.4M302.9 443.4h1.4M311.0 442.2h1.4M298.5 448.3h1.4M297.3 434.7h1.4M310.3 445.4h1.4M299.5 433.2h1.4M307.5 449.7h1.4M313.9 430.1h1.4M307.4 446.9h1.4M301.1 443.8h1.4M302.3 431.5h1.4M302.0 428.0h1.4M304.4 444.5h1.4M313.4 430.4h1.4M300.9 439.8h1.4M314.3 440.3h1.4M298.4 430.9h1.4M303.0 424.5h1.4M306.7 428.6h1.4M300.6 448.3h1.4M295.9 441.7h1.4M305.0 446.5h1.4M299.0 442.9h1.4M296.9 440.4h1.4M299.9 439.2h1.4M301.9 425.0h1.4M299.7 444.3h1.4M315.4 428.4h1.4M301.4 426.5h1.4M309.9 448.8h1.4M297.4 430.6h1.4M300.7 444.4h1.4M315.2 429.3h1.4M309.8 423.9h1.4M310.9 445.5h1.4M305.3 424.7h1.4M304.6 439.8h1.4M313.4 434.5h1.4M303.4 425.5h1.4M317.4 430.9h1.4M302.2 424.6h1.4M316.3 435.7h1.4M309.4 437.7h1.4M316.3 431.5h1.4M297.8 442.1h1.4M298.0 438.3h1.4M303.9 423.8h1.4M299.9 441.5h1.4M297.5 446.1h1.4M310.4 439.2h1.4M303.8 427.5h1.4M301.1 448.2h1.4M300.8 448.1h1.4M310.2 427.9h1.4M312.3 434.7h1.4M298.3 429.0h1.4M307.2 448.2h1.4M312.9 435.8h1.4M308.8 425.3h1.4M299.3 440.6h1.4M304.2 447.8h1.4M307.2 449.8h1.4M304.3 445.3h1.4M301.4 432.3h1.4M311.7 425.4h1.4M309.9 445.2h1.4M313.4 442.2h1.4M310.5 440.7h1.4M300.0 442.9h1.4M301.7 443.0h1.4M299.7 429.1h1.4M295.4 442.4h1.4M314.8 428.8h1.4M312.9 424.7h1.4M300.2 443.9h1.4M311.9 441.3h1.4M295.8 440.4h1.4M309.0 430.4h1.4M309.1 441.0h1.4M298.9 443.8h1.4M311.6 447.2h1.4M312.9 439.6h1.4M310.6 421.0h1.4M310.4 424.2h1.4M316.1 427.4h1.4M299.9 428.4h1.4M302.4 449.8h1.4M312.3 435.6h1.4M304.0 424.9h1.4M300.3 427.1h1.4M307.8 445.6h1.4M313.1 441.6h1.4M306.4 427.6h1.4M312.6 427.8h1.4M316.2 432.1h1.4M312.7 424.3h1.4M312.1 430.0h1.4M301.2 448.8h1.4M310.2 444.1h1.4M311.7 440.0h1.4M310.6 422.7h1.4M305.6 424.8h1.4M309.0 443.6h1.4M297.8 438.6h1.4M308.9 422.6h1.4M309.8 427.2h1.4M300.1 429.3h1.4M316.5 426.7h1.4M303.6 436.1h1.4M296.4 439.2h1.4M309.3 424.2h1.4M302.2 442.8h1.4M313.3 427.5h1.4M306.0 442.4h1.4M312.6 443.0h1.4M310.8 428.5h1.4M302.0 450.9h1.4M315.3 427.1h1.4M299.3 429.9h1.4M298.6 438.2h1.4M312.6 435.5h1.4M308.1 425.5h1.4M306.4 427.6h1.4M303.5 446.1h1.4M299.5 430.7h1.4M315.8 426.2h1.4M299.9 431.7h1.4M314.4 443.7h1.4M312.6 443.8h1.4M303.3 449.2h1.4M307.7 424.3h1.4M316.4 435.7h1.4M311.6 421.7h1.4M302.7 423.9h1.4M303.2 449.7h1.4M304.7 421.9h1.4M314.3 439.9h1.4M298.1 441.6h1.4M307.7 449.2h1.4M301.7 449.9h1.4M297.1 440.7h1.4M301.4 444.2h1.4M301.8 427.5h1.4M315.0 437.6h1.4M302.7 425.7h1.4M298.7 430.6h1.4M310.5 429.0h1.4M305.1 442.1h1.4M307.7 425.1h1.4M297.4 444.6h1.4M313.0 421.9h1.4M297.3 436.0h1.4M312.8 421.2h1.4M300.0 448.3h1.4M309.9 448.0h1.4M300.6 443.8h1.4M305.8 449.8h1.4M314.8 426.9h1.4M315.1 441.9h1.4M317.6 432.6h1.4M298.4 435.0h1.4M302.3 434.1h1.4M307.8 425.9h1.4M303.7 444.2h1.4M310.7 426.7h1.4M299.4 437.7h1.4M302.8 429.3h1.4M300.5 438.1h1.4M300.6 432.5h1.4M308.2 449.3h1.4M304.3 423.7h1.4M304.7 448.0h1.4M310.9 431.9h1.4M310.8 424.8h1.4M296.5 436.8h1.4M314.2 437.5h1.4M313.3 432.9h1.4M315.2 424.5h1.4M315.6 429.8h1.4M307.3 435.1h1.4M311.5 449.4h1.4M311.7 422.6h1.4M304.0 426.0h1.4M310.2 445.1h1.4M298.1 431.3h1.4M309.2 445.3h1.4M316.1 437.1h1.4M313.2 428.7h1.4M297.3 441.7h1.4M299.1 431.9h1.4M299.2 443.4h1.4M299.0 442.0h1.4M314.9 435.1h1.4M303.0 424.0h1.4M317.6 428.7h1.4M310.7 446.5h1.4M312.5 424.1h1.4M314.8 429.8h1.4M302.1 427.2h1.4M301.8 433.6h1.4M298.2 441.6h1.4M304.3 448.7h1.4M307.6 448.9h1.4M300.9 442.0h1.4M316.1 435.9h1.4M310.9 427.0h1.4M306.7 444.5h1.4M308.6 446.6h1.4M317.8 431.9h1.4M314.8 425.5h1.4M314.4 433.8h1.4M297.0 445.3h1.4M302.6 442.7h1.4M313.8 432.1h1.4M312.3 425.2h1.4M309.2 425.7h1.4M311.4 445.1h1.4M300.7 425.6h1.4M297.4 438.5h1.4M315.2 428.5h1.4M311.1 424.0h1.4M300.3 427.0h1.4M311.1 442.2h1.4M299.6 450.0h1.4M314.2 437.7h1.4M295.9 436.4h1.4M302.7 425.1h1.4M308.7 425.0h1.4M306.7 451.1h1.4M304.3 422.6h1.4M309.2 422.5h1.4M299.9 427.0h1.4M310.6 444.3h1.4M311.2 438.7h1.4M300.4 447.7h1.4M302.7 426.1h1.4M302.0 432.9h1.4M313.1 434.6h1.4M305.7 428.1h1.4M298.7 436.5h1.4M303.7 448.4h1.4M312.5 447.9h1.4M314.7 441.1h1.4M297.2 446.6h1.4M300.5 434.1h1.4M306.3 423.3h1.4M298.8 442.7h1.4M297.9 431.5h1.4M300.3 449.4h1.4M309.7 425.7h1.4M297.8 436.4h1.4M300.8 436.9h1.4M306.5 422.2h1.4M315.2 431.0h1.4M308.1 449.8h1.4M302.3 426.8h1.4M305.7 444.1h1.4M315.4 435.6h1.4M300.9 442.5h1.4M296.7 435.7h1.4M311.8 442.6h1.4M312.4 436.7h1.4M305.9 429.1h1.4M307.7 422.4h1.4M303.7 425.1h1.4M298.6 440.6h1.4M304.6 434.1h1.4M316.2 439.7h1.4M306.7 449.1h1.4M307.4 440.2h1.4M298.6 438.5h1.4" stroke="#178ff3" stroke-width="1.4" fill="none"/>
<path d="M303.8 451.0h1.4M287.8 451.3h1.4M280.3 435.5h1.4M293.4 447.8h1.4M306.4 437.8h1.4M300.4 449.2h1.4M313.9 433.4h1.4M300.5 428.0h1.4M317.7 438.0h1.4M309.2 441.9h1.4M311.8 452.5h1.4M320.7 433.4h1.4M299.2 421.9h1.4M301.4 459.6h1.4M318.2 420.8h1.4M317.0 433.7h1.4M319.0 426.6h1.4M340.0 419.2h1.4M306.1 437.7h1.4M308.0 442.8h1.4M290.1 441.3h1.4M299.1 442.0h1.4M317.6 436.4h1.4M313.1 438.8h1.4M306.3 433.2h1.4M285.0 464.3h1.4M314.0 440.8h1.4M315.4 438.0h1.4M305.1 425.6h1.4M287.3 425.8h1.4M287.5 446.6h1.4M306.6 428.9h1.4M296.9 423.7h1.4M309.3 440.0h1.4M314.2 419.0h1.4M304.3 430.8h1.4M296.0 425.7h1.4M304.6 441.6h1.4M296.6 450.7h1.4M316.2 429.5h1.4M314.7 437.6h1.4M305.7 430.5h1.4M314.3 435.9h1.4M309.4 430.6h1.4M301.1 432.8h1.4M291.0 444.8h1.4M318.2 433.1h1.4M299.9 421.1h1.4M295.0 434.3h1.4M308.4 430.6h1.4M312.8 414.0h1.4M295.0 434.3h1.4M318.2 438.7h1.4M310.9 437.8h1.4M300.0 423.0h1.4M306.5 433.0h1.4M294.2 442.2h1.4M313.5 439.4h1.4M320.1 421.0h1.4M304.4 424.4h1.4" stroke="#3d7fcc" stroke-width="1.4" fill="none"/>
<path d="M267.6 439.2h1.4M266.1 456.5h1.4M274.8 466.6h1.4M286.3 479.6h1.4M300.7 407.5h1.4M323.8 439.2h1.4" stroke="#9c5060" stroke-width="1.4" fill="none"/>
<path d="M243 503v-4.8M243 380v4.8M243 503h4.8M365.5 503h-4.8M252.2 503v-2.4M252.2 380v2.4M243 493.7h2.4M365.5 493.7h-2.4M257.6 503v-2.4M257.6 380v2.4M243 488.3h2.4M365.5 488.3h-2.4M261.4 503v-2.4M261.4 380v2.4M243 484.5h2.4M365.5 484.5h-2.4M264.4 503v-2.4M264.4 380v2.4M243 481.5h2.4M365.5 481.5h-2.4M266.8 503v-2.4M266.8 380v2.4M243 479.1h2.4M365.5 479.1h-2.4M268.9 503v-2.4M268.9 380v2.4M243 477h2.4M365.5 477h-2.4M270.7 503v-2.4M270.7 380v2.4M243 475.2h2.4M365.5 475.2h-2.4M272.2 503v-2.4M272.2 380v2.4M243 473.7h2.4M365.5 473.7h-2.4M273.6 503v-4.8M273.6 380v4.8M243 472.2h4.8M365.5 472.2h-4.8M282.8 503v-2.4M282.8 380v2.4M243 463h2.4M365.5 463h-2.4M288.2 503v-2.4M288.2 380v2.4M243 457.6h2.4M365.5 457.6h-2.4M292.1 503v-2.4M292.1 380v2.4M243 453.7h2.4M365.5 453.7h-2.4M295 503v-2.4M295 380v2.4M243 450.8h2.4M365.5 450.8h-2.4M297.5 503v-2.4M297.5 380v2.4M243 448.3h2.4M365.5 448.3h-2.4M299.5 503v-2.4M299.5 380v2.4M243 446.3h2.4M365.5 446.3h-2.4M301.3 503v-2.4M301.3 380v2.4M243 444.5h2.4M365.5 444.5h-2.4M302.8 503v-2.4M302.8 380v2.4M243 442.9h2.4M365.5 442.9h-2.4M304.2 503v-4.8M304.2 380v4.8M243 441.5h4.8M365.5 441.5h-4.8M313.5 503v-2.4M313.5 380v2.4M243 432.2h2.4M365.5 432.2h-2.4M318.9 503v-2.4M318.9 380v2.4M243 426.8h2.4M365.5 426.8h-2.4M322.7 503v-2.4M322.7 380v2.4M243 423h2.4M365.5 423h-2.4M325.7 503v-2.4M325.7 380v2.4M243 420h2.4M365.5 420h-2.4M328.1 503v-2.4M328.1 380v2.4M243 417.6h2.4M365.5 417.6h-2.4M330.1 503v-2.4M330.1 380v2.4M243 415.5h2.4M365.5 415.5h-2.4M331.9 503v-2.4M331.9 380v2.4M243 413.7h2.4M365.5 413.7h-2.4M333.5 503v-2.4M333.5 380v2.4M243 412.2h2.4M365.5 412.2h-2.4M334.9 503v-4.8M334.9 380v4.8M243 410.8h4.8M365.5 410.8h-4.8M344.1 503v-2.4M344.1 380v2.4M243 401.5h2.4M365.5 401.5h-2.4M349.5 503v-2.4M349.5 380v2.4M243 396.1h2.4M365.5 396.1h-2.4M353.3 503v-2.4M353.3 380v2.4M243 392.2h2.4M365.5 392.2h-2.4M356.3 503v-2.4M356.3 380v2.4M243 389.3h2.4M365.5 389.3h-2.4M358.7 503v-2.4M358.7 380v2.4M243 386.8h2.4M365.5 386.8h-2.4M360.8 503v-2.4M360.8 380v2.4M243 384.8h2.4M365.5 384.8h-2.4M362.5 503v-2.4M362.5 380v2.4M243 383h2.4M365.5 383h-2.4M364.1 503v-2.4M364.1 380v2.4M243 381.4h2.4M365.5 381.4h-2.4" stroke="#000" stroke-width="1.1" fill="none"/>
<path d="M243 503V380H365.5" stroke="#000" stroke-width="2" fill="none"/>
<path d="M365.5 379.5V503H242" stroke="#000" stroke-width="1.5" fill="none"/>
<text x="243" y="510.3" class="tl" text-anchor="middle">10<tspan class="sp" dy="-2.2">0</tspan></text>
<text x="242.2" y="505.4" class="tl" text-anchor="end">10<tspan class="sp" dy="-2.2">0</tspan></text>
<text x="273.6" y="510.3" class="tl" text-anchor="middle">10<tspan class="sp" dy="-2.2">1</tspan></text>
<text x="242.2" y="474.6" class="tl" text-anchor="end">10<tspan class="sp" dy="-2.2">1</tspan></text>
<text x="304.2" y="510.3" class="tl" text-anchor="middle">10<tspan class="sp" dy="-2.2">2</tspan></text>
<text x="242.2" y="443.9" class="tl" text-anchor="end">10<tspan class="sp" dy="-2.2">2</tspan></text>
<text x="334.9" y="510.3" class="tl" text-anchor="middle">10<tspan class="sp" dy="-2.2">3</tspan></text>
<text x="242.2" y="413.1" class="tl" text-anchor="end">10<tspan class="sp" dy="-2.2">3</tspan></text>
<text x="365.5" y="510.3" class="tl" text-anchor="middle">10<tspan class="sp" dy="-2.2">4</tspan></text>
<text x="242.2" y="382.4" class="tl" text-anchor="end">10<tspan class="sp" dy="-2.2">4</tspan></text>
<text x="363.7" y="396.6" class="num" text-anchor="end">21</text>
<text x="246.5" y="499.9" class="num">6</text>
<text x="363.7" y="499.9" class="num" text-anchor="end">73</text><path d="M437.5 380.7V504.4" stroke="#727272" stroke-width="1" fill="none"/>
<path d="M392.5 433.5H515" stroke="#7c7c7c" stroke-width="1" fill="none"/>
<path d="M431.7 449.3h1.4M430.0 457.5h1.4M428.3 456.0h1.4M435.1 455.6h1.4M432.7 470.1h1.4M423.5 458.4h1.4M425.7 471.8h1.4M427.1 453.4h1.4M429.2 462.8h1.4M433.8 455.9h1.4M416.6 457.6h1.4M433.7 458.3h1.4M433.7 452.2h1.4M435.1 456.9h1.4M433.3 462.7h1.4M413.7 467.8h1.4M435.2 453.2h1.4M439.0 462.5h1.4M435.9 470.6h1.4M427.6 450.1h1.4M421.9 462.7h1.4M425.0 458.4h1.4M435.1 450.2h1.4M457.2 462.6h1.4M425.0 455.2h1.4M434.1 460.1h1.4M433.5 456.2h1.4M436.8 468.4h1.4M441.9 466.5h1.4M439.9 463.6h1.4M425.5 444.9h1.4M442.3 468.4h1.4M426.4 467.7h1.4M441.7 450.0h1.4M427.3 462.1h1.4M417.2 457.9h1.4M426.0 457.9h1.4M426.5 443.5h1.4M419.0 469.9h1.4M429.5 454.3h1.4M446.4 466.4h1.4M416.9 459.1h1.4M438.2 457.8h1.4M428.0 461.9h1.4M424.8 460.7h1.4M437.9 474.7h1.4M437.0 463.6h1.4M431.0 462.2h1.4M411.1 459.1h1.4M435.9 464.9h1.4M414.2 454.8h1.4M424.2 472.5h1.4M424.6 445.4h1.4M427.7 453.3h1.4M432.2 474.8h1.4M428.9 454.6h1.4M433.8 461.0h1.4M429.7 448.9h1.4M418.5 459.1h1.4M428.2 464.1h1.4M440.7 456.6h1.4M430.5 469.1h1.4M438.8 466.7h1.4M437.8 444.7h1.4M425.0 455.3h1.4M427.1 453.8h1.4M431.0 467.4h1.4M437.0 469.2h1.4M436.2 468.2h1.4M434.2 462.4h1.4M430.2 461.3h1.4M431.7 454.6h1.4M440.9 464.1h1.4M431.7 439.0h1.4M428.4 467.6h1.4M439.2 454.6h1.4M442.6 452.7h1.4M422.8 459.3h1.4M420.4 465.8h1.4M418.4 465.4h1.4" stroke="#9c5060" stroke-width="1.4" fill="none"/>
<path d="M422.4 458.2h1.4M434.7 460.4h1.4M432.0 452.3h1.4M425.5 449.8h1.4M431.0 451.5h1.4M437.1 457.8h1.4M436.3 451.8h1.4M434.2 457.6h1.4M422.6 456.9h1.4M432.7 459.6h1.4M428.3 458.0h1.4M441.1 455.0h1.4M428.3 450.3h1.4M424.2 461.0h1.4M433.1 451.3h1.4M425.2 453.3h1.4M431.0 455.9h1.4M420.7 452.0h1.4M432.8 454.0h1.4M437.6 461.1h1.4M439.4 456.1h1.4M423.5 464.2h1.4M433.1 459.2h1.4M419.6 446.9h1.4M432.7 455.7h1.4M440.1 449.5h1.4M427.7 456.3h1.4M426.7 457.5h1.4M435.3 456.3h1.4M440.4 463.4h1.4M431.8 451.8h1.4M433.0 459.1h1.4M424.0 450.2h1.4M435.7 459.2h1.4M428.9 458.3h1.4M421.9 457.6h1.4M429.4 458.9h1.4M430.5 451.3h1.4M425.6 453.4h1.4M432.5 460.7h1.4M437.2 457.2h1.4M430.2 452.2h1.4M425.4 460.9h1.4M434.6 446.5h1.4M427.7 461.9h1.4M428.4 454.9h1.4M421.9 454.1h1.4M422.9 459.4h1.4M425.3 461.0h1.4M434.5 459.0h1.4M433.6 464.7h1.4M430.4 458.6h1.4M437.0 459.4h1.4M426.8 456.3h1.4M425.4 460.6h1.4M427.4 462.2h1.4M433.7 451.6h1.4M421.4 459.0h1.4M425.9 455.6h1.4M431.0 454.0h1.4M423.2 463.6h1.4M433.1 462.5h1.4M441.8 461.3h1.4M425.9 465.2h1.4M436.4 461.9h1.4M425.0 472.0h1.4M435.9 454.0h1.4M428.9 452.4h1.4M429.1 469.4h1.4M426.3 447.6h1.4M429.2 463.9h1.4M438.3 467.3h1.4M417.9 455.3h1.4M435.2 465.9h1.4M426.5 460.6h1.4M432.8 458.3h1.4M430.7 463.3h1.4M432.8 459.6h1.4M423.1 464.6h1.4M443.6 457.4h1.4M430.3 455.4h1.4M433.0 448.7h1.4M435.5 461.4h1.4M430.0 453.6h1.4M421.9 458.0h1.4M437.4 454.2h1.4M427.4 467.7h1.4M431.4 463.3h1.4M437.1 449.9h1.4M434.2 451.8h1.4M440.4 455.6h1.4M429.5 461.8h1.4M427.7 466.9h1.4M424.3 456.4h1.4M432.9 452.6h1.4M421.2 464.3h1.4M428.8 454.9h1.4M425.2 455.3h1.4M430.9 453.3h1.4M421.2 454.6h1.4M431.6 462.3h1.4M429.5 459.4h1.4M432.2 453.9h1.4M428.5 450.8h1.4M433.7 460.5h1.4M438.3 457.1h1.4M434.1 455.4h1.4M427.6 465.1h1.4M434.3 468.7h1.4M422.4 465.1h1.4M437.6 458.3h1.4M439.0 453.9h1.4M431.5 458.2h1.4M429.1 451.2h1.4M429.8 454.1h1.4M423.6 462.2h1.4M424.2 459.0h1.4M443.4 461.8h1.4M426.5 458.0h1.4M428.2 454.4h1.4M433.0 461.6h1.4M438.5 465.5h1.4M430.4 455.0h1.4M445.5 452.5h1.4M416.7 451.8h1.4M419.5 448.3h1.4M440.2 444.2h1.4M429.0 470.9h1.4M434.4 451.2h1.4M436.6 457.4h1.4M431.7 454.1h1.4M427.2 448.3h1.4M440.7 445.4h1.4M445.0 460.8h1.4M433.0 453.9h1.4M426.3 458.9h1.4M439.1 457.4h1.4M429.8 447.9h1.4M429.9 462.8h1.4M438.1 459.7h1.4M447.1 460.9h1.4M425.1 473.3h1.4M431.7 460.3h1.4M423.9 456.0h1.4M428.8 453.8h1.4M444.1 462.3h1.4M441.4 453.2h1.4M439.1 468.1h1.4M432.6 455.9h1.4M447.3 455.7h1.4M436.3 456.2h1.4M445.8 452.7h1.4M420.4 460.2h1.4M437.8 459.6h1.4M429.5 455.7h1.4M424.7 461.6h1.4M440.6 456.8h1.4M421.1 465.5h1.4M434.5 468.3h1.4M415.8 456.0h1.4M426.9 457.7h1.4M422.9 459.7h1.4M428.7 441.4h1.4M443.7 446.4h1.4M428.7 461.5h1.4M414.2 463.4h1.4M427.8 467.1h1.4M438.5 465.0h1.4M432.0 455.9h1.4M433.0 467.9h1.4M429.3 456.9h1.4M413.3 458.1h1.4M430.3 459.8h1.4M431.9 455.4h1.4M429.9 446.5h1.4M429.8 448.6h1.4M426.8 463.7h1.4M430.0 460.0h1.4M443.5 468.7h1.4M429.4 453.2h1.4M424.9 451.2h1.4M436.9 460.7h1.4M419.7 461.9h1.4M429.0 451.9h1.4M427.4 461.0h1.4M431.7 463.3h1.4M432.1 463.5h1.4M436.4 456.9h1.4M423.8 462.3h1.4M432.8 452.7h1.4M432.2 450.7h1.4M426.3 459.8h1.4M428.1 456.2h1.4M422.8 453.2h1.4M433.4 453.8h1.4M428.9 451.4h1.4M427.4 450.1h1.4M427.6 453.8h1.4M432.1 473.4h1.4M431.9 464.8h1.4M436.3 461.9h1.4M440.5 456.2h1.4M437.1 464.1h1.4M434.5 454.7h1.4M433.1 451.6h1.4M427.4 463.0h1.4M430.4 456.2h1.4M425.7 466.8h1.4M431.6 450.6h1.4M430.1 458.5h1.4M434.4 455.7h1.4M424.5 458.8h1.4M438.6 459.4h1.4M437.1 451.3h1.4M429.2 474.4h1.4M422.5 460.7h1.4M429.7 463.8h1.4M416.2 460.8h1.4M426.5 450.5h1.4M423.8 466.5h1.4M421.1 457.7h1.4M426.3 456.5h1.4M436.1 452.3h1.4M427.2 457.1h1.4M431.8 447.5h1.4M438.8 458.6h1.4M410.9 455.6h1.4M427.7 452.5h1.4M431.3 468.5h1.4M429.0 459.9h1.4M428.6 461.9h1.4M434.4 464.5h1.4M430.9 454.0h1.4M435.2 458.1h1.4M425.2 467.1h1.4M424.8 460.4h1.4M422.8 456.2h1.4M421.3 464.8h1.4M432.1 458.7h1.4M425.8 460.2h1.4M432.2 467.5h1.4M424.9 461.8h1.4M433.6 448.4h1.4M428.2 450.7h1.4M429.2 452.7h1.4M433.3 461.5h1.4M439.6 457.9h1.4M440.4 452.2h1.4M443.9 454.7h1.4M430.8 451.7h1.4M428.9 452.0h1.4M431.9 453.2h1.4M438.9 461.1h1.4M438.5 454.7h1.4M426.5 460.2h1.4M435.3 455.3h1.4M422.5 458.2h1.4M432.5 458.8h1.4M429.6 458.2h1.4M424.9 456.9h1.4M427.7 462.1h1.4M437.7 465.9h1.4M425.6 455.0h1.4M432.3 457.1h1.4M424.4 453.9h1.4M430.6 461.9h1.4M450.3 468.9h1.4M424.2 465.9h1.4M432.4 455.3h1.4M429.3 448.7h1.4M422.6 464.9h1.4M446.7 457.4h1.4M426.4 458.4h1.4M438.1 458.0h1.4M435.2 466.5h1.4M425.2 447.6h1.4M432.9 471.0h1.4M424.9 458.0h1.4M442.7 452.4h1.4M423.7 451.7h1.4M427.8 454.7h1.4M432.4 448.7h1.4M420.4 466.9h1.4M427.4 453.9h1.4M433.6 462.0h1.4M426.1 459.3h1.4M425.3 446.9h1.4M431.5 451.4h1.4M429.5 452.4h1.4M435.8 460.1h1.4M415.7 457.4h1.4M429.0 458.4h1.4M432.6 457.5h1.4M435.2 453.4h1.4M437.8 470.0h1.4M431.3 449.0h1.4M441.8 441.8h1.4M433.6 456.6h1.4M434.8 453.5h1.4M424.6 455.2h1.4M439.3 460.9h1.4M434.3 470.5h1.4M429.5 448.2h1.4M433.4 449.9h1.4M429.6 464.1h1.4M424.1 465.1h1.4M426.0 450.6h1.4M427.0 467.0h1.4M435.8 451.4h1.4M434.7 460.2h1.4M439.6 468.4h1.4M428.3 467.3h1.4M437.3 464.2h1.4M422.5 449.9h1.4M429.0 459.5h1.4M421.2 465.8h1.4M439.2 456.8h1.4M435.4 466.4h1.4M430.0 457.5h1.4M417.8 448.1h1.4M428.1 460.9h1.4M432.5 461.5h1.4M436.6 463.8h1.4M433.7 464.0h1.4M426.9 461.4h1.4M421.2 459.1h1.4M425.2 463.4h1.4M438.3 452.1h1.4M442.5 454.8h1.4M426.0 463.1h1.4M435.9 454.2h1.4M431.9 463.6h1.4M428.0 467.7h1.4M437.9 451.3h1.4M435.0 451.5h1.4M426.3 449.6h1.4M429.5 443.4h1.4M430.9 453.5h1.4M435.5 466.3h1.4M434.3 458.6h1.4M426.9 467.6h1.4M422.9 448.0h1.4M424.5 453.9h1.4M447.8 459.8h1.4M437.1 456.4h1.4M424.9 462.4h1.4M434.5 451.2h1.4M420.9 460.9h1.4M422.0 456.7h1.4M424.1 453.5h1.4M433.0 463.3h1.4M435.2 459.0h1.4M431.4 452.9h1.4M430.8 470.1h1.4M431.0 453.9h1.4M427.5 455.1h1.4M439.0 458.5h1.4M432.0 456.3h1.4M427.9 459.5h1.4M427.5 459.1h1.4M418.4 454.0h1.4M433.3 459.1h1.4M426.7 459.2h1.4M428.2 454.1h1.4M429.8 449.7h1.4M426.7 464.2h1.4M431.6 449.5h1.4M422.4 460.5h1.4M421.3 437.8h1.4M430.8 455.4h1.4M435.6 460.7h1.4M447.0 456.6h1.4M422.2 454.9h1.4M418.5 458.9h1.4M435.5 453.5h1.4M430.6 455.6h1.4M415.2 468.6h1.4M442.1 464.7h1.4M429.6 449.2h1.4M428.3 456.5h1.4M435.8 463.7h1.4M433.6 459.8h1.4M426.2 461.3h1.4M439.2 458.4h1.4M426.1 447.0h1.4M435.2 451.2h1.4M423.7 450.8h1.4M432.0 467.3h1.4M430.8 457.5h1.4M423.6 471.2h1.4M429.9 459.1h1.4M429.0 452.7h1.4M435.1 466.5h1.4M429.8 449.9h1.4M435.9 454.7h1.4M432.8 458.5h1.4M439.6 458.6h1.4M439.1 455.8h1.4M439.8 458.2h1.4M424.1 459.2h1.4M433.8 446.1h1.4M445.4 458.2h1.4M414.5 463.5h1.4M427.1 448.4h1.4M432.5 456.6h1.4M426.6 459.3h1.4M429.2 447.8h1.4M427.0 453.7h1.4M433.8 461.4h1.4M439.9 460.3h1.4M421.5 456.2h1.4M430.8 465.0h1.4M432.6 457.6h1.4M433.7 461.1h1.4M425.4 462.5h1.4M425.8 458.0h1.4M434.0 463.0h1.4M426.9 459.0h1.4M438.1 461.0h1.4M429.5 455.0h1.4M427.5 457.8h1.4M428.6 445.5h1.4M423.3 458.4h1.4M432.4 462.2h1.4M433.1 457.6h1.4M430.0 470.1h1.4M413.3 457.4h1.4M425.0 448.4h1.4M435.1 457.7h1.4M438.5 465.0h1.4M425.6 468.5h1.4M430.2 451.7h1.4M430.0 468.9h1.4M439.9 459.8h1.4M433.9 461.7h1.4M429.2 463.2h1.4M420.0 468.4h1.4M444.0 465.0h1.4M432.1 447.0h1.4M433.3 456.5h1.4M423.4 454.8h1.4M419.7 457.0h1.4M431.9 461.3h1.4M433.8 462.9h1.4M434.4 469.6h1.4M429.3 469.8h1.4M428.9 447.7h1.4M428.2 460.9h1.4M430.4 450.9h1.4M432.7 453.2h1.4M426.2 464.9h1.4M421.3 457.1h1.4M431.2 447.2h1.4M428.9 457.0h1.4M440.7 458.9h1.4M419.7 456.4h1.4M423.5 462.9h1.4M433.5 459.6h1.4M430.2 461.7h1.4M431.0 445.7h1.4M440.7 453.0h1.4M430.4 450.3h1.4M419.8 457.4h1.4M437.2 460.5h1.4M435.8 457.3h1.4M428.3 452.4h1.4M416.2 456.8h1.4M434.8 455.1h1.4M425.7 454.9h1.4M430.1 454.2h1.4M431.0 461.4h1.4M433.2 452.2h1.4M436.7 462.2h1.4M429.9 463.5h1.4M425.5 464.4h1.4M432.8 456.4h1.4M431.0 454.8h1.4M429.2 457.0h1.4M444.2 450.8h1.4M424.9 461.5h1.4M436.1 459.7h1.4M439.5 469.9h1.4M419.9 467.3h1.4M430.5 463.1h1.4M429.8 461.7h1.4M425.9 458.8h1.4M434.2 453.6h1.4M425.3 459.8h1.4M427.5 448.8h1.4M426.7 455.3h1.4M426.0 461.8h1.4M431.4 441.1h1.4M422.0 448.5h1.4M429.2 458.5h1.4M435.7 463.2h1.4M426.0 458.8h1.4M429.7 458.4h1.4M425.7 454.3h1.4M429.4 464.3h1.4M432.5 457.2h1.4M424.2 455.6h1.4M424.3 460.1h1.4M433.5 459.5h1.4M433.6 449.4h1.4M426.4 457.8h1.4M435.4 460.0h1.4M420.5 460.8h1.4M431.5 460.5h1.4M429.1 459.6h1.4M438.4 458.0h1.4M437.1 458.2h1.4M422.3 460.6h1.4M426.7 455.6h1.4M433.4 456.0h1.4M422.1 455.8h1.4M420.1 466.4h1.4M432.4 461.9h1.4M432.6 462.3h1.4M438.4 450.2h1.4M426.6 451.8h1.4M440.7 462.4h1.4M433.4 449.5h1.4M440.9 462.7h1.4M428.0 456.2h1.4M423.9 456.1h1.4M426.5 463.8h1.4M436.2 448.7h1.4M435.9 457.3h1.4M422.7 439.3h1.4M425.6 466.9h1.4M426.1 461.6h1.4M444.5 458.9h1.4M428.4 452.7h1.4M439.4 459.1h1.4M425.0 462.0h1.4M432.8 459.5h1.4M433.6 460.6h1.4M429.9 457.3h1.4M439.0 470.5h1.4M439.1 442.9h1.4M429.3 463.6h1.4M434.6 446.1h1.4M439.9 444.9h1.4M432.4 459.0h1.4M438.9 449.7h1.4M431.0 455.3h1.4M437.5 461.3h1.4M432.3 457.9h1.4M430.8 454.1h1.4M418.9 464.3h1.4M421.3 456.2h1.4M428.5 461.3h1.4M426.4 451.4h1.4M431.4 468.8h1.4M427.3 463.2h1.4M435.1 449.8h1.4M432.0 456.9h1.4M424.5 452.4h1.4M434.5 456.4h1.4M438.4 452.4h1.4M420.4 464.2h1.4M427.4 461.9h1.4M427.4 455.3h1.4M443.5 448.8h1.4M431.5 450.1h1.4M424.4 453.5h1.4M439.3 457.1h1.4M422.2 452.6h1.4M445.2 452.6h1.4M431.5 455.9h1.4M424.3 460.9h1.4M427.0 453.3h1.4M432.5 464.0h1.4M428.5 458.4h1.4M432.7 451.2h1.4M432.9 458.7h1.4M432.7 455.4h1.4M429.1 458.8h1.4M434.8 453.7h1.4M422.1 458.1h1.4M439.2 445.6h1.4M425.3 460.7h1.4M433.4 458.8h1.4M427.4 459.8h1.4M431.0 466.1h1.4M431.0 465.2h1.4M428.1 456.6h1.4M428.1 455.2h1.4M440.1 444.1h1.4M437.6 466.0h1.4M443.4 460.7h1.4M432.1 461.4h1.4M427.9 453.1h1.4M431.0 448.5h1.4M429.0 456.7h1.4M419.7 454.1h1.4M428.7 463.7h1.4M434.1 453.9h1.4M425.9 458.0h1.4M420.8 460.2h1.4M436.7 456.9h1.4M428.3 463.8h1.4M436.7 463.2h1.4M426.7 445.5h1.4M423.0 456.4h1.4M425.7 461.5h1.4M424.8 461.0h1.4M430.0 463.3h1.4M442.1 462.8h1.4M424.2 451.4h1.4M434.0 454.5h1.4M439.3 460.8h1.4M436.4 441.8h1.4M426.9 456.8h1.4M430.0 461.8h1.4M440.5 458.0h1.4M425.7 454.2h1.4M430.6 455.5h1.4M429.5 465.1h1.4M430.9 458.8h1.4M436.0 458.1h1.4M423.2 468.5h1.4M436.9 458.0h1.4M434.7 460.7h1.4M426.3 451.2h1.4M430.3 447.9h1.4M438.4 469.2h1.4M434.5 458.4h1.4M433.8 456.3h1.4M442.7 466.4h1.4M435.7 453.3h1.4M425.3 471.3h1.4M424.4 454.5h1.4M427.9 459.4h1.4M437.8 458.2h1.4M433.2 455.2h1.4M433.2 457.8h1.4M436.3 455.8h1.4M437.2 455.4h1.4M424.0 449.7h1.4M428.9 465.7h1.4M430.0 460.0h1.4M419.4 444.6h1.4M435.8 456.9h1.4M429.7 454.0h1.4M424.2 459.8h1.4M439.2 455.5h1.4M426.8 456.6h1.4M433.7 455.0h1.4M439.1 447.7h1.4M434.1 460.1h1.4M422.7 458.7h1.4M433.5 456.5h1.4M427.4 457.5h1.4M430.0 459.4h1.4M421.5 463.9h1.4M437.3 458.5h1.4M425.3 459.1h1.4M417.5 456.5h1.4M433.4 463.4h1.4M429.7 458.6h1.4M436.6 450.4h1.4M438.0 463.3h1.4M431.7 456.2h1.4M431.7 451.6h1.4M430.7 452.6h1.4M426.2 448.6h1.4M430.1 457.6h1.4M425.0 449.6h1.4M433.9 457.9h1.4M427.9 454.7h1.4M429.1 454.7h1.4M434.8 456.1h1.4M430.6 454.4h1.4M427.4 446.6h1.4M438.0 455.6h1.4M437.0 465.8h1.4M426.6 460.6h1.4M428.0 461.8h1.4M424.7 459.9h1.4M434.3 460.2h1.4M433.9 471.1h1.4M434.5 454.3h1.4M438.9 453.3h1.4M425.3 450.0h1.4M426.9 459.6h1.4M428.6 454.2h1.4M432.3 446.9h1.4M422.8 465.9h1.4M442.8 463.0h1.4M426.8 455.5h1.4M436.9 458.2h1.4M428.7 457.1h1.4M423.8 450.4h1.4M436.0 468.4h1.4M426.8 453.2h1.4M441.4 463.2h1.4M420.3 459.5h1.4M430.7 455.1h1.4M439.2 465.9h1.4M437.8 456.5h1.4M440.5 464.2h1.4M425.7 452.9h1.4M428.5 448.9h1.4M428.5 449.9h1.4M435.4 458.0h1.4M435.3 457.6h1.4M427.5 454.0h1.4M429.8 454.5h1.4M434.9 466.7h1.4M421.9 464.3h1.4M425.2 447.4h1.4M436.9 463.3h1.4M428.4 458.8h1.4M425.7 450.8h1.4M432.7 468.9h1.4M419.4 459.8h1.4M431.5 457.5h1.4M431.1 455.4h1.4M430.0 440.7h1.4M428.2 455.2h1.4M429.8 458.6h1.4M433.6 454.0h1.4M436.6 456.0h1.4M421.9 455.1h1.4M433.2 446.7h1.4M426.2 455.3h1.4M441.5 456.2h1.4M441.4 473.5h1.4M424.2 461.0h1.4M432.1 449.5h1.4M436.3 458.0h1.4M431.0 463.8h1.4M428.9 453.6h1.4M433.5 459.8h1.4M429.2 460.2h1.4M440.6 457.1h1.4M432.6 458.0h1.4M438.1 466.1h1.4M436.5 461.4h1.4M423.6 461.4h1.4M441.5 459.1h1.4M436.0 455.3h1.4M426.4 461.4h1.4M438.3 462.5h1.4M430.5 455.7h1.4M430.6 461.0h1.4M436.8 454.4h1.4M433.4 452.8h1.4M438.0 453.7h1.4M430.0 466.2h1.4M434.2 452.7h1.4M438.0 452.9h1.4M438.2 449.6h1.4M421.7 453.7h1.4M423.2 460.9h1.4M426.9 456.9h1.4M426.0 463.7h1.4M426.6 468.7h1.4M451.3 459.6h1.4M420.4 461.1h1.4M434.7 460.1h1.4M422.5 461.4h1.4M434.5 443.4h1.4M436.7 461.6h1.4M437.1 446.5h1.4M427.9 449.6h1.4M432.7 456.1h1.4M430.7 457.1h1.4M428.6 465.9h1.4M433.0 457.5h1.4M431.5 467.4h1.4M430.0 446.5h1.4M425.5 466.6h1.4M432.3 460.2h1.4M434.1 462.1h1.4M427.6 463.8h1.4M424.8 460.0h1.4M432.6 460.0h1.4M435.8 457.6h1.4M440.6 454.2h1.4M427.7 459.4h1.4M425.0 452.9h1.4M432.1 456.4h1.4M436.6 449.7h1.4M424.1 464.0h1.4M438.7 456.9h1.4M416.5 447.4h1.4M435.1 455.0h1.4M429.7 441.2h1.4M432.2 455.8h1.4M438.0 457.7h1.4M433.9 454.2h1.4M420.8 460.0h1.4M429.0 451.6h1.4M427.0 449.4h1.4M430.8 453.7h1.4M425.1 453.8h1.4M435.7 459.2h1.4M424.5 442.8h1.4M426.4 454.7h1.4M435.0 453.2h1.4M434.6 455.5h1.4M432.6 448.5h1.4M429.1 459.6h1.4M430.7 467.0h1.4M433.4 472.5h1.4M434.9 466.5h1.4M442.4 459.9h1.4M437.6 454.2h1.4M426.0 444.2h1.4M435.0 451.7h1.4M437.9 455.4h1.4M433.6 446.6h1.4M433.1 456.8h1.4M436.8 446.3h1.4M429.5 462.3h1.4M427.4 458.3h1.4M421.7 459.4h1.4M442.9 460.2h1.4M430.5 462.2h1.4M441.5 454.5h1.4M439.8 456.9h1.4M427.3 459.6h1.4M429.7 453.1h1.4M434.7 459.3h1.4M431.2 456.0h1.4M425.3 464.3h1.4M425.4 462.9h1.4M429.5 469.7h1.4M431.6 463.4h1.4M433.6 457.9h1.4M426.1 451.7h1.4M428.2 475.2h1.4M419.3 447.2h1.4M424.3 439.7h1.4M440.3 455.3h1.4M431.6 455.7h1.4M434.9 461.2h1.4M424.8 454.1h1.4M434.3 457.1h1.4M423.8 461.5h1.4M434.2 460.2h1.4M437.4 460.7h1.4M445.3 449.4h1.4M417.2 463.2h1.4M429.8 458.6h1.4M427.9 462.2h1.4M435.4 450.7h1.4M429.2 461.6h1.4M442.0 455.3h1.4M429.0 453.2h1.4M434.1 455.2h1.4M421.5 455.2h1.4M425.4 453.0h1.4M431.1 455.2h1.4M430.9 450.2h1.4M432.4 456.7h1.4M430.1 467.9h1.4M433.4 458.6h1.4M427.0 454.5h1.4M441.5 462.7h1.4M439.3 463.9h1.4M434.8 462.3h1.4M432.4 462.5h1.4M431.5 450.0h1.4M432.0 456.6h1.4M432.0 448.9h1.4M425.8 462.5h1.4M441.0 460.1h1.4M429.2 462.4h1.4M441.9 452.7h1.4M425.4 455.6h1.4M429.1 444.3h1.4M435.1 454.5h1.4M428.5 459.7h1.4M436.8 457.1h1.4M433.2 461.0h1.4M430.9 470.2h1.4M429.7 457.1h1.4M418.1 449.9h1.4M439.6 455.7h1.4M432.7 459.2h1.4M428.5 451.8h1.4M434.2 451.6h1.4M428.4 447.4h1.4M428.6 464.9h1.4M424.3 460.4h1.4M427.2 457.0h1.4M432.8 455.7h1.4M427.9 458.7h1.4M425.0 461.8h1.4M441.0 458.5h1.4M432.2 454.5h1.4M429.6 458.0h1.4M423.0 461.4h1.4M426.6 465.4h1.4M438.5 460.1h1.4M434.7 454.1h1.4M421.5 461.9h1.4M426.2 460.4h1.4M437.8 462.6h1.4M434.2 456.9h1.4M427.2 470.7h1.4M432.2 458.6h1.4M429.4 451.7h1.4M432.0 455.3h1.4M430.4 462.3h1.4M428.6 462.3h1.4M436.8 456.8h1.4M423.2 465.2h1.4M421.6 455.5h1.4M429.5 453.5h1.4M422.3 461.7h1.4M437.4 455.0h1.4M430.6 453.7h1.4M433.5 460.8h1.4M431.0 465.5h1.4M436.6 464.7h1.4M433.3 457.1h1.4M437.4 463.6h1.4M432.1 455.2h1.4M433.7 467.9h1.4M430.5 460.9h1.4M436.6 463.6h1.4M421.9 469.3h1.4M436.4 454.3h1.4M431.8 462.8h1.4M444.3 458.7h1.4M433.1 459.5h1.4M424.3 450.9h1.4M436.2 459.9h1.4M422.7 464.1h1.4M427.0 463.7h1.4M423.2 457.2h1.4M431.6 462.4h1.4M449.4 459.5h1.4M434.3 457.5h1.4M432.0 462.8h1.4M427.1 454.7h1.4M429.1 466.4h1.4M432.9 455.0h1.4M434.9 457.9h1.4M432.5 457.2h1.4M424.9 450.8h1.4M436.8 449.7h1.4M426.4 449.3h1.4M418.0 462.1h1.4M424.0 451.4h1.4M430.4 462.1h1.4M438.3 448.3h1.4M413.8 458.2h1.4M432.3 454.9h1.4M421.8 466.1h1.4M432.6 462.4h1.4M431.1 453.9h1.4M426.9 455.8h1.4M431.2 460.6h1.4M424.4 465.8h1.4M422.6 462.4h1.4M430.5 451.1h1.4M424.6 460.5h1.4M443.5 449.7h1.4M426.4 451.6h1.4M431.5 462.4h1.4M433.1 463.0h1.4M427.0 460.7h1.4M428.6 458.8h1.4M429.1 466.6h1.4M439.4 466.1h1.4M434.9 457.3h1.4M424.6 461.4h1.4M420.1 458.3h1.4M427.6 460.8h1.4M431.2 457.7h1.4M436.2 463.5h1.4M431.1 454.1h1.4M421.5 464.0h1.4M425.7 452.6h1.4M435.0 467.6h1.4M426.5 458.5h1.4M424.1 458.5h1.4M431.7 452.0h1.4M424.3 451.9h1.4M443.1 463.0h1.4M440.7 467.0h1.4M425.9 454.3h1.4M423.1 459.4h1.4M435.9 465.4h1.4M440.9 457.0h1.4M424.9 457.3h1.4M423.0 458.2h1.4M429.4 463.5h1.4M431.8 463.6h1.4M427.8 454.1h1.4M430.3 463.8h1.4M427.4 469.8h1.4M423.7 459.6h1.4M420.8 460.5h1.4M433.4 462.5h1.4M429.4 454.9h1.4M427.6 464.0h1.4M429.6 463.3h1.4M431.6 456.1h1.4M430.1 454.9h1.4M424.8 450.0h1.4M437.5 451.0h1.4M426.2 457.0h1.4M433.0 444.8h1.4M425.0 448.9h1.4M431.1 450.7h1.4M432.1 467.6h1.4M416.8 454.3h1.4M426.2 459.0h1.4M426.9 458.8h1.4M423.1 459.7h1.4M432.7 462.2h1.4M427.8 457.8h1.4M437.5 461.6h1.4M419.5 463.1h1.4M443.5 450.1h1.4M432.8 463.1h1.4M420.4 452.3h1.4M429.1 451.8h1.4M430.6 452.4h1.4M431.8 452.7h1.4M434.3 455.2h1.4M433.3 455.5h1.4M436.0 462.3h1.4M433.5 463.6h1.4M430.9 450.7h1.4M433.3 473.6h1.4M430.8 466.8h1.4M433.7 459.0h1.4M428.0 456.4h1.4M426.3 460.0h1.4M430.7 456.4h1.4M436.4 454.4h1.4M431.6 453.7h1.4M437.6 470.9h1.4M435.5 465.3h1.4M427.0 449.2h1.4M441.2 448.5h1.4M443.1 439.1h1.4M441.3 449.6h1.4M432.7 459.0h1.4M429.3 460.7h1.4M432.3 444.0h1.4M436.5 455.7h1.4M426.0 459.3h1.4M428.0 462.3h1.4M419.0 462.4h1.4M426.9 456.0h1.4M428.0 446.7h1.4M438.2 461.5h1.4M435.9 461.7h1.4M425.3 460.5h1.4M434.3 457.3h1.4M435.0 459.1h1.4M426.9 453.8h1.4M428.2 459.9h1.4M432.2 454.8h1.4M427.6 466.0h1.4M434.0 461.8h1.4M439.0 449.8h1.4M428.6 452.5h1.4M427.0 461.8h1.4M432.4 453.4h1.4M430.4 457.7h1.4M418.4 457.2h1.4M416.9 462.4h1.4M427.5 453.7h1.4M426.3 449.4h1.4M426.3 452.6h1.4M432.4 457.2h1.4M427.1 461.3h1.4M436.5 448.8h1.4M426.3 453.3h1.4M429.6 452.8h1.4M435.2 445.1h1.4M429.5 456.9h1.4M432.5 454.5h1.4M419.5 455.4h1.4M435.0 463.9h1.4M430.2 465.4h1.4M435.0 458.3h1.4M437.5 454.6h1.4M441.2 455.7h1.4M425.9 449.1h1.4M425.7 447.9h1.4M425.4 460.8h1.4M429.7 462.3h1.4M427.4 459.8h1.4M431.8 456.5h1.4M436.8 459.3h1.4M430.9 449.0h1.4M434.1 461.4h1.4M436.6 454.9h1.4M425.9 448.6h1.4M428.4 458.3h1.4M434.4 452.3h1.4M425.0 460.2h1.4M429.9 458.6h1.4M429.3 459.3h1.4M421.9 460.4h1.4M433.0 452.0h1.4M436.2 459.0h1.4M410.9 452.0h1.4M434.8 452.4h1.4M421.2 463.1h1.4M436.8 450.6h1.4M433.4 454.4h1.4M439.8 451.5h1.4M420.9 458.4h1.4M433.1 452.8h1.4M421.3 447.5h1.4M435.5 465.8h1.4M426.6 461.2h1.4M428.9 456.8h1.4M425.0 445.4h1.4M426.0 455.9h1.4M430.7 458.6h1.4M438.9 454.2h1.4M444.0 459.2h1.4M429.1 459.9h1.4M424.8 444.2h1.4M428.2 460.0h1.4M427.1 454.0h1.4M428.2 458.2h1.4M438.6 462.6h1.4M432.4 459.3h1.4M435.0 465.9h1.4M431.6 451.9h1.4M432.2 470.4h1.4M437.9 453.8h1.4M426.5 456.6h1.4M440.0 466.0h1.4M431.8 450.8h1.4M426.8 459.1h1.4M430.2 464.2h1.4M436.7 462.0h1.4M429.6 458.8h1.4M434.1 453.6h1.4M431.3 465.5h1.4M434.0 456.4h1.4M437.4 459.1h1.4M431.9 459.0h1.4M432.8 453.8h1.4M436.1 463.7h1.4M429.6 464.1h1.4M427.7 459.8h1.4M424.3 456.2h1.4M427.5 452.6h1.4M423.3 452.7h1.4M425.8 465.3h1.4M434.2 458.2h1.4M428.3 454.6h1.4M433.2 457.0h1.4M432.2 455.4h1.4M429.8 458.7h1.4M423.9 457.7h1.4M419.4 446.3h1.4M438.2 448.7h1.4M429.7 459.0h1.4M432.6 462.6h1.4M427.0 447.0h1.4M418.1 461.2h1.4M435.8 458.8h1.4M437.2 459.2h1.4M435.3 453.4h1.4M420.0 456.8h1.4M430.8 461.1h1.4M440.2 460.2h1.4M426.9 459.8h1.4M430.3 449.7h1.4M430.1 461.2h1.4M438.0 465.1h1.4M431.0 453.7h1.4M426.0 461.4h1.4M412.9 443.9h1.4M431.3 451.7h1.4M429.5 458.2h1.4M429.5 455.4h1.4M424.8 465.8h1.4M421.2 446.1h1.4M434.6 443.7h1.4M427.1 445.2h1.4M420.7 461.0h1.4M430.0 464.2h1.4M421.8 455.3h1.4M430.9 468.3h1.4M437.8 453.0h1.4M429.4 458.8h1.4M422.3 453.9h1.4M428.4 458.8h1.4M428.2 448.6h1.4M423.0 461.6h1.4M433.2 467.7h1.4M420.9 458.9h1.4M436.1 446.0h1.4M436.1 458.4h1.4M430.3 458.5h1.4M432.8 451.5h1.4M427.1 452.3h1.4M426.3 449.2h1.4M423.7 445.5h1.4M422.7 462.2h1.4M424.1 448.8h1.4M440.6 460.1h1.4M430.7 457.3h1.4M421.4 463.0h1.4M432.1 452.1h1.4M425.0 449.1h1.4M426.8 466.7h1.4M433.6 454.8h1.4M439.7 465.3h1.4M425.4 463.8h1.4M424.6 453.6h1.4M426.0 453.4h1.4M433.5 457.0h1.4M436.1 460.4h1.4M432.7 462.2h1.4M420.6 462.1h1.4M437.2 457.9h1.4M434.6 466.6h1.4M421.6 458.9h1.4M418.4 470.3h1.4M434.9 459.0h1.4M419.3 453.6h1.4M426.9 462.9h1.4M438.5 458.6h1.4M426.8 445.6h1.4M431.4 454.3h1.4M430.2 459.9h1.4M424.0 468.2h1.4M436.1 465.5h1.4M428.9 447.3h1.4M432.2 458.3h1.4M435.3 454.6h1.4M435.5 444.0h1.4M443.0 456.8h1.4M426.7 449.6h1.4M425.2 463.5h1.4M425.8 457.3h1.4M430.6 466.9h1.4M442.4 458.2h1.4M435.2 462.3h1.4M428.0 456.2h1.4M442.4 471.8h1.4M428.1 455.3h1.4M435.4 456.9h1.4M434.8 450.4h1.4M437.2 464.3h1.4M431.9 450.1h1.4M422.2 461.9h1.4M431.3 460.3h1.4M431.0 465.3h1.4M427.4 457.5h1.4M432.5 457.1h1.4M428.7 452.5h1.4M434.9 457.4h1.4M432.8 461.1h1.4M431.2 460.3h1.4M413.3 454.2h1.4M435.3 460.3h1.4M427.4 460.5h1.4M430.9 459.3h1.4M429.5 447.3h1.4M438.7 464.0h1.4M432.4 455.2h1.4M423.9 463.1h1.4M431.4 442.2h1.4M423.3 461.6h1.4M436.2 456.1h1.4M421.5 466.7h1.4M433.9 459.5h1.4M437.0 462.3h1.4M443.5 456.0h1.4M430.1 466.9h1.4M434.7 458.6h1.4M430.0 454.9h1.4M427.3 457.9h1.4M456.9 461.0h1.4M430.2 449.0h1.4M425.2 453.1h1.4M427.7 462.3h1.4M440.3 465.8h1.4M432.7 462.6h1.4M431.0 451.8h1.4M422.4 455.1h1.4M418.3 452.9h1.4M427.4 460.5h1.4M433.8 456.1h1.4M442.2 447.1h1.4M429.8 454.2h1.4M414.3 450.4h1.4M431.8 458.0h1.4M440.1 456.4h1.4M430.3 457.8h1.4M434.9 460.6h1.4M437.8 441.3h1.4M425.5 454.8h1.4M437.0 458.1h1.4M423.0 458.3h1.4M435.2 475.1h1.4M428.0 469.9h1.4M435.9 460.0h1.4M427.7 466.9h1.4M430.0 459.9h1.4M425.8 461.6h1.4M429.3 453.2h1.4M437.9 458.2h1.4M426.0 450.2h1.4M414.6 457.3h1.4M438.3 457.7h1.4M419.6 448.3h1.4M422.5 442.5h1.4M427.9 466.0h1.4M423.1 467.0h1.4M429.8 449.5h1.4M433.8 463.7h1.4M423.7 452.9h1.4M439.3 458.5h1.4M441.0 448.5h1.4M420.6 462.8h1.4M438.9 449.0h1.4M429.1 453.1h1.4M432.5 457.6h1.4M428.0 464.2h1.4M438.0 450.4h1.4M427.5 461.1h1.4M430.5 463.1h1.4M434.8 445.2h1.4M425.3 455.3h1.4M431.8 463.7h1.4M423.0 449.5h1.4M434.6 454.0h1.4M430.4 473.3h1.4M428.6 452.8h1.4M428.6 449.9h1.4M431.6 463.0h1.4M430.6 466.1h1.4M451.0 460.8h1.4M431.2 475.1h1.4M428.7 459.0h1.4M424.2 460.9h1.4M430.8 449.9h1.4M420.5 457.8h1.4M428.8 467.9h1.4M435.2 450.7h1.4M428.2 456.6h1.4M429.8 450.8h1.4M443.6 463.1h1.4M425.5 450.7h1.4M428.7 456.1h1.4M419.0 470.0h1.4M428.7 456.4h1.4M420.7 454.9h1.4M426.0 452.2h1.4M421.8 460.3h1.4M425.1 469.9h1.4M425.2 453.2h1.4M423.7 457.2h1.4M428.8 459.9h1.4M433.1 458.0h1.4M429.4 455.9h1.4M434.8 468.2h1.4M429.7 456.0h1.4M416.3 451.5h1.4M439.4 455.5h1.4M424.4 463.2h1.4M438.1 455.0h1.4M429.2 449.5h1.4M426.9 449.7h1.4M427.5 462.1h1.4M440.6 465.8h1.4M423.4 455.9h1.4M441.8 452.5h1.4M422.6 456.0h1.4M435.9 461.0h1.4M427.9 461.9h1.4M433.6 455.4h1.4M423.4 464.4h1.4M437.1 452.0h1.4M438.6 455.0h1.4M438.8 466.8h1.4M439.4 455.3h1.4M432.9 455.7h1.4M444.9 459.0h1.4M436.6 456.0h1.4M437.0 454.5h1.4M413.6 457.5h1.4M426.6 454.8h1.4M427.7 454.8h1.4M421.2 466.3h1.4M427.7 456.1h1.4M427.9 464.4h1.4M437.6 464.0h1.4M436.5 447.7h1.4M437.9 452.8h1.4" stroke="#c44553" stroke-width="1.4" fill="none"/>
<path d="M444.9 459.2h1.4M445.8 459.7h1.4M445.7 460.6h1.4M442.0 458.9h1.4M437.2 454.4h1.4M440.4 473.3h1.4M447.1 453.8h1.4M443.0 460.9h1.4M444.6 453.5h1.4M443.5 458.4h1.4M439.8 446.2h1.4M446.6 465.2h1.4M441.2 456.6h1.4M448.7 473.2h1.4M447.4 458.9h1.4M448.8 462.5h1.4M439.2 454.2h1.4M446.4 453.5h1.4M442.8 456.5h1.4M445.4 456.8h1.4M446.8 462.3h1.4M443.6 461.3h1.4M444.0 453.1h1.4M438.6 474.0h1.4M444.4 458.7h1.4M450.6 457.8h1.4M437.2 445.0h1.4M449.7 462.5h1.4M441.8 468.9h1.4M452.2 451.9h1.4M442.5 465.0h1.4M443.0 457.8h1.4M439.7 461.9h1.4M446.4 451.7h1.4M451.1 457.1h1.4M443.3 459.5h1.4M436.9 460.4h1.4M446.2 458.3h1.4M442.6 458.1h1.4M438.4 459.5h1.4M441.2 460.4h1.4M444.8 457.2h1.4M446.4 460.9h1.4M435.0 470.6h1.4M431.0 454.4h1.4M436.8 462.6h1.4M438.8 458.5h1.4M427.6 453.1h1.4M443.0 453.5h1.4M451.4 459.0h1.4M438.9 464.2h1.4M443.5 461.2h1.4M438.7 467.8h1.4M443.5 459.9h1.4M444.9 457.6h1.4M443.8 446.8h1.4M443.3 469.5h1.4M446.4 467.4h1.4M442.4 466.7h1.4M438.2 457.0h1.4M438.4 450.6h1.4M444.6 466.2h1.4M437.5 456.6h1.4M443.9 458.8h1.4M436.5 452.9h1.4M434.9 454.9h1.4M442.9 452.6h1.4M439.7 454.5h1.4M441.1 455.1h1.4M433.9 456.1h1.4M442.3 450.6h1.4M443.0 456.7h1.4M439.4 466.3h1.4M441.0 459.6h1.4M432.9 466.4h1.4M439.5 463.5h1.4M446.6 457.7h1.4M437.7 473.7h1.4M438.6 461.1h1.4M447.5 460.0h1.4M441.6 449.4h1.4M436.5 448.6h1.4M442.9 467.0h1.4M442.6 467.0h1.4M444.6 461.7h1.4M438.2 457.4h1.4M447.9 449.5h1.4M435.6 452.1h1.4M442.7 456.2h1.4M450.2 455.7h1.4M442.2 453.1h1.4M441.0 464.4h1.4M437.2 460.5h1.4M433.8 460.3h1.4M440.9 463.5h1.4M442.4 447.7h1.4M442.6 461.0h1.4M447.5 455.8h1.4M440.9 453.9h1.4M438.8 456.4h1.4M442.6 460.0h1.4M440.7 455.8h1.4M439.7 463.6h1.4M437.4 460.5h1.4M448.8 458.0h1.4M441.7 460.2h1.4M446.4 454.8h1.4M440.3 455.6h1.4M437.3 468.6h1.4M437.8 457.7h1.4" stroke="#9c5060" stroke-width="1.4" fill="none"/>
<path d="M446.1 468.7h1.4M441.7 454.6h1.4M439.6 452.2h1.4M446.8 466.5h1.4M440.3 453.9h1.4M442.7 454.9h1.4M450.9 444.7h1.4M440.6 458.5h1.4M441.4 452.6h1.4M448.0 463.2h1.4M440.5 460.6h1.4M445.9 452.7h1.4M441.7 459.4h1.4M444.0 464.0h1.4M444.0 453.6h1.4M446.9 459.9h1.4M441.6 455.9h1.4M445.3 467.4h1.4M449.0 450.3h1.4M445.3 463.2h1.4M443.4 451.3h1.4M443.3 450.7h1.4M443.2 456.4h1.4M444.2 445.3h1.4M450.0 447.1h1.4M441.3 463.9h1.4M447.8 460.6h1.4M449.3 448.3h1.4M451.7 449.7h1.4M440.0 458.3h1.4M440.2 468.5h1.4M441.6 458.8h1.4M446.3 454.7h1.4M449.1 461.0h1.4M441.2 466.3h1.4M443.4 471.8h1.4M439.9 458.5h1.4M443.1 458.3h1.4M444.8 463.7h1.4M446.1 449.4h1.4M439.7 468.8h1.4M438.8 462.1h1.4M447.6 458.5h1.4M443.2 454.7h1.4M446.1 452.2h1.4M444.5 461.6h1.4M438.4 458.3h1.4M449.5 470.0h1.4M437.6 450.1h1.4M443.9 457.0h1.4M441.6 454.3h1.4M445.0 444.5h1.4M444.8 461.4h1.4M445.5 453.5h1.4M440.8 457.0h1.4M444.3 457.5h1.4M438.4 455.5h1.4M438.7 457.7h1.4M449.4 456.8h1.4M440.4 457.4h1.4M449.2 463.8h1.4M444.9 450.9h1.4M442.2 452.7h1.4M445.6 452.7h1.4M449.8 468.0h1.4M442.0 460.9h1.4M443.1 473.8h1.4M443.3 459.8h1.4M443.8 457.7h1.4M443.0 467.2h1.4M440.2 461.5h1.4M444.1 463.7h1.4M440.0 460.4h1.4M444.2 453.9h1.4M446.9 461.6h1.4M447.5 452.1h1.4M440.6 457.3h1.4M447.8 467.4h1.4M450.4 463.1h1.4M442.5 454.4h1.4M445.0 458.2h1.4M443.4 465.2h1.4M444.5 466.0h1.4M442.5 462.0h1.4M442.6 444.6h1.4M439.7 456.9h1.4M446.4 456.3h1.4M441.4 455.1h1.4M446.5 451.9h1.4M445.2 467.8h1.4M439.0 461.5h1.4M440.5 463.6h1.4M443.3 460.3h1.4M437.0 465.6h1.4M445.9 450.1h1.4M440.0 471.5h1.4M447.5 447.3h1.4M441.9 455.2h1.4M447.3 457.8h1.4M444.0 463.5h1.4M442.9 463.6h1.4M444.3 448.4h1.4M441.3 456.5h1.4M439.5 453.1h1.4M439.6 456.2h1.4M437.0 454.3h1.4M441.8 461.0h1.4M439.5 462.6h1.4M441.9 456.9h1.4M451.2 453.8h1.4" stroke="#7a5aa8" stroke-width="1.4" fill="none"/>
<path d="M446.2 453.9h1.4M440.7 451.2h1.4M435.5 449.2h1.4M442.7 455.0h1.4M437.5 459.2h1.4M438.2 452.1h1.4M437.6 457.0h1.4M444.4 456.5h1.4M447.5 460.7h1.4M449.8 446.1h1.4M439.7 452.2h1.4M441.0 452.5h1.4M437.0 455.7h1.4M445.7 461.0h1.4M438.9 452.9h1.4M446.8 464.7h1.4M435.4 461.7h1.4M434.5 466.9h1.4M444.3 463.7h1.4M448.1 459.5h1.4M439.4 455.4h1.4M435.8 469.6h1.4M446.4 450.8h1.4M446.2 461.0h1.4M438.3 462.9h1.4M442.1 466.7h1.4M445.7 453.4h1.4M444.8 464.6h1.4M440.7 458.8h1.4M443.9 469.3h1.4M449.4 454.4h1.4M441.5 454.2h1.4M446.9 458.4h1.4M449.4 457.1h1.4M448.0 461.8h1.4M445.4 462.5h1.4M450.2 460.3h1.4M443.1 452.9h1.4M437.0 451.0h1.4M446.2 465.3h1.4" stroke="#3d7fcc" stroke-width="1.4" fill="none"/>
<ellipse cx="458" cy="444.8" rx="10.4" ry="17" transform="rotate(6 458 444.8)" fill="#178ff3"/>
<path d="M452.2 432.0h1.4M463.6 430.1h1.4M464.4 433.5h1.4M456.4 434.8h1.4M447.9 444.6h1.4M447.7 453.4h1.4M463.7 454.1h1.4M460.8 453.6h1.4M455.5 430.8h1.4M464.6 441.8h1.4M452.3 459.4h1.4M462.4 435.2h1.4M452.4 442.1h1.4M449.1 438.4h1.4M462.1 430.2h1.4M455.6 436.2h1.4M466.1 443.8h1.4M453.9 438.6h1.4M456.8 428.6h1.4M460.7 431.3h1.4M452.7 438.6h1.4M459.8 431.0h1.4M450.5 455.1h1.4M458.3 457.9h1.4M462.5 447.7h1.4M452.9 431.8h1.4M467.9 444.4h1.4M462.9 450.3h1.4M461.9 434.2h1.4M453.0 452.3h1.4M459.5 434.1h1.4M466.9 442.9h1.4M450.4 455.7h1.4M453.5 430.1h1.4M448.6 448.7h1.4M456.0 436.9h1.4M448.3 439.0h1.4M465.9 444.6h1.4M455.5 453.6h1.4M466.0 434.0h1.4M447.8 441.3h1.4M463.9 435.2h1.4M462.2 432.8h1.4M462.9 446.1h1.4M451.5 431.4h1.4M463.4 433.0h1.4M454.3 459.0h1.4M456.5 430.7h1.4M460.2 432.5h1.4M450.3 453.3h1.4M458.8 430.1h1.4M453.7 429.9h1.4M449.1 448.3h1.4M448.3 453.4h1.4M452.0 432.7h1.4M458.9 442.5h1.4M460.9 457.8h1.4M450.5 454.5h1.4M451.7 444.1h1.4M460.8 449.5h1.4M466.8 442.5h1.4M453.0 433.2h1.4M453.4 457.5h1.4M447.3 450.1h1.4M458.2 456.0h1.4M450.8 457.1h1.4M468.3 439.9h1.4M453.5 442.4h1.4M463.0 453.8h1.4M453.6 429.7h1.4M455.9 441.1h1.4M461.8 443.6h1.4M462.6 445.3h1.4M461.3 452.6h1.4M458.4 456.3h1.4M466.7 440.0h1.4M448.5 447.7h1.4M449.2 439.4h1.4M454.2 437.3h1.4M458.6 428.2h1.4M452.4 430.8h1.4M447.7 447.2h1.4M464.0 435.2h1.4M447.2 448.8h1.4M451.8 460.8h1.4M447.0 446.6h1.4M458.9 458.9h1.4M449.6 440.4h1.4M449.6 450.2h1.4M450.0 452.9h1.4M448.2 441.5h1.4M453.0 456.0h1.4M447.3 446.8h1.4M457.9 451.6h1.4M461.5 436.9h1.4M458.7 437.2h1.4M464.4 432.4h1.4M460.4 459.2h1.4M455.2 429.9h1.4M460.3 453.0h1.4M448.1 444.8h1.4M449.0 442.2h1.4M461.9 432.7h1.4M454.3 462.3h1.4M448.6 453.3h1.4M464.2 454.0h1.4M461.8 456.7h1.4M458.0 435.1h1.4M456.5 431.4h1.4M463.4 448.5h1.4M462.7 430.3h1.4M460.5 432.9h1.4M452.9 431.2h1.4M460.2 429.6h1.4M462.7 458.2h1.4M465.9 438.0h1.4M454.2 458.3h1.4M467.8 445.6h1.4M446.9 437.7h1.4M460.7 451.0h1.4M449.7 452.2h1.4M461.7 458.0h1.4M466.5 445.6h1.4M448.5 454.1h1.4M459.5 457.6h1.4M464.9 435.1h1.4M452.9 459.1h1.4M456.7 429.9h1.4M466.6 449.8h1.4M448.9 451.2h1.4M450.9 440.9h1.4M462.0 449.0h1.4M451.0 441.0h1.4M449.2 447.0h1.4M455.8 458.8h1.4M446.2 448.5h1.4M465.3 441.1h1.4M456.9 435.0h1.4M462.1 431.1h1.4M468.5 438.3h1.4M458.6 430.3h1.4M462.9 452.4h1.4M451.1 446.3h1.4M452.3 454.7h1.4M450.4 445.3h1.4M462.4 443.2h1.4M462.3 431.5h1.4M452.3 445.5h1.4M456.9 456.1h1.4M461.7 438.8h1.4M460.4 432.9h1.4M464.9 444.0h1.4M449.2 436.9h1.4M466.3 439.2h1.4M452.4 434.7h1.4M448.1 440.6h1.4M448.3 445.3h1.4M461.8 456.2h1.4M466.4 437.1h1.4M451.6 444.8h1.4M461.4 458.1h1.4M459.3 428.0h1.4M452.7 455.5h1.4M465.7 449.3h1.4M448.8 437.7h1.4M454.4 436.7h1.4M467.3 455.9h1.4M449.6 440.6h1.4M451.2 453.3h1.4M458.8 458.2h1.4M451.0 450.6h1.4M456.7 452.4h1.4M450.7 454.7h1.4M457.8 460.8h1.4M448.8 456.6h1.4M466.0 437.6h1.4M458.0 432.5h1.4M466.0 439.8h1.4M459.5 430.2h1.4M466.3 441.4h1.4M457.9 456.1h1.4M453.7 457.4h1.4M451.3 447.0h1.4M465.8 453.8h1.4M448.0 438.7h1.4M452.5 457.1h1.4M449.7 438.4h1.4M454.0 429.6h1.4M450.8 445.0h1.4M467.0 441.1h1.4M454.9 433.0h1.4M459.7 456.8h1.4M463.8 458.0h1.4M448.9 450.0h1.4M459.4 431.2h1.4M452.2 449.7h1.4M461.5 456.7h1.4M447.3 453.9h1.4M459.9 458.3h1.4M465.0 445.9h1.4M447.1 440.6h1.4M463.6 455.0h1.4M459.6 428.8h1.4M457.0 456.8h1.4M459.5 457.3h1.4M461.6 454.4h1.4M463.9 448.3h1.4M453.0 458.8h1.4M466.3 448.5h1.4M466.0 449.1h1.4M449.5 454.9h1.4M457.6 430.8h1.4M451.3 438.0h1.4M447.6 442.2h1.4M461.6 451.8h1.4M452.2 449.7h1.4M453.5 456.6h1.4M452.8 458.2h1.4M455.1 452.5h1.4M450.9 454.2h1.4M467.5 432.9h1.4M459.6 457.6h1.4M466.3 440.2h1.4M453.1 457.3h1.4M450.9 452.8h1.4M458.7 458.7h1.4M448.0 441.6h1.4M463.1 454.6h1.4M448.5 447.5h1.4M464.0 455.4h1.4M464.5 437.3h1.4M463.3 451.1h1.4M460.3 432.3h1.4M460.0 459.9h1.4M450.9 456.7h1.4M450.1 446.8h1.4M465.4 444.9h1.4M458.8 451.3h1.4M463.5 457.1h1.4M449.0 446.6h1.4M457.5 432.2h1.4M458.4 430.1h1.4M453.0 459.7h1.4M451.0 440.2h1.4M465.2 450.4h1.4M469.5 444.6h1.4M458.5 428.4h1.4M452.5 453.7h1.4M461.5 448.9h1.4M447.2 450.7h1.4M465.0 430.5h1.4M449.7 460.2h1.4M459.6 430.7h1.4M446.8 443.4h1.4M463.3 436.9h1.4M466.3 438.3h1.4M452.3 430.4h1.4M450.5 456.8h1.4M462.8 449.7h1.4M454.6 428.1h1.4M454.4 433.5h1.4M459.3 454.7h1.4M458.5 455.7h1.4M462.6 457.0h1.4M457.8 432.0h1.4M461.2 446.7h1.4M458.9 428.9h1.4M453.4 452.9h1.4M466.8 439.3h1.4M460.2 429.2h1.4M464.2 439.5h1.4M461.6 432.1h1.4M455.4 452.3h1.4M463.0 454.2h1.4M459.5 427.6h1.4M448.6 437.5h1.4M455.4 440.0h1.4M462.3 456.1h1.4M450.3 447.6h1.4M456.5 457.1h1.4M451.8 439.1h1.4M460.7 451.2h1.4M448.6 451.9h1.4M454.3 439.3h1.4M449.4 447.8h1.4M450.3 454.5h1.4M452.8 449.0h1.4M457.5 455.2h1.4M451.4 443.3h1.4M454.0 458.5h1.4M448.6 445.5h1.4M465.6 448.4h1.4M455.0 447.3h1.4M455.7 429.3h1.4M460.4 428.8h1.4M465.7 448.3h1.4M465.3 439.8h1.4M459.6 434.9h1.4M452.1 433.9h1.4M455.2 461.3h1.4M467.0 443.1h1.4M457.5 428.7h1.4M453.8 452.7h1.4M450.1 437.9h1.4M446.2 441.0h1.4M454.0 431.4h1.4M466.6 443.6h1.4M452.3 437.4h1.4M458.9 451.4h1.4M467.8 447.1h1.4M466.3 437.5h1.4M453.6 436.0h1.4M448.7 438.0h1.4M457.1 430.6h1.4M457.3 431.8h1.4M461.2 456.0h1.4M464.1 436.4h1.4M459.3 459.3h1.4M461.2 455.2h1.4M453.2 446.0h1.4M455.4 458.0h1.4M457.0 455.9h1.4M457.8 455.9h1.4M463.5 441.9h1.4M452.8 440.9h1.4M458.2 458.1h1.4M462.7 438.7h1.4M460.9 431.2h1.4M459.8 441.4h1.4M452.6 450.0h1.4M446.5 447.6h1.4M463.9 453.8h1.4M460.8 428.3h1.4M450.0 441.5h1.4M447.0 443.5h1.4M455.7 436.4h1.4M452.6 435.3h1.4M464.9 440.2h1.4M459.4 435.6h1.4M457.2 459.1h1.4M465.6 448.1h1.4M458.1 429.7h1.4M447.5 446.4h1.4M452.7 453.8h1.4M449.2 451.6h1.4M465.0 449.4h1.4M466.7 435.1h1.4M465.5 454.5h1.4M461.7 451.9h1.4M459.5 457.9h1.4M449.4 456.0h1.4M448.2 442.9h1.4M457.5 455.4h1.4M451.2 438.3h1.4M449.2 444.3h1.4M463.6 431.2h1.4M449.9 457.3h1.4M448.8 452.6h1.4M460.7 460.2h1.4M463.1 433.1h1.4M456.5 429.4h1.4M450.2 446.3h1.4M462.4 433.7h1.4M460.5 433.0h1.4M456.0 431.9h1.4M453.2 449.2h1.4M450.9 447.7h1.4M459.1 443.4h1.4M459.7 460.8h1.4M453.7 431.2h1.4M448.7 440.7h1.4M450.5 442.7h1.4M463.8 440.7h1.4M464.0 444.0h1.4M460.6 438.8h1.4M462.6 454.7h1.4M446.4 446.6h1.4M464.9 431.6h1.4M464.6 437.8h1.4M452.9 459.8h1.4M452.1 457.8h1.4M463.2 429.0h1.4M451.0 460.4h1.4M463.4 438.0h1.4M460.8 428.5h1.4M463.6 433.7h1.4M460.6 440.7h1.4M453.3 434.0h1.4M462.9 430.2h1.4M465.4 450.1h1.4M465.8 439.6h1.4M464.2 439.3h1.4M458.6 458.9h1.4M454.0 427.9h1.4M446.8 443.9h1.4M451.0 436.7h1.4M455.3 436.2h1.4M454.3 453.2h1.4M448.7 444.9h1.4M454.1 430.7h1.4M455.3 443.5h1.4M448.6 450.0h1.4M448.7 451.8h1.4M451.9 435.4h1.4M455.4 438.2h1.4M462.0 447.3h1.4M462.6 429.0h1.4M466.1 439.6h1.4M459.8 461.1h1.4M459.6 456.5h1.4M457.9 438.9h1.4M461.0 428.5h1.4M460.8 457.9h1.4M457.6 458.2h1.4M454.6 456.2h1.4M453.2 429.7h1.4M450.6 436.2h1.4M457.6 430.6h1.4M449.2 457.3h1.4M447.7 443.6h1.4M452.5 456.7h1.4M458.7 439.3h1.4M465.4 442.1h1.4M462.8 431.2h1.4M457.0 458.5h1.4M463.5 439.6h1.4M454.1 451.8h1.4M456.3 452.9h1.4M464.4 443.4h1.4M452.2 450.3h1.4M461.7 433.5h1.4M458.2 455.2h1.4M462.5 442.4h1.4M464.3 431.4h1.4M453.1 439.6h1.4M447.6 442.6h1.4M454.2 443.2h1.4M450.5 442.9h1.4M466.0 452.4h1.4M460.2 431.2h1.4M465.2 435.7h1.4M466.2 448.1h1.4M448.0 452.8h1.4M460.5 441.6h1.4M454.0 459.1h1.4M464.6 440.3h1.4M459.1 430.6h1.4M464.3 445.3h1.4M451.5 456.4h1.4M448.4 445.6h1.4M455.2 428.9h1.4M463.8 438.9h1.4M450.1 437.7h1.4M462.8 432.8h1.4M467.2 444.7h1.4M455.4 430.2h1.4M455.1 429.0h1.4M462.6 454.6h1.4M463.8 437.3h1.4M460.8 430.0h1.4M447.3 445.4h1.4M451.7 440.8h1.4M450.6 449.7h1.4M451.4 431.0h1.4M460.2 430.4h1.4M459.2 428.3h1.4M448.0 444.2h1.4M452.9 453.9h1.4M447.3 439.7h1.4M465.7 451.4h1.4M456.9 460.1h1.4M462.6 450.8h1.4M452.7 459.0h1.4M465.2 436.7h1.4M453.6 429.3h1.4M467.9 439.3h1.4M448.8 444.8h1.4M454.9 436.1h1.4M463.1 435.6h1.4M457.8 453.9h1.4M446.7 444.8h1.4M451.9 455.1h1.4M451.9 448.4h1.4M458.2 460.6h1.4M457.9 436.4h1.4M455.9 430.8h1.4M467.0 438.4h1.4M465.7 436.9h1.4M466.3 441.2h1.4M454.8 448.8h1.4M453.2 434.5h1.4M463.5 443.7h1.4M454.9 455.4h1.4M449.1 443.8h1.4M453.9 429.8h1.4M453.4 449.7h1.4M457.0 451.6h1.4M465.6 442.4h1.4M462.4 431.5h1.4M450.5 443.2h1.4M448.9 449.4h1.4M448.9 439.6h1.4M459.3 436.6h1.4M448.5 442.6h1.4M463.6 448.3h1.4M451.0 432.8h1.4M465.2 452.1h1.4M455.8 430.6h1.4M451.8 442.6h1.4M452.6 433.0h1.4M461.6 430.1h1.4M448.5 449.9h1.4M466.7 439.2h1.4M461.9 429.6h1.4M449.5 449.7h1.4M464.7 444.3h1.4M461.7 447.4h1.4M464.8 435.1h1.4M451.2 440.6h1.4M448.6 444.9h1.4M457.5 426.9h1.4M459.6 436.9h1.4M452.8 436.0h1.4M449.6 444.8h1.4M449.1 437.7h1.4M459.5 458.8h1.4M463.6 440.2h1.4M454.8 460.5h1.4M460.1 456.7h1.4M448.0 436.5h1.4M462.1 455.2h1.4M453.2 430.2h1.4M454.6 459.6h1.4M448.4 451.3h1.4M458.8 457.2h1.4M464.2 440.3h1.4M459.1 448.1h1.4M451.8 440.2h1.4M464.5 432.3h1.4M447.6 439.2h1.4M455.4 444.1h1.4M456.5 434.0h1.4M464.6 446.6h1.4M460.0 457.5h1.4M458.0 428.4h1.4M458.8 428.2h1.4M455.6 429.0h1.4M466.2 442.3h1.4M448.8 451.2h1.4M466.7 446.1h1.4M467.3 443.4h1.4M455.7 427.0h1.4M455.0 428.7h1.4M453.4 432.6h1.4M466.4 446.2h1.4M464.2 444.7h1.4M464.9 444.8h1.4M446.5 452.4h1.4M459.1 433.0h1.4M448.9 442.0h1.4M447.8 443.7h1.4M451.4 453.0h1.4M453.6 460.5h1.4M456.3 460.6h1.4M466.3 438.0h1.4M455.3 456.4h1.4M447.8 452.1h1.4M465.5 439.0h1.4M450.3 446.9h1.4M457.6 435.0h1.4M463.5 451.3h1.4M458.8 435.5h1.4M452.9 455.6h1.4M461.7 445.6h1.4M453.4 432.5h1.4M465.6 442.9h1.4M455.2 459.8h1.4M461.9 432.2h1.4M446.8 446.3h1.4M446.7 444.3h1.4M448.2 450.3h1.4M457.0 429.0h1.4M459.7 459.4h1.4M465.1 436.3h1.4M465.5 449.4h1.4M449.9 443.9h1.4M461.8 452.3h1.4M466.3 439.8h1.4M451.6 456.0h1.4M464.4 443.5h1.4M447.4 439.3h1.4M463.9 434.1h1.4M458.2 455.0h1.4M460.5 453.1h1.4M455.8 436.1h1.4M461.6 434.2h1.4M465.0 442.4h1.4M446.5 439.2h1.4M448.0 441.3h1.4M448.7 452.9h1.4M454.2 445.4h1.4M466.3 439.7h1.4M454.9 430.9h1.4M454.8 433.7h1.4M461.0 444.4h1.4M466.1 446.5h1.4M463.5 435.2h1.4M448.2 449.6h1.4M451.1 456.1h1.4M452.0 443.1h1.4M450.7 437.0h1.4M450.9 434.5h1.4M453.3 454.0h1.4M457.5 455.3h1.4M452.0 433.4h1.4M452.8 451.4h1.4M449.5 436.2h1.4M466.0 450.6h1.4M455.8 429.9h1.4M459.8 431.6h1.4M449.8 453.6h1.4M465.6 441.1h1.4M464.2 445.8h1.4M460.4 436.9h1.4M455.5 429.0h1.4M457.7 431.0h1.4M466.4 436.2h1.4M452.4 459.1h1.4M450.0 439.2h1.4M449.1 450.9h1.4M465.5 448.6h1.4M458.3 434.4h1.4M456.7 460.5h1.4M455.8 459.5h1.4M455.3 450.3h1.4M463.5 451.6h1.4M456.4 428.5h1.4M460.3 458.5h1.4M465.2 450.0h1.4M461.6 458.1h1.4M458.8 455.9h1.4M452.9 445.2h1.4M454.9 460.2h1.4M467.0 447.0h1.4M449.8 442.4h1.4M448.9 455.1h1.4M460.7 428.9h1.4M463.0 454.0h1.4M460.7 455.3h1.4M453.4 457.0h1.4M465.9 439.1h1.4M457.4 453.7h1.4M459.3 435.1h1.4M452.1 436.6h1.4M461.0 428.7h1.4M466.0 449.3h1.4M452.0 455.4h1.4M458.3 428.2h1.4M459.5 433.7h1.4M460.7 457.0h1.4M451.4 435.4h1.4M448.3 443.5h1.4M456.1 431.6h1.4M450.8 430.9h1.4M464.4 441.2h1.4M467.4 446.5h1.4M465.5 442.1h1.4M459.5 458.4h1.4M461.3 434.4h1.4M451.1 435.1h1.4M461.2 453.1h1.4M464.3 451.8h1.4M461.7 456.2h1.4M453.9 434.8h1.4M461.3 456.6h1.4M452.9 461.6h1.4M447.9 450.9h1.4M466.3 439.1h1.4M450.2 456.8h1.4M457.7 435.8h1.4M465.5 438.5h1.4M448.5 453.0h1.4M456.5 432.9h1.4M451.1 432.1h1.4M454.4 433.5h1.4M449.1 438.1h1.4M465.9 433.4h1.4M468.0 439.0h1.4M453.2 455.8h1.4M464.2 454.8h1.4M457.0 433.9h1.4M452.8 432.1h1.4M447.7 440.2h1.4M461.9 433.7h1.4M456.5 440.9h1.4M450.6 437.0h1.4M447.3 450.1h1.4M451.3 432.6h1.4M454.6 434.2h1.4M452.2 429.4h1.4" stroke="#178ff3" stroke-width="1.4" fill="none"/>
<path d="M466.5 458.6h1.4M457.3 438.1h1.4M459.2 443.6h1.4M470.7 427.7h1.4M456.2 444.5h1.4M442.9 436.4h1.4M453.8 445.0h1.4M449.7 431.5h1.4M459.8 453.4h1.4M463.0 440.7h1.4M441.0 443.7h1.4M444.1 442.2h1.4M450.3 421.9h1.4M470.5 441.9h1.4M457.3 421.0h1.4M454.3 424.2h1.4M447.8 434.8h1.4M438.3 426.4h1.4M465.6 449.8h1.4M450.3 444.2h1.4M457.9 452.0h1.4M447.2 463.1h1.4M457.6 443.1h1.4M457.0 416.7h1.4M454.3 457.9h1.4M461.0 430.6h1.4M479.5 424.2h1.4M444.9 439.6h1.4M477.7 438.5h1.4M446.7 452.9h1.4M446.4 451.9h1.4M464.3 435.7h1.4M471.0 447.0h1.4M456.0 452.3h1.4M452.1 444.5h1.4M457.9 441.6h1.4M459.6 450.1h1.4M449.7 459.3h1.4M462.8 439.1h1.4M451.1 428.0h1.4M456.5 452.0h1.4M453.2 440.3h1.4M467.6 464.6h1.4M447.1 445.4h1.4M471.9 449.3h1.4M458.6 440.4h1.4M473.6 436.9h1.4M458.5 443.7h1.4M449.9 456.8h1.4M458.9 438.1h1.4M465.1 442.3h1.4M465.5 443.1h1.4M448.9 445.9h1.4M459.9 442.6h1.4M456.4 447.8h1.4M448.5 463.4h1.4M465.5 442.4h1.4M462.4 441.0h1.4M459.3 429.6h1.4M447.8 439.2h1.4" stroke="#3d7fcc" stroke-width="1.4" fill="none"/>
<path d="M408.3 478.2h1.4M447.2 485.4h1.4M442.9 422.8h1.4M473.1 483.9h1.4M432.1 484.3h1.4M438.7 483.5h1.4M441.3 482.0h1.4M447.4 485.5h1.4" stroke="#9c5060" stroke-width="1.4" fill="none"/>
<path d="M392.5 504.4v-4.8M392.5 380.7v4.8M392.5 504.4h4.8M515 504.4h-4.8M401.7 504.4v-2.4M401.7 380.7v2.4M392.5 495.1h2.4M515 495.1h-2.4M407.1 504.4v-2.4M407.1 380.7v2.4M392.5 489.6h2.4M515 489.6h-2.4M410.9 504.4v-2.4M410.9 380.7v2.4M392.5 485.8h2.4M515 485.8h-2.4M413.9 504.4v-2.4M413.9 380.7v2.4M392.5 482.8h2.4M515 482.8h-2.4M416.3 504.4v-2.4M416.3 380.7v2.4M392.5 480.3h2.4M515 480.3h-2.4M418.4 504.4v-2.4M418.4 380.7v2.4M392.5 478.3h2.4M515 478.3h-2.4M420.2 504.4v-2.4M420.2 380.7v2.4M392.5 476.5h2.4M515 476.5h-2.4M421.7 504.4v-2.4M421.7 380.7v2.4M392.5 474.9h2.4M515 474.9h-2.4M423.1 504.4v-4.8M423.1 380.7v4.8M392.5 473.5h4.8M515 473.5h-4.8M432.3 504.4v-2.4M432.3 380.7v2.4M392.5 464.2h2.4M515 464.2h-2.4M437.7 504.4v-2.4M437.7 380.7v2.4M392.5 458.7h2.4M515 458.7h-2.4M441.6 504.4v-2.4M441.6 380.7v2.4M392.5 454.9h2.4M515 454.9h-2.4M444.5 504.4v-2.4M444.5 380.7v2.4M392.5 451.9h2.4M515 451.9h-2.4M447 504.4v-2.4M447 380.7v2.4M392.5 449.4h2.4M515 449.4h-2.4M449 504.4v-2.4M449 380.7v2.4M392.5 447.3h2.4M515 447.3h-2.4M450.8 504.4v-2.4M450.8 380.7v2.4M392.5 445.5h2.4M515 445.5h-2.4M452.3 504.4v-2.4M452.3 380.7v2.4M392.5 444h2.4M515 444h-2.4M453.8 504.4v-4.8M453.8 380.7v4.8M392.5 442.5h4.8M515 442.5h-4.8M463 504.4v-2.4M463 380.7v2.4M392.5 433.2h2.4M515 433.2h-2.4M468.4 504.4v-2.4M468.4 380.7v2.4M392.5 427.8h2.4M515 427.8h-2.4M472.2 504.4v-2.4M472.2 380.7v2.4M392.5 423.9h2.4M515 423.9h-2.4M475.2 504.4v-2.4M475.2 380.7v2.4M392.5 420.9h2.4M515 420.9h-2.4M477.6 504.4v-2.4M477.6 380.7v2.4M392.5 418.5h2.4M515 418.5h-2.4M479.6 504.4v-2.4M479.6 380.7v2.4M392.5 416.4h2.4M515 416.4h-2.4M481.4 504.4v-2.4M481.4 380.7v2.4M392.5 414.6h2.4M515 414.6h-2.4M483 504.4v-2.4M483 380.7v2.4M392.5 413h2.4M515 413h-2.4M484.4 504.4v-4.8M484.4 380.7v4.8M392.5 411.6h4.8M515 411.6h-4.8M493.6 504.4v-2.4M493.6 380.7v2.4M392.5 402.3h2.4M515 402.3h-2.4M499 504.4v-2.4M499 380.7v2.4M392.5 396.9h2.4M515 396.9h-2.4M502.8 504.4v-2.4M502.8 380.7v2.4M392.5 393h2.4M515 393h-2.4M505.8 504.4v-2.4M505.8 380.7v2.4M392.5 390h2.4M515 390h-2.4M508.2 504.4v-2.4M508.2 380.7v2.4M392.5 387.6h2.4M515 387.6h-2.4M510.3 504.4v-2.4M510.3 380.7v2.4M392.5 385.5h2.4M515 385.5h-2.4M512 504.4v-2.4M512 380.7v2.4M392.5 383.7h2.4M515 383.7h-2.4M513.6 504.4v-2.4M513.6 380.7v2.4M392.5 382.1h2.4M515 382.1h-2.4" stroke="#000" stroke-width="1.1" fill="none"/>
<path d="M392.5 504.4V380.7H515" stroke="#000" stroke-width="2" fill="none"/>
<path d="M515 380.2V504.4H391.5" stroke="#000" stroke-width="1.5" fill="none"/>
<text x="392.5" y="511.7" class="tl" text-anchor="middle">10<tspan class="sp" dy="-2.2">0</tspan></text>
<text x="391.7" y="506.8" class="tl" text-anchor="end">10<tspan class="sp" dy="-2.2">0</tspan></text>
<text x="423.1" y="511.7" class="tl" text-anchor="middle">10<tspan class="sp" dy="-2.2">1</tspan></text>
<text x="391.7" y="475.9" class="tl" text-anchor="end">10<tspan class="sp" dy="-2.2">1</tspan></text>
<text x="453.8" y="511.7" class="tl" text-anchor="middle">10<tspan class="sp" dy="-2.2">2</tspan></text>
<text x="391.7" y="444.9" class="tl" text-anchor="end">10<tspan class="sp" dy="-2.2">2</tspan></text>
<text x="484.4" y="511.7" class="tl" text-anchor="middle">10<tspan class="sp" dy="-2.2">3</tspan></text>
<text x="391.7" y="414" class="tl" text-anchor="end">10<tspan class="sp" dy="-2.2">3</tspan></text>
<text x="515" y="511.7" class="tl" text-anchor="middle">10<tspan class="sp" dy="-2.2">4</tspan></text>
<text x="391.7" y="383.1" class="tl" text-anchor="end">10<tspan class="sp" dy="-2.2">4</tspan></text>
<text x="513.2" y="397.3" class="num" text-anchor="end">3</text>
<text x="396" y="501.3" class="num">23</text>
<text x="513.2" y="501.3" class="num" text-anchor="end">74</text>

<text x="275.3" y="12.9" class="h" letter-spacing="0.3">DAY 0</text>
<text x="77.4" y="89" class="h" xml:space="preserve" letter-spacing="-0.1">NO  CYTOKINES</text>
<text x="133.4" y="195.5" class="h" letter-spacing="0.35">DAY 2</text>
<text x="281.6" y="195.7" class="h" letter-spacing="0.3">DAY 4</text>
<text x="433.9" y="195" class="h" letter-spacing="0.35">DAY 6</text>
<text x="42.8" y="254.2" class="h">IL-3</text>
<text x="42.8" y="273.7" class="h">IL-6</text>
<text x="42.8" y="293.3" class="h">LIF</text>
<text x="44.8" y="416.5" class="h">TPO</text>
<text x="44.8" y="436" class="h">KL</text>
<text x="44.8" y="455.2" class="h">FL</text>
<text x="251.6" y="597.9" class="h" letter-spacing="-0.18">CD34-FITC</text>
<text transform="translate(18.6 380.3) rotate(-90)" class="h" letter-spacing="-0.2">PKH26</text>
<text x="2.1" y="612.6" class="A">A</text>
<path d="M30.2 574V30" stroke="#000" stroke-width="3.4" fill="none"/>
<path d="M28.5 573.1H510" stroke="#000" stroke-width="3.5" fill="none"/>
<path d="M30.2 22.3L24.8 33.5L30.2 31.5L35.8 33.5Z" fill="#000"/>
<path d="M517.8 573.1L506.2 567.6L508.5 573.1L506.2 578.8Z" fill="#000"/>

</svg></body></html>
